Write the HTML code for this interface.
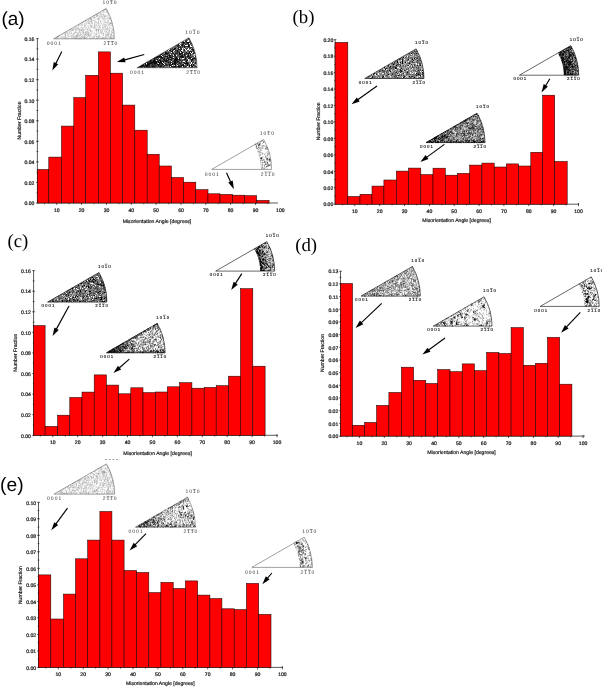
<!DOCTYPE html>
<html lang="en"><head><meta charset="utf-8"><title>Misorientation angle distributions</title>
<style>
html,body{margin:0;padding:0;background:#fff;}
body{width:602px;height:687px;overflow:hidden;}
svg{display:block;text-rendering:geometricPrecision;}
.t{font-family:"Liberation Sans",Arial,sans-serif;font-size:5.1px;fill:#111;stroke:#111;stroke-width:.2;}
.t2{font-family:"Liberation Sans",Arial,sans-serif;font-size:5.1px;fill:#111;stroke:#111;stroke-width:.18;}
.k{font-family:"Liberation Sans",Arial,sans-serif;font-size:5px;fill:#333;letter-spacing:1px;}
.k2{font-family:"Liberation Sans",Arial,sans-serif;font-size:4.4px;fill:#000;stroke:#000;stroke-width:.1;letter-spacing:1.05px;}
.ps{font-family:"Liberation Sans",Arial,sans-serif;fill:#000;}
.pr{font-family:"Liberation Serif","Times New Roman",serif;fill:#000;}
.bar{fill:#fe0000;stroke:#1a0000;stroke-width:.55;}
.ax{stroke:#000;stroke-width:.65;fill:none;}
.wl{stroke:#444;stroke-width:.5;fill:none;}
.wd{stroke:#555;stroke-width:.5;fill:none;stroke-dasharray:.7 .8;}
.wl2{stroke:#000;stroke-width:.6;fill:none;}
</style></head><body>
<svg width="602" height="687" viewBox="0 0 602 687">
<defs><filter id="soft" x="-5%" y="-5%" width="110%" height="110%"><feGaussianBlur stdDeviation=".35"/></filter></defs>
<rect width="602" height="687" fill="#fff"/>
<g filter="url(#soft)">
<g id="panel-a">
<path class="ax" d="M37.4 38.6V203H278M38.7 203h-2.6M38.2 192.7h-1.6M38.7 182.4h-2.6M38.2 172.2h-1.6M38.7 161.9h-2.6M38.2 151.6h-1.6M38.7 141.3h-2.6M38.2 131.1h-1.6M38.7 120.8h-2.6M38.2 110.5h-1.6M38.7 100.2h-2.6M38.2 90h-1.6M38.7 79.7h-2.6M38.2 69.4h-1.6M38.7 59.1h-2.6M38.2 48.9h-1.6M38.7 38.6h-2.6M44.4 202.2v2M56.8 201.7v3.2M69.2 202.2v2M81.6 201.7v3.2M94 202.2v2M106.5 201.7v3.2M118.9 202.2v2M131.3 201.7v3.2M143.7 202.2v2M156.1 201.7v3.2M168.6 202.2v2M181 201.7v3.2M193.4 202.2v2M205.8 201.7v3.2M218.2 202.2v2M230.6 201.7v3.2M243.1 202.2v2M255.5 201.7v3.2M267.9 202.2v2"/>
<rect class="bar" x="37.4" y="169.5" width="11.4" height="33.5"/>
<rect class="bar" x="48.8" y="157.1" width="12.7" height="45.9"/>
<rect class="bar" x="61.5" y="126.1" width="12.3" height="76.9"/>
<rect class="bar" x="73.8" y="97.6" width="11.9" height="105.4"/>
<rect class="bar" x="85.7" y="75.3" width="12.7" height="127.7"/>
<rect class="bar" x="98.4" y="51.9" width="12" height="151.1"/>
<rect class="bar" x="110.4" y="73.2" width="12.2" height="129.8"/>
<rect class="bar" x="122.6" y="105.1" width="12.2" height="97.9"/>
<rect class="bar" x="134.8" y="130.2" width="12.4" height="72.8"/>
<rect class="bar" x="147.2" y="154.3" width="12" height="48.7"/>
<rect class="bar" x="159.2" y="166" width="12.2" height="37"/>
<rect class="bar" x="171.4" y="177.5" width="12.2" height="25.5"/>
<rect class="bar" x="183.6" y="182.2" width="12.2" height="20.8"/>
<rect class="bar" x="195.8" y="189.7" width="12.2" height="13.3"/>
<rect class="bar" x="208" y="193.8" width="12" height="9.2"/>
<rect class="bar" x="220" y="194.4" width="12.4" height="8.6"/>
<rect class="bar" x="232.4" y="195.2" width="12" height="7.8"/>
<rect class="bar" x="244.4" y="195.7" width="12.2" height="7.3"/>
<rect class="bar" x="256.6" y="200.4" width="12.5" height="2.6"/>
<text class="t" x="34.4" y="205.2" text-anchor="end">0.00</text>
<text class="t" x="34.4" y="184.6" text-anchor="end">0.02</text>
<text class="t" x="34.4" y="164.1" text-anchor="end">0.04</text>
<text class="t" x="34.4" y="143.5" text-anchor="end">0.06</text>
<text class="t" x="34.4" y="123" text-anchor="end">0.08</text>
<text class="t" x="34.4" y="102.5" text-anchor="end">0.10</text>
<text class="t" x="34.4" y="81.9" text-anchor="end">0.12</text>
<text class="t" x="34.4" y="61.3" text-anchor="end">0.14</text>
<text class="t" x="34.4" y="40.8" text-anchor="end">0.16</text>
<text class="t" x="56.8" y="212.1" text-anchor="middle">10</text>
<text class="t" x="81.6" y="212.1" text-anchor="middle">20</text>
<text class="t" x="106.5" y="212.1" text-anchor="middle">30</text>
<text class="t" x="131.3" y="212.1" text-anchor="middle">40</text>
<text class="t" x="156.1" y="212.1" text-anchor="middle">50</text>
<text class="t" x="181" y="212.1" text-anchor="middle">60</text>
<text class="t" x="205.8" y="212.1" text-anchor="middle">70</text>
<text class="t" x="230.6" y="212.1" text-anchor="middle">80</text>
<text class="t" x="255.5" y="212.1" text-anchor="middle">90</text>
<text class="t" x="280.3" y="212.1" text-anchor="middle">100</text>
<text class="t2" transform="translate(20.6 120.5) rotate(-90)" text-anchor="middle">Number Fraction</text>
<text class="t2" x="157" y="223.1" text-anchor="middle">Misorientation Angle [degrees]</text>
</g>
<g id="panel-b">
<path class="ax" d="M335.1 39.7V204.2H579M336.4 204.2h-2.6M335.9 196h-1.6M336.4 187.8h-2.6M335.9 179.5h-1.6M336.4 171.3h-2.6M335.9 163.1h-1.6M336.4 154.8h-2.6M335.9 146.6h-1.6M336.4 138.4h-2.6M335.9 130.2h-1.6M336.4 121.9h-2.6M335.9 113.7h-1.6M336.4 105.5h-2.6M335.9 97.3h-1.6M336.4 89h-2.6M335.9 80.8h-1.6M336.4 72.6h-2.6M335.9 64.4h-1.6M336.4 56.2h-2.6M335.9 47.9h-1.6M336.4 39.7h-2.6M342.4 203.4v2M354.8 202.9v3.2M367.2 203.4v2M379.7 202.9v3.2M392.1 203.4v2M404.5 202.9v3.2M416.9 203.4v2M429.4 202.9v3.2M441.8 203.4v2M454.2 202.9v3.2M466.6 203.4v2M479.1 202.9v3.2M491.5 203.4v2M503.9 202.9v3.2M516.4 203.4v2M528.8 202.9v3.2M541.2 203.4v2M553.6 202.9v3.2M566.1 203.4v2M578.5 202.9v3.2"/>
<rect class="bar" x="335.1" y="42.4" width="12.7" height="161.8"/>
<rect class="bar" x="347.8" y="196.5" width="12.2" height="7.7"/>
<rect class="bar" x="360" y="194.3" width="12" height="9.9"/>
<rect class="bar" x="372" y="186.1" width="11.9" height="18.1"/>
<rect class="bar" x="383.9" y="180" width="12.5" height="24.2"/>
<rect class="bar" x="396.4" y="171.1" width="12.2" height="33.1"/>
<rect class="bar" x="408.6" y="168.1" width="12.2" height="36.1"/>
<rect class="bar" x="420.8" y="174.6" width="12.2" height="29.6"/>
<rect class="bar" x="433" y="168.2" width="12.3" height="36"/>
<rect class="bar" x="445.3" y="175.2" width="12.2" height="29"/>
<rect class="bar" x="457.5" y="173.4" width="12.2" height="30.8"/>
<rect class="bar" x="469.7" y="165.1" width="12.2" height="39.1"/>
<rect class="bar" x="481.9" y="163.1" width="12.3" height="41.1"/>
<rect class="bar" x="494.2" y="167" width="12.2" height="37.2"/>
<rect class="bar" x="506.4" y="163.9" width="12.2" height="40.3"/>
<rect class="bar" x="518.6" y="166" width="12.2" height="38.2"/>
<rect class="bar" x="530.8" y="152.3" width="11.9" height="51.9"/>
<rect class="bar" x="542.7" y="95.2" width="12" height="109"/>
<rect class="bar" x="554.7" y="161.5" width="12.5" height="42.7"/>
<text class="t" x="333.3" y="206.4" text-anchor="end">0.00</text>
<text class="t" x="333.3" y="189.9" text-anchor="end">0.02</text>
<text class="t" x="333.3" y="173.5" text-anchor="end">0.04</text>
<text class="t" x="333.3" y="157" text-anchor="end">0.06</text>
<text class="t" x="333.3" y="140.6" text-anchor="end">0.08</text>
<text class="t" x="333.3" y="124.1" text-anchor="end">0.10</text>
<text class="t" x="333.3" y="107.7" text-anchor="end">0.12</text>
<text class="t" x="333.3" y="91.2" text-anchor="end">0.14</text>
<text class="t" x="333.3" y="74.8" text-anchor="end">0.16</text>
<text class="t" x="333.3" y="58.4" text-anchor="end">0.18</text>
<text class="t" x="333.3" y="41.9" text-anchor="end">0.20</text>
<text class="t" x="354.8" y="213.3" text-anchor="middle">10</text>
<text class="t" x="379.7" y="213.3" text-anchor="middle">20</text>
<text class="t" x="404.5" y="213.3" text-anchor="middle">30</text>
<text class="t" x="429.4" y="213.3" text-anchor="middle">40</text>
<text class="t" x="454.2" y="213.3" text-anchor="middle">50</text>
<text class="t" x="479.1" y="213.3" text-anchor="middle">60</text>
<text class="t" x="503.9" y="213.3" text-anchor="middle">70</text>
<text class="t" x="528.8" y="213.3" text-anchor="middle">80</text>
<text class="t" x="553.6" y="213.3" text-anchor="middle">90</text>
<text class="t" x="578.5" y="213.3" text-anchor="middle">100</text>
<text class="t2" transform="translate(319.5 121.3) rotate(-90)" text-anchor="middle">Number Fraction</text>
<text class="t2" x="456.6" y="222.4" text-anchor="middle">Misorientation Angle [degrees]</text>
</g>
<g id="panel-c">
<path class="ax" d="M33.6 270.6V435.3H277.7M34.9 435.3h-2.6M34.4 425h-1.6M34.9 414.7h-2.6M34.4 404.4h-1.6M34.9 394.1h-2.6M34.4 383.8h-1.6M34.9 373.5h-2.6M34.4 363.2h-1.6M34.9 352.9h-2.6M34.4 342.7h-1.6M34.9 332.4h-2.6M34.4 322.1h-1.6M34.9 311.8h-2.6M34.4 301.5h-1.6M34.9 291.2h-2.6M34.4 280.9h-1.6M34.9 270.6h-2.6M40.3 434.5v2M52.8 434v3.2M65.3 434.5v2M77.7 434v3.2M90.2 434.5v2M102.6 434v3.2M115.1 434.5v2M127.5 434v3.2M140 434.5v2M152.4 434v3.2M164.9 434.5v2M177.4 434v3.2M189.8 434.5v2M202.3 434v3.2M214.7 434.5v2M227.2 434v3.2M239.6 434.5v2M252.1 434v3.2M264.5 434.5v2M277 434v3.2"/>
<rect class="bar" x="33.6" y="325.6" width="11.5" height="109.7"/>
<rect class="bar" x="45.1" y="426.4" width="12.5" height="8.9"/>
<rect class="bar" x="57.6" y="415.2" width="12.2" height="20.1"/>
<rect class="bar" x="69.8" y="397.5" width="12.2" height="37.8"/>
<rect class="bar" x="82" y="392.1" width="12.2" height="43.2"/>
<rect class="bar" x="94.2" y="374.9" width="12.2" height="60.4"/>
<rect class="bar" x="106.4" y="385.1" width="12.2" height="50.2"/>
<rect class="bar" x="118.6" y="393.8" width="12.2" height="41.5"/>
<rect class="bar" x="130.8" y="387.8" width="12.2" height="47.5"/>
<rect class="bar" x="143" y="392.6" width="12.3" height="42.7"/>
<rect class="bar" x="155.3" y="392" width="12" height="43.3"/>
<rect class="bar" x="167.3" y="386.8" width="12.3" height="48.5"/>
<rect class="bar" x="179.6" y="382.7" width="12.3" height="52.6"/>
<rect class="bar" x="191.9" y="388.2" width="12.3" height="47.1"/>
<rect class="bar" x="204.2" y="387.4" width="12" height="47.9"/>
<rect class="bar" x="216.2" y="385.7" width="12.3" height="49.6"/>
<rect class="bar" x="228.5" y="376.2" width="12" height="59.1"/>
<rect class="bar" x="240.5" y="288.7" width="12.3" height="146.6"/>
<rect class="bar" x="252.8" y="366.2" width="12.3" height="69.1"/>
<text class="t" x="30.9" y="437.5" text-anchor="end">0.00</text>
<text class="t" x="30.9" y="416.9" text-anchor="end">0.02</text>
<text class="t" x="30.9" y="396.3" text-anchor="end">0.04</text>
<text class="t" x="30.9" y="375.7" text-anchor="end">0.06</text>
<text class="t" x="30.9" y="355.1" text-anchor="end">0.08</text>
<text class="t" x="30.9" y="334.6" text-anchor="end">0.10</text>
<text class="t" x="30.9" y="314" text-anchor="end">0.12</text>
<text class="t" x="30.9" y="293.4" text-anchor="end">0.14</text>
<text class="t" x="30.9" y="272.8" text-anchor="end">0.16</text>
<text class="t" x="52.8" y="444.2" text-anchor="middle">10</text>
<text class="t" x="77.7" y="444.2" text-anchor="middle">20</text>
<text class="t" x="102.6" y="444.2" text-anchor="middle">30</text>
<text class="t" x="127.5" y="444.2" text-anchor="middle">40</text>
<text class="t" x="152.4" y="444.2" text-anchor="middle">50</text>
<text class="t" x="177.4" y="444.2" text-anchor="middle">60</text>
<text class="t" x="202.3" y="444.2" text-anchor="middle">70</text>
<text class="t" x="227.2" y="444.2" text-anchor="middle">80</text>
<text class="t" x="252.1" y="444.2" text-anchor="middle">90</text>
<text class="t" x="277" y="444.2" text-anchor="middle">100</text>
<text class="t2" transform="translate(16.8 352.7) rotate(-90)" text-anchor="middle">Number Fraction</text>
<text class="t2" x="157.6" y="455.4" text-anchor="middle">Misorientation Angle [degrees]</text>
</g>
<g id="panel-d">
<path class="ax" d="M340.5 271.2V436.1H584.9M341.8 436.1h-2.6M341.3 429.8h-1.6M341.8 423.4h-2.6M341.3 417.1h-1.6M341.8 410.7h-2.6M341.3 404.4h-1.6M341.8 398h-2.6M341.3 391.7h-1.6M341.8 385.4h-2.6M341.3 379h-1.6M341.8 372.7h-2.6M341.3 366.3h-1.6M341.8 360h-2.6M341.3 353.6h-1.6M341.8 347.3h-2.6M341.3 341h-1.6M341.8 334.6h-2.6M341.3 328.3h-1.6M341.8 321.9h-2.6M341.3 315.6h-1.6M341.8 309.3h-2.6M341.3 302.9h-1.6M341.8 296.6h-2.6M341.3 290.2h-1.6M341.8 283.9h-2.6M341.3 277.5h-1.6M341.8 271.2h-2.6M347 435.3v2M359.4 434.8v3.2M371.8 435.3v2M384.3 434.8v3.2M396.7 435.3v2M409.1 434.8v3.2M421.5 435.3v2M434 434.8v3.2M446.4 435.3v2M458.8 434.8v3.2M471.2 435.3v2M483.7 434.8v3.2M496.1 435.3v2M508.5 434.8v3.2M521 435.3v2M533.4 434.8v3.2M545.8 435.3v2M558.2 434.8v3.2M570.7 435.3v2M583.1 434.8v3.2"/>
<rect class="bar" x="340.5" y="283.5" width="12" height="152.6"/>
<rect class="bar" x="352.5" y="425.3" width="12.2" height="10.8"/>
<rect class="bar" x="364.7" y="422.4" width="11.9" height="13.7"/>
<rect class="bar" x="376.6" y="405.4" width="12.3" height="30.7"/>
<rect class="bar" x="388.9" y="392.5" width="12.5" height="43.6"/>
<rect class="bar" x="401.4" y="367.2" width="12.2" height="68.9"/>
<rect class="bar" x="413.6" y="380.3" width="12.2" height="55.8"/>
<rect class="bar" x="425.8" y="383.5" width="11.9" height="52.6"/>
<rect class="bar" x="437.7" y="369.6" width="12.3" height="66.5"/>
<rect class="bar" x="450" y="371.7" width="12.2" height="64.4"/>
<rect class="bar" x="462.2" y="363.9" width="12.2" height="72.2"/>
<rect class="bar" x="474.4" y="370.6" width="12.2" height="65.5"/>
<rect class="bar" x="486.6" y="352.5" width="12.3" height="83.6"/>
<rect class="bar" x="498.9" y="353.5" width="12.2" height="82.6"/>
<rect class="bar" x="511.1" y="327.6" width="12.2" height="108.5"/>
<rect class="bar" x="523.3" y="365.3" width="12.3" height="70.8"/>
<rect class="bar" x="535.6" y="363.3" width="11.9" height="72.8"/>
<rect class="bar" x="547.5" y="337.4" width="12.2" height="98.7"/>
<rect class="bar" x="559.7" y="384.2" width="12.2" height="51.9"/>
<text class="t" x="338.3" y="438.3" text-anchor="end">0.00</text>
<text class="t" x="338.3" y="425.6" text-anchor="end">0.01</text>
<text class="t" x="338.3" y="412.9" text-anchor="end">0.02</text>
<text class="t" x="338.3" y="400.2" text-anchor="end">0.03</text>
<text class="t" x="338.3" y="387.6" text-anchor="end">0.04</text>
<text class="t" x="338.3" y="374.9" text-anchor="end">0.05</text>
<text class="t" x="338.3" y="362.2" text-anchor="end">0.06</text>
<text class="t" x="338.3" y="349.5" text-anchor="end">0.07</text>
<text class="t" x="338.3" y="336.8" text-anchor="end">0.08</text>
<text class="t" x="338.3" y="324.1" text-anchor="end">0.09</text>
<text class="t" x="338.3" y="311.5" text-anchor="end">0.10</text>
<text class="t" x="338.3" y="298.8" text-anchor="end">0.11</text>
<text class="t" x="338.3" y="286.1" text-anchor="end">0.12</text>
<text class="t" x="338.3" y="273.4" text-anchor="end">0.13</text>
<text class="t" x="359.4" y="444.9" text-anchor="middle">10</text>
<text class="t" x="384.3" y="444.9" text-anchor="middle">20</text>
<text class="t" x="409.1" y="444.9" text-anchor="middle">30</text>
<text class="t" x="434" y="444.9" text-anchor="middle">40</text>
<text class="t" x="458.8" y="444.9" text-anchor="middle">50</text>
<text class="t" x="483.7" y="444.9" text-anchor="middle">60</text>
<text class="t" x="508.5" y="444.9" text-anchor="middle">70</text>
<text class="t" x="533.4" y="444.9" text-anchor="middle">80</text>
<text class="t" x="558.2" y="444.9" text-anchor="middle">90</text>
<text class="t" x="583.1" y="444.9" text-anchor="middle">100</text>
<text class="t2" transform="translate(324.2 353) rotate(-90)" text-anchor="middle">Number Fraction</text>
<text class="t2" x="461.5" y="453.8" text-anchor="middle">Misorientation Angle [degrees]</text>
</g>
<g id="panel-e">
<path class="ax" d="M38.5 502.3V667.4H282.9M39.8 667.4h-2.6M39.3 659.1h-1.6M39.8 650.9h-2.6M39.3 642.6h-1.6M39.8 634.4h-2.6M39.3 626.1h-1.6M39.8 617.9h-2.6M39.3 609.6h-1.6M39.8 601.4h-2.6M39.3 593.1h-1.6M39.8 584.9h-2.6M39.3 576.6h-1.6M39.8 568.3h-2.6M39.3 560.1h-1.6M39.8 551.8h-2.6M39.3 543.6h-1.6M39.8 535.3h-2.6M39.3 527.1h-1.6M39.8 518.8h-2.6M39.3 510.6h-1.6M39.8 502.3h-2.6M45.8 666.6v2M58.3 666.1v3.2M70.8 666.6v2M83.2 666.1v3.2M95.6 666.6v2M108.1 666.1v3.2M120.5 666.6v2M133 666.1v3.2M145.4 666.6v2M157.9 666.1v3.2M170.3 666.6v2M182.8 666.1v3.2M195.2 666.6v2M207.7 666.1v3.2M220.1 666.6v2M232.6 666.1v3.2M245 666.6v2M257.5 666.1v3.2M269.9 666.6v2M282.4 666.1v3.2"/>
<rect class="bar" x="38.5" y="574.9" width="12.3" height="92.5"/>
<rect class="bar" x="50.8" y="619" width="12.7" height="48.4"/>
<rect class="bar" x="63.5" y="594.1" width="12" height="73.3"/>
<rect class="bar" x="75.5" y="558.8" width="12.2" height="108.6"/>
<rect class="bar" x="87.7" y="540.1" width="12.2" height="127.3"/>
<rect class="bar" x="99.9" y="511.5" width="12" height="155.9"/>
<rect class="bar" x="111.9" y="540.1" width="12.2" height="127.3"/>
<rect class="bar" x="124.1" y="570.5" width="12.5" height="96.9"/>
<rect class="bar" x="136.6" y="572.5" width="12.2" height="94.9"/>
<rect class="bar" x="148.8" y="592.6" width="12.1" height="74.8"/>
<rect class="bar" x="160.9" y="582.4" width="12.3" height="85"/>
<rect class="bar" x="173.2" y="588.5" width="12.2" height="78.9"/>
<rect class="bar" x="185.4" y="580.9" width="12.3" height="86.5"/>
<rect class="bar" x="197.7" y="595.1" width="12.2" height="72.3"/>
<rect class="bar" x="209.9" y="598.6" width="12" height="68.8"/>
<rect class="bar" x="221.9" y="608.8" width="12.3" height="58.6"/>
<rect class="bar" x="234.2" y="609.6" width="12.2" height="57.8"/>
<rect class="bar" x="246.4" y="583.4" width="12.3" height="84"/>
<rect class="bar" x="258.7" y="614.4" width="12.3" height="53"/>
<text class="t" x="36.1" y="669.6" text-anchor="end">0.00</text>
<text class="t" x="36.1" y="653.1" text-anchor="end">0.01</text>
<text class="t" x="36.1" y="636.6" text-anchor="end">0.02</text>
<text class="t" x="36.1" y="620.1" text-anchor="end">0.03</text>
<text class="t" x="36.1" y="603.6" text-anchor="end">0.04</text>
<text class="t" x="36.1" y="587.1" text-anchor="end">0.05</text>
<text class="t" x="36.1" y="570.5" text-anchor="end">0.06</text>
<text class="t" x="36.1" y="554" text-anchor="end">0.07</text>
<text class="t" x="36.1" y="537.5" text-anchor="end">0.08</text>
<text class="t" x="36.1" y="521" text-anchor="end">0.09</text>
<text class="t" x="36.1" y="504.5" text-anchor="end">0.10</text>
<text class="t" x="58.3" y="676.4" text-anchor="middle">10</text>
<text class="t" x="83.2" y="676.4" text-anchor="middle">20</text>
<text class="t" x="108.1" y="676.4" text-anchor="middle">30</text>
<text class="t" x="133" y="676.4" text-anchor="middle">40</text>
<text class="t" x="157.9" y="676.4" text-anchor="middle">50</text>
<text class="t" x="182.8" y="676.4" text-anchor="middle">60</text>
<text class="t" x="207.7" y="676.4" text-anchor="middle">70</text>
<text class="t" x="232.6" y="676.4" text-anchor="middle">80</text>
<text class="t" x="257.5" y="676.4" text-anchor="middle">90</text>
<text class="t" x="282.4" y="676.4" text-anchor="middle">100</text>
<text class="t2" transform="translate(22.3 585.1) rotate(-90)" text-anchor="middle">Number Fraction</text>
<text class="t2" x="160.3" y="685.1" text-anchor="middle">Misorientation Angle [degrees]</text>
</g>
<g id="ipf-1">
<path d="M87.8 36.1h.5M69.1 34.3h.5M67.5 35h.5M93.3 37.3h.5M89.3 22.2h.5M80.6 29.6h.5M98.5 29.3h.5M65.2 33.1h.5M76.4 37.4h.5M108 33.6h.5M101 29.4h.5M68.6 38.3h.5M102.2 27.7h.5M98.5 27.9h.5M103.9 19.5h.5M97.7 26.3h.5M104.6 31h.5M73.8 34.3h.5M76.3 32.8h.5M99.1 19.5h.5M109.4 29.5h.5M98 24.8h.5M102.3 12.4h.5M102.8 37.2h.5M95.8 14.6h.5M85.1 32.3h.5M62.3 36.6h.5M74.2 38.2h.5M75.1 36h.5M110 36.4h.5M93.6 18.8h.5M109.2 30.6h.5M85.9 22.6h.5M76.9 36.6h.5M81.8 31.4h.5M84.5 38.7h.5M88.7 28h.5M102 25.4h.5M103.3 37.4h.5M101.5 15.1h.5M90.6 30.9h.5M101.7 37.2h.5M81 36.4h.5M67.3 38.8h.5M72.4 35.1h.5M107.2 20.9h.5M83.4 33.3h.5M72.6 29.7h.5M93.5 28.4h.5M72.5 35.3h.5M108.4 34.1h.5M110.3 22.7h.5M98.1 38.2h.5M107.4 12.6h.5M83.8 32.9h.5M104.6 24.1h.5M88 34.7h.5M107.7 12.8h.5M104.2 18.1h.5M96.3 30.7h.5M63.5 37.3h.5M97.7 14.6h.5M104.4 9.8h.5M89.8 34.6h.5M80.2 35.9h.5M105.5 14.3h.5M98.2 18.9h.5M97.2 16.2h.5M104.3 25.8h.5M106.5 29.5h.5M111.9 26.5h.5M108.2 17h.5M75 37.1h.5M107.7 34.6h.5M109.9 18.6h.5M98.2 35.7h.5M109.7 18.9h.5M110.5 25.6h.5M108.2 32.7h.5M86 34.7h.5M83.6 32.1h.5M110.3 28.2h.5M94.6 17.7h.5M109.5 23.7h.5M97.3 38.4h.5M79.4 38.7h.5M77.8 32.6h.5M98 31.1h.5M94.9 20.8h.5M98.4 32.9h.5M104.8 24.8h.5M100.4 14.5h.5M99.2 26.4h.5M102.5 27h.5M90.4 19h.5M103.4 11.9h.5M93.4 17.3h.5M75.8 37.4h.5M69.6 36.7h.5M98.9 19h.5M75.6 30.1h.5M74 28.6h.5M78.4 25.2h.5M90.2 17.8h.5M77.2 33.3h.5M88.6 35.2h.5M104.9 38.3h.5M93.7 38.4h.5M99.6 26.1h.5M108.5 14.7h.5M72.9 36.1h.5M106.4 31.3h.5M88.4 20.7h.5M84.2 36.4h.5M96.2 22.4h.5M67.1 33.7h.5M67.8 31.1h.5M107.7 36.4h.5M67.5 32h.5M87.3 28.7h.5M84.7 36.7h.5M83 37.1h.5M67 37.4h.5M84.3 25.8h.5M96.1 34.8h.5M61.5 37.7h.5M103.2 24h.5M90.3 19.2h.5M106.9 26.5h.5M107.6 27.5h.5M97.2 14.1h.5M105 18.8h.5M91.4 31.8h.5M75.3 38h.5M84 36.2h.5M103.4 14.3h.5M85.4 34.7h.5M94.4 35.4h.5M80.7 23.8h.5M97.9 33.1h.5M86.6 32.5h.5M89.7 29.6h.5M79.7 31.7h.5M84.6 37.3h.5M65.8 38.7h.5M81.3 30h.5M102.9 21.1h.5M109.1 27.3h.5M113.4 34.1h.5M102 37.7h.5M107.6 20.3h.5M107.9 34.8h.5M92.4 20.6h.5M106 22.2h.5M100.3 21h.5M64.1 38.1h.5M71.2 30.5h.5M98.9 23.3h.5M95.8 38.7h.5M104.1 25.2h.5M102.6 37.1h.5M83.9 37.6h.5M104.9 33.2h.5M111.3 23.5h.5M92.7 24.1h.5M98.4 23.1h.5M76.5 35.7h.5M85.4 29h.5M68.2 36.7h.5M100.7 21.3h.5M95.7 28.3h.5M72.1 29.4h.5M106.3 10.6h.5M90.8 21.7h.5M93.7 33.1h.5M112 32.3h.5M75.4 32.6h.5M73.5 29.6h.5M106.7 18.3h.5M109 24.3h.5M57 37.9h.5M86.7 36.3h.5M84.3 24.3h.5M101 16.5h.5M107.8 17.5h.5M85.5 32.5h.5M111.2 20.4h.5M92.7 33.1h.5M71 30.6h.5M111.6 31.2h.5M96.6 34.5h.5M106.5 12.3h.5M96.2 16.6h.5M95.2 22.3h.5M103.9 26.7h.5M101.6 31.5h.5M111.7 34.9h.5M88.5 33.3h.5M112.8 30.7h.5M85.3 29.2h.5M78.2 36.7h.5M109.2 24h.5M103.5 10h.5M76 36.5h.5M88.8 37.1h.5M82.9 29.7h.5M104.7 27.5h.5M96.5 30.2h.5M68.4 36.6h.5M74.2 33.2h.5M109.4 32.4h.5M83 32.5h.5M106.9 13.4h.5M62.4 38.6h.5M109.1 24.7h.5M54.2 38.6h.5M103.1 15h.5M83.6 37.1h.5M94.5 23.5h.5M102 21.7h.5M92.7 27.1h.5M106.7 32.3h.5M101.5 31.1h.5M82.2 28.9h.5M73.7 38.1h.5M98.8 29.5h.5M100.4 38.5h.5M89.5 19h.5M108.7 24.8h.5M79.8 24.3h.5M87 38.4h.5M102 27.9h.5M97.3 15.7h.5M64.5 36.8h.5M103.2 33.6h.5M103.7 25.2h.5M112.3 29.1h.5M82.4 35.4h.5M82.4 23.1h.5M79.5 35.7h.5M96.9 15.2h.5M91.2 34.6h.5M76.3 38.2h.5M87.3 21.6h.5M98.4 12.9h.5M88.1 35.4h.5M105.8 37.9h.5M90 31.5h.5M78.4 38.8h.5M85 21.6h.5M112.6 32.4h.5M103.4 15.9h.5M66.5 35.5h.5M111.3 32.9h.5M110.8 37.9h.5M103.7 17.5h.5M64.8 38.4h.5M81.9 27.1h.5M88.4 33.8h.5M100.6 32.3h.5M87.2 33.9h.5M100.2 14.5h.5M112.3 38.1h.5M90.1 18.7h.5M90.8 33.9h.5M91.1 18.9h.5M103.7 18.3h.5M104.1 22.1h.5M87.1 32.3h.5M70.4 37h.5M83.6 37.8h.5M97.8 31.2h.5M103 10.6h.5M71 37.9h.5M103.1 27h.5M90.5 26.3h.5M100.8 16.3h.5M72.5 29.8h.5M98.2 29.9h.5M80.3 35.3h.5M74.7 28.2h.5M87.3 31.7h.5M96.3 33.6h.5M96 14.5h.5M91.4 21.4h.5M111.4 37.6h.5M74.3 36.7h.5M94.3 17.1h.5M108.3 25.7h.5M100.5 13.4h.5M97.8 23.9h.5M90.1 36.1h.5M82.6 29.4h.5M80.8 38.6h.5M103.1 34h.5M78.4 27.7h.5M68.7 38h.5M95.9 24h.5M76.4 30.1h.5M85.3 33.6h.5M85.8 28.9h.5M88.6 21.7h.5M89.8 35h.5M80.8 38.7h.5M89.3 22.4h.5M108.7 25.2h.5M60.5 36.7h.5M111.2 36.1h.5M89.1 29.2h.5M84.5 30.1h.5M72.8 33.7h.5M112.7 32.7h.5M104.8 10h.5M65.8 32.3h.5M108.1 20.4h.5M75.7 29.1h.5M88.3 22.3h.5M79.2 35.8h.5M96.2 30.1h.5M81.4 27.6h.5M65.2 35.2h.5M64.2 33.8h.5M98.4 25.5h.5M86.2 31.5h.5M90.7 25.4h.5M93.6 38.3h.5M95.5 33.6h.5M105.4 26.1h.5M95.1 36.5h.5M93.2 36.9h.5M96.7 37.9h.5M69.6 32.3h.5M96.8 37.6h.5M86.2 21h.5M102.1 10.8h.5M107.9 33.3h.5M90.7 18.4h.5M76 28.9h.5M68.7 36h.5M75 27.9h.5M108 34.7h.5M111.2 32.5h.5M96 31.6h.5M79.2 36.6h.5M98 16.2h.5M107 35.6h.5M100.9 29.7h.5M96.5 25.3h.5M70.5 29.1h.5M88.2 23.4h.5M111 20.8h.5M105 26.6h.5M105.7 37.5h.5M82.3 28.8h.5M97.1 23h.5M56 38.8h.5M99.8 28.1h.5M110.7 34.8h.5M102.4 38.2h.5M89.5 36.8h.5M80.8 30.2h.5M79.4 30h.5M73.1 28.3h.5M76.8 37.6h.5M105.3 16.3h.5M84.6 38.6h.5M98.1 30.5h.5M89.1 19.8h.5M80.3 25h.5M96.6 29.5h.5M66.9 33h.5M93.1 17.5h.5M79.2 30.3h.5M97.7 18.7h.5M86.7 33.5h.5M105.9 16h.5M57.8 36.7h.5M91.7 23.1h.5M82.2 37.2h.5M65.2 36.7h.5M99.1 17.2h.5M83.4 29.9h.5M105.3 24.2h.5M95.9 15.3h.5M110.3 38.3h.5M80.7 27.6h.5M105 29.9h.5M87.9 34.5h.5M98.4 21.7h.5M111.6 24.2h.5M99 16.8h.5M102.8 23.6h.5M79.9 29.9h.5M111.1 34.4h.5M70.9 29.5h.5M76.3 38.5h.5M101.1 22.4h.5M105.4 37h.5M86.7 23.6h.5M110.6 36.8h.5M104.5 11.3h.5M80.9 37.2h.5M104.3 15.8h.5M105.5 20.9h.5M72.6 37.8h.5M80.5 34.2h.5M62.1 37.6h.5M103.8 29h.5M110.9 23.3h.5M101.1 38h.5M90.3 23h.5M102.3 24.7h.5M109.7 36.1h.5M78.5 38.8h.5M99.6 12.9h.5M94.5 28h.5M78.6 32.1h.5M108.2 31.3h.5M85.5 35.2h.5M96.2 36.3h.5M69.2 31.9h.5M104.3 21.4h.5M91 30.9h.5M69.3 30.8h.5M80.7 35h.5M95.5 30.3h.5M81.9 31.8h.5M102 18.6h.5M88.7 32.7h.5M105.8 19.9h.5M77.7 33.1h.5M99.5 35.8h.5M110 31.7h.5M84.5 26.8h.5M77.2 36.9h.5M86.8 29.4h.5M88 35.4h.5M105.1 36h.5M72.4 34.9h.5M103.5 18.6h.5M78.8 30h.5M80.4 33.2h.5M88.5 23.4h.5M94 24.9h.5M75.1 31.7h.5M99.8 14.9h.5M95.9 21.3h.5M80.4 28.1h.5M103.2 19.7h.5M100.6 22.3h.5M85.5 27.8h.5M89.5 23.2h.5M101.1 32.5h.5M92.2 25.7h.5M97.5 15.5h.5M98.5 19.4h.5M90.5 18.1h.5M98 35h.5M110.1 23h.5M97.6 26h.5M94.4 24.6h.5M96.2 29.5h.5M79.5 29.1h.5M106.3 35.4h.5M89.6 37.7h.5M91.8 38.5h.5M90.2 24.8h.5M84.4 35.1h.5M110 22.8h.5M106.6 27.7h.5M73.5 30.2h.5M100.3 27.1h.5M78.7 24.9h.5M97.5 18.7h.5M94.4 32.4h.5M72.9 29.7h.5M108.8 31h.5M83.2 32h.5M56.4 37.6h.5M83.1 34.1h.5M90.9 25.8h.5M85.7 21.8h.5M66.6 32.7h.5M107 34.9h.5M101.7 38.4h.5M109.1 18.9h.5M72.7 37.4h.5M106 29.2h.5M106.2 15.6h.5M107.8 20.9h.5M97.7 16.4h.5M108.7 33.1h.5M94.3 22.1h.5M108 22.5h.5M82.7 36.7h.5M67.7 35.3h.5M94.5 27.8h.5M109.7 38.6h.5M93.1 26.8h.5M107.9 28h.5M112.8 36.5h.5M101.8 38.1h.5M97.7 15.3h.5M111.4 22.9h.5M110.9 37.8h.5M100.6 30.3h.5M89 29.8h.5M106.3 32.9h.5M91.2 27.5h.5M83.2 25h.5M96 32.7h.5M109.8 18.7h.5M87.8 33h.5M97.3 23.7h.5M64.7 34.3h.5M98.2 37.6h.5M58.2 38.3h.5M98 22.8h.5M108.3 20.6h.5M98.3 21.7h.5M103.1 33.2h.5M91.2 22.9h.5M79.2 38.3h.5M108 19.3h.5M103.8 16.8h.5M83.8 34h.5M86.8 31.2h.5M112 37.1h.5M65.5 38.1h.5M94.2 17.5h.5M60.5 37.3h.5M104.6 10h.5M92.3 36.7h.5M81.3 36.6h.5M57.4 37.3h.5M113 36.1h.5M75.2 38.6h.5M81.1 27.6h.5M65.9 33.4h.5M105.5 17.9h.5M98.2 21.4h.5M111.4 31h.5M104.8 38.5h.5M97.9 18.5h.5M84.8 26.2h.5M107.9 24.6h.5M88.5 27.9h.5M103.2 35h.5M87.9 26.7h.5M91.8 30.9h.5M107.5 15.3h.5M86.2 37.8h.5M99.6 17.5h.5M94.6 15.7h.5M99.8 31.2h.5M109.5 27.6h.5M95.4 17.5h.5M85.7 38.8h.5M91 26.9h.5M110.5 37.5h.5M102.5 14.9h.5M82.1 25.1h.5M98 15.7h.5M70.4 33.7h.5M78.5 28.4h.5M81.3 29.6h.5M94.5 34.3h.5M101.5 17.6h.5M69.8 31.4h.5M81.4 30.1h.5M108.3 23.4h.5M99.7 34.2h.5M77.5 29.6h.5M98 29.3h.5M76.8 38.3h.5M90.5 36.7h.5M107 34.4h.5M87.7 29.2h.5M63.1 33.3h.5M93.9 26.4h.5M105.6 27h.5M101.7 16.7h.5M84 38.2h.5M79.2 37.7h.5M94.1 18.9h.5M105.9 11.8h.5M99.3 29.1h.5M112.3 30.8h.5M96 15.5h.5M90.4 30h.5M105.2 9.2h.5M65.3 37.2h.5M104.7 12.5h.5M65.5 33.5h.5M95.8 14.8h.5M74.7 29.9h.5M102.7 31h.5M106.1 35.9h.5M84.1 36.8h.5M78.1 35.7h.5M103.3 38.5h.5M80.2 38.3h.5M78.6 25.4h.5M110.4 34.6h.5M70.1 30h.5M100.1 27.5h.5M106.7 25.2h.5M76.2 36.1h.5M102.5 24.2h.5M109.4 30.9h.5M77.1 35.4h.5M88.4 35.7h.5M83.9 23.2h.5M113.4 37h.5M102.7 33.3h.5M85.6 34.4h.5M85.2 20.7h.5M111.7 35.8h.5M110.8 37.1h.5M82.1 22.7h.5M107 29.1h.5M55.9 37.7h.5M78.9 32.9h.5M80.5 30.5h.5M77.1 28.7h.5M80.3 37.7h.5M99.1 26.7h.5M79.6 30.1h.5M105.5 22.4h.5M67.9 33h.5M104.9 37.3h.5M85.2 23.8h.5M96 38.5h.5M91 20.4h.5M77.1 27.8h.5M77.5 34.1h.5M57.4 37.7h.5M96.9 36.1h.5M102.7 14.8h.5M103.5 28.7h.5M66.9 32.2h.5M94.5 27.5h.5M97.9 38.3h.5M82 36.1h.5M81 26.2h.5M71 32.1h.5M61.1 36.3h.5M94.3 23h.5M106 18.1h.5M74 33.4h.5M85.4 36.8h.5M74.8 32h.5M75.7 31.9h.5M75.8 28.5h.5M90.3 30.5h.5M96.4 29.8h.5M106 29.4h.5M87.6 30.9h.5M101.7 13.8h.5M109.2 37.2h.5M105.8 10.9h.5M90.7 26h.5M97.6 37.2h.5M96.5 38.3h.5M108.3 15.2h.5M97.4 19h.5M110.4 37.8h.5M82.7 27.9h.5M92.9 18h.5M82.7 30.6h.5M111.9 29.9h.5M102.1 35.7h.5M110.6 23.1h.5M93.2 27.4h.5M74.7 37.3h.5M91.6 33h.5M70.7 33.7h.5M98.7 24.9h.5M78.8 28.9h.5M96 24.7h.5M86.9 34.5h.5M96 30.2h.5M59.9 37.6h.5M81.8 30.3h.5M81.6 22.8h.5M106.5 34.4h.5M108.5 25.9h.5M90.2 30.2h.5M73.3 36.4h.5M105.4 34.6h.5M87.2 26.3h.5M104.2 15.5h.5M101.6 19h.5M91.7 22.1h.5M111.3 34.9h.5M57.1 37.2h.5M90.9 18.1h.5M89.4 23.2h.5M99.7 29.5h.5M91.6 23.6h.5M89.7 27.9h.5M85 25h.5M95.1 28.9h.5M86.8 36.3h.5M99.6 36.7h.5M84.6 24.1h.5M112.4 32.5h.5M111.3 38.5h.5M97.5 27.1h.5M104.6 24h.5M95.5 27.1h.5M90.6 31.8h.5M85 21.7h.5M97.3 36.5h.5M90.2 27.7h.5M103.2 11.3h.5M91.5 25.9h.5M87.6 29.1h.5M78.1 34.6h.5M106.6 24.2h.5M107.1 18.5h.5M107.4 11.8h.5M77.1 35.2h.5M96.3 34.6h.5M99.2 23.9h.5M110.5 19h.5M89.1 23.2h.5M103.8 38.7h.5M106.5 22h.5M79.4 31.9h.5M82.9 28.4h.5M111.2 20.9h.5M74.5 37.1h.5M73.2 37.8h.5M93.2 20.5h.5M107.8 37h.5M105.9 29.9h.5M89.4 35.6h.5M70.5 30.1h.5M88.3 30.4h.5M66.1 32.4h.5M111.2 25.3h.5M83.7 38.1h.5M108.7 29.6h.5M107.5 30.1h.5M110.8 23.6h.5M82.7 32.7h.5M81.6 34.2h.5M92 21.8h.5M78.2 34.1h.5M112.5 29.7h.5M73.2 33.1h.5M91.9 37.5h.5M107.6 28.7h.5M79.7 34.9h.5M64.1 34.9h.5M75.8 30.2h.5M82 25.5h.5M90 21.7h.5M77.2 34.4h.5M86.1 20.9h.5M110.5 23.4h.5M94.1 36h.5M81 24.8h.5M89.9 34.1h.5M78.5 26.5h.5M95.1 26.6h.5M105.6 28.1h.5M98.5 31.4h.5M71.1 37.2h.5M85.7 27.1h.5M98.1 30.3h.5M86.5 37.7h.5M82.2 36.9h.5M84.9 32h.5M101.2 15h.5M75.3 35.6h.5M100.4 21.8h.5M90.1 25.6h.5M80.7 25.8h.5M101.3 34.2h.5M107.1 17.1h.5M65.6 38.5h.5M80.1 34.5h.5M65.3 36.9h.5M76.7 27.9h.5M104.3 32h.5M102.7 29.7h.5M104.3 16.9h.5M64.8 33.4h.5M66.5 37.1h.5M107 32.9h.5M105.9 36.4h.5M88.6 24.3h.5M85.5 37.3h.5M88.3 20.3h.5M100.7 16.9h.5M94.2 37.6h.5M91.7 28.3h.5M73.4 30.4h.5M99.8 18h.5M92.6 17h.5M97.8 33h.5M88.9 31h.5M87.1 36.4h.5M102.7 32.6h.5M95.8 28.8h.5M88.9 33.2h.5M75.3 32.2h.5M105.9 23.3h.5M76.9 30.3h.5M91.3 22.7h.5M73.7 35.7h.5M81 37.9h.5M78.6 29.1h.5M73.5 35.4h.5M89.8 35.6h.5M58.9 35.7h.5M69.8 32.4h.5M98.9 36.2h.5M93.2 34.8h.5M58.3 36.2h.5M95.8 16.2h.5M83.6 34.9h.5M62.7 34.8h.5M86.3 35.6h.5M102.7 12.8h.5M102.1 16.2h.5M87.9 35.5h.5M87.1 32.2h.5M86.8 23.3h.5M65.2 35.2h.5M104.6 19h.5M110.4 23.7h.5M77.2 35h.5M69.5 32.7h.5M88.7 19.2h.5M65.2 36h.5M105 38.7h.5M104.8 16.4h.5M83.8 27.8h.5M92.2 31.9h.5M98.4 18.1h.5M77.7 35h.5M98.2 30.6h.5M70.9 35.8h.5M106.5 11.4h.5M105.8 9.9h.5M108 37.1h.5M100.2 31.5h.5M110.7 24.1h.5M86.1 32.9h.5M63.5 37.8h.5M93.9 37h.5M88.7 27.7h.5M95.7 25.9h.5M73.8 36.9h.5M98.2 36.2h.5M83.9 37.3h.5M82.9 31.1h.5M81 30.3h.5M94.8 25.6h.5M92.1 37.3h.5M107.4 22.8h.5M106.1 35.6h.5M104.9 36h.5M91.2 35.4h.5M95.2 20.9h.5M106.8 37.2h.5M90.4 38.5h.5M81.1 34.4h.5M88.8 21.1h.5M107.6 22.4h.5M109.8 33.8h.5M86.1 25h.5M108.4 35.3h.5M99.2 14h.5M65.5 34.9h.5M94.4 20.5h.5M108.1 18.6h.5M79.4 32.6h.5M99.6 36.1h.5M71.8 30.6h.5M98 32h.5M90.7 36h.5M95.1 23.1h.5M112.5 38.4h.5M76.2 32.7h.5M107.7 37.8h.5M104.8 19.7h.5M95.1 35.3h.5M87.6 22h.5M69.9 35.9h.5M108 21.4h.5M78 34.1h.5M98.5 29.5h.5M57.9 37.4h.5M61.9 36.7h.5M66.3 37.8h.5M84.8 34.3h.5M83.1 29.7h.5M104.9 9.4h.5M95.2 21h.5M103.9 21.4h.5M89.6 33.4h.5M103.4 12.1h.5M84.2 25.8h.5M94.3 24.7h.5M97.4 29.3h.5M88.1 32.9h.5M94.7 30.8h.5M82.3 33.5h.5M58.1 36.5h.5M92.1 26.9h.5M78.3 37.9h.5M84.7 26.3h.5M111.2 28.4h.5M99.7 36.9h.5M93.6 16h.5M105.4 26.9h.5M68.7 34.8h.5M85 34.5h.5M77.8 35.4h.5M81.1 32.9h.5M95.8 18.2h.5M78.4 28.7h.5M100.4 36.8h.5M109.3 28.7h.5M78.7 31.5h.5M96.4 16.3h.5M85.5 25.6h.5M89.6 25.4h.5M67.6 35.7h.5M100.7 30.4h.5M99.9 32.5h.5M59.7 35.5h.5M113.6 37h.5M104.3 30h.5M77.3 37h.5M70 31.3h.5M95.8 25.3h.5M100.2 23.6h.5M105.1 31.8h.5M102.1 17.9h.5M99.9 12.7h.5M84.2 30.1h.5M75.5 38.7h.5M98.5 19.5h.5M113.3 31.6h.5M71.6 38.5h.5M67.8 34.9h.5M76.2 26.6h.5M76.8 36.6h.5M111.4 33.9h.5M106.5 32h.5M93.9 24.8h.5M106.1 25.9h.5M111 35.6h.5M68.1 33.7h.5M109.8 37h.5M87.8 20.8h.5M101.1 33.2h.5M83.7 31.8h.5M78.6 28.2h.5M82.2 22.3h.5M99 35.1h.5M109.4 30.9h.5M107.8 30.7h.5M91.2 19.8h.5M101.1 23.4h.5M94.7 18.2h.5M109.4 28.1h.5M109.5 33.4h.5M113.2 29.4h.5M71.1 28.9h.5M111.1 34.2h.5M72.3 37.1h.5M71.4 35.6h.5M99.4 15.9h.5M64.4 37.5h.5M103.8 37.8h.5M81.9 32.3h.5M60.9 34.6h.5M110.1 35.2h.5M75.2 33.8h.5M103.5 34.9h.5M96.3 36.3h.5M91.3 19h.5M78 25.2h.5M104.7 31.4h.5M84.6 37.7h.5M95.7 29.6h.5M89.9 38.6h.5M100.5 25h.5M97.3 14h.5M103.7 28.1h.5M87.7 19.7h.5M90.2 30.8h.5M114 38.6h.5M111.3 31h.5M90.4 34.1h.5M72.1 30h.5M111.2 37.3h.5M86 27.3h.5M83.2 22.2h.5M100.7 16.2h.5M93.9 15.6h.5M97.9 20.6h.5M103.5 28.3h.5M97.9 22.3h.5M99.6 25.3h.5M100.4 32.2h.5M92.2 23.4h.5M95 34h.5M109.6 22.8h.5M93.5 20.6h.5M76.3 28.3h.5M97.5 18.4h.5M109.9 37.5h.5M103.7 15.8h.5M77 35.7h.5M86.5 24h.5M94.2 36.9h.5M110 17.3h.5M91.8 21.8h.5M75.4 30.6h.5M96.8 33.4h.5M88.1 31.8h.5M79.4 30.8h.5M77.3 29.4h.5M87.7 34.4h.5M70.8 32.8h.5M80 32.8h.5M100.2 29.6h.5M93 31.1h.5M85.6 31.8h.5M107.1 28.8h.5M94.2 17.3h.5M109.1 17h.5M102.2 30.3h.5M105.1 28.4h.5M91.5 19.4h.5M62.7 35.8h.5M90.7 21.3h.5M90.7 20.1h.5M94.4 27.6h.5M99.4 20h.5M64.9 34.5h.5M102.3 18h.5M81.9 37.7h.5M72.8 37.9h.5M99 37.5h.5M102.9 26h.5M102.6 27.9h.5M108.5 13.7h.5M76.2 34.8h.5M57.5 36.5h.5M84.1 33.7h.5M107.3 22.7h.5M92.7 37.7h.5M105 15.8h.5M84 35.6h.5M97 30.2h.5M93.9 26h.5M107.4 33.1h.5M98.6 37.6h.5M96.7 29.4h.5M87.6 33.9h.5M83.9 26.9h.5M98.8 27.8h.5M89.7 20.9h.5M91.1 25.7h.5M109.7 36.7h.5M76.2 26.9h.5M105.8 24.8h.5M102.6 31.1h.5M108.8 34.6h.5M81 37.3h.5M100.6 13.2h.5M102.2 32.2h.5M103.5 34.7h.5M104 37.7h.5M86 34.8h.5M86.2 28.9h.5M110.5 29h.5M75 29.2h.5M91.4 38.1h.5M101.6 33.1h.5M71.4 34.3h.5M90.7 25h.5M108.5 35.3h.5M106.8 10.2h.5M85.6 32.9h.5M91.2 18.8h.5M91.4 20.4h.5M98 36.7h.5M81.6 24.6h.5M79 25.4h.5M94.5 16.1h.5M108.9 19h.5M87.5 30.6h.5M105.4 33.9h.5M86.5 37.6h.5M71.4 33.5h.5M98.9 27.6h.5M96.8 36.6h.5M74.5 32.2h.5M88.3 26.2h.5M75.4 27h.5M103.4 14.2h.5M76.8 37.6h.5M73.5 33.5h.5M73.6 33.8h.5M96.2 27.2h.5M79.8 33.1h.5M74.9 36.1h.5M91.8 19.5h.5M110.4 23.9h.5M96.3 22.6h.5M105.8 34.6h.5M63.9 36.6h.5M82.7 24.1h.5M99.2 33.2h.5M103.4 19.3h.5M82 29.5h.5M65.1 34.9h.5M107.3 29.1h.5M89.9 19.7h.5M110.9 26.2h.5M71.3 36.5h.5M103.2 34.9h.5M76 36.4h.5M83.9 21.7h.5M105.7 25.4h.5M101 14.3h.5M101.5 33.8h.5M104.5 16.5h.5M103.9 29.5h.5M109.3 18.3h.5M73.6 29.4h.5M106.8 16.9h.5M105.2 22.3h.5M103.9 16.8h.5M82.5 22.8h.5M112.3 35.2h.5M106.8 31.7h.5M82.5 35.8h.5M82 31.3h.5M100.2 20.6h.5M102.5 17.1h.5" stroke="#808080" stroke-width=".5" fill="none"/>
<path class="wl" d="M53.7 38.8H114.3A60.6 60.6 0 0 0 106.2 8.5Z"/>
<text class="k" x="46.7" y="45">0001</text>
<text class="k" x="103.5" y="45">2110</text>
<path d="M107.2 41.5h3M111 41.5h3" stroke="#333" stroke-width=".5" fill="none"/>
<text class="k" x="102.4" y="4.4">1010</text>
<path d="M109.9 .8h3" stroke="#333" stroke-width=".5" fill="none"/>
</g>
<g id="ipf-2">
<path d="M136.9 67.8H197.1A60.2 60.2 0 0 0 189 37.7Z" fill="rgb(14,14,14)"/>
<path d="M189 43.5h1M173 55.5h1M171 63.5h1M189 50.5h1M156 60.5h1M191 62.5h1M194 56.5h1M190 49.5h1M191 63.5h1M173 51.5h1M172 65.5h1M190 52.5h1M188 41.5h1M183 58.5h1M180 45.5h1M168 50.5h1M188 48.5h1M184 48.5h1M193 63.5h1M182 66.5h1M186 50.5h1M188 59.5h1M187 49.5h1M191 46.5h1M186 45.5h1M159 58.5h1M170 66.5h1M163 63.5h1M169 49.5h1M161 55.5h1M188 49.5h1M176 55.5h1M188 60.5h1M192 52.5h1M184 61.5h1M185 49.5h1M190 64.5h1M179 44.5h1M182 48.5h1M190 45.5h1M171 52.5h1M158 63.5h1M183 53.5h1M185 45.5h1M187 41.5h1M183 61.5h1M179 48.5h1M164 64.5h1M180 43.5h1M170 54.5h1M191 58.5h1M184 64.5h1M190 66.5h1M171 61.5h1M162 56.5h1M187 45.5h1M146 63.5h1M178 58.5h1M181 50.5h1M173 57.5h1M184 41.5h1M196 65.5h1M186 55.5h1M162 62.5h1M188 40.5h1M187 66.5h1M177 65.5h1M174 50.5h1M190 46.5h1M194 54.5h1M158 67.5h1M182 58.5h1M191 53.5h1M174 65.5h1M180 52.5h1M182 49.5h1M182 50.5h1" stroke="#fff" stroke-width="1" fill="none"/>
<path d="M190.5 66.7h.6M162.7 54h.6M180.2 44.7h.6M193.8 59.9h.6M144.1 64.7h.6M191.9 46.2h.6M190.5 63.2h.6M194.2 67.7h.6M177.4 49.1h.6M168.4 61.1h.6M188.6 67.1h.6M189.3 54.9h.6M184.9 62.5h.6M186.7 44h.6M189.4 67.6h.6M178.8 57.5h.6M187.8 47.6h.6M181.4 46.4h.6M173.9 53.3h.6M169.1 61.8h.6M179.6 45h.6M184.4 40.4h.6M167.9 63.7h.6M193.5 57.9h.6M183.9 44h.6M168.5 56.9h.6M175.2 46.4h.6M177.9 53.2h.6M193.6 55.5h.6M180.3 43.5h.6M196.2 62.3h.6M183.3 50.1h.6M188.4 61h.6M146 64.3h.6M180.2 52.2h.6M186.1 59.8h.6M192.1 46.9h.6M189.2 62.9h.6M173.9 52.9h.6M193.8 57.4h.6M146.2 63.4h.6M187.4 45.1h.6M168.3 67.6h.6M193.7 63.1h.6M180 52.1h.6M171.7 55.3h.6M165 66.8h.6M170.3 54.4h.6M189.6 60.8h.6M180.1 65.3h.6M189.7 59.8h.6M188.9 61.6h.6M164.2 62.2h.6M165.8 67.4h.6M161.5 64.8h.6M157.3 67.1h.6M173 48.4h.6M179.9 62.3h.6M192.2 61.6h.6M164 53.4h.6M188 65.8h.6M178.2 63.9h.6M183.5 54.8h.6M174.8 52.2h.6M190.8 45.7h.6M169.1 51.2h.6M153.7 65.8h.6M176.4 64.9h.6M172.4 54.5h.6M194.8 60.7h.6M174.5 47.3h.6M193.4 48.6h.6M170 60.6h.6M185.8 67.2h.6M158.6 57.6h.6M183.1 61.5h.6M178.6 51.4h.6M177.6 47.2h.6M164.1 53h.6M148.7 61.5h.6M189.8 41.7h.6M183.5 54.9h.6M181.9 63.5h.6M166.8 64h.6M177.5 52.7h.6M185.7 51.2h.6M181.7 47.7h.6M189.6 61.3h.6M195.2 61.4h.6M189.2 41h.6M187.3 58.1h.6M189.2 64.3h.6M164.2 63.9h.6M181.5 59.3h.6M176.2 64.1h.6M144.1 65h.6M188.5 49.6h.6M180.8 43.3h.6M188.6 59.5h.6M188.5 50.9h.6M190.3 50.7h.6M168 66.6h.6M160 58.9h.6M196.4 67.2h.6M187.5 39.5h.6M170.2 58.4h.6M174.3 58.2h.6M150.7 67.2h.6M170.6 58.8h.6M192.1 51h.6M158.7 59.4h.6M187.2 61.7h.6M190.4 65.1h.6M189.8 61.3h.6M183.5 53.5h.6M161.8 59.9h.6M184.2 61.8h.6M146.4 63.9h.6M178.6 46.3h.6M168.2 56.4h.6M189.6 59.1h.6M187.7 66.3h.6M177.3 63.6h.6M177.9 56.2h.6M185.6 53.9h.6M156.2 67.1h.6M178.1 62.3h.6M164.6 63.1h.6M183.3 47.9h.6M183.9 65.2h.6M184.1 60.8h.6M189.6 40.5h.6M175.5 54.7h.6M176.4 66h.6M152.8 58.9h.6M166.3 55.2h.6M156.2 67.1h.6M176.4 49.3h.6M159.7 58h.6M171.5 65.5h.6M195.8 64.2h.6M172.9 47.9h.6M188.1 64.3h.6M195.4 64.5h.6M171.3 63.3h.6M172.4 47.4h.6M191.5 58.5h.6M187.7 58.6h.6M167.1 61.9h.6M171.7 60.8h.6M162.1 54.6h.6M179.5 46.3h.6M192.2 45.5h.6M190.4 60.6h.6M170.2 52h.6M185.3 49.8h.6M184.4 44.4h.6M171.4 63.2h.6M165.3 66.7h.6M188.1 62.4h.6M178.6 56.9h.6M189.7 48.5h.6M186.3 56.4h.6M190.1 61.6h.6M195 54.3h.6M181.4 44.1h.6M194.2 50.4h.6M183.7 44.8h.6M194.1 61.5h.6M193.3 52.3h.6M181.5 64.4h.6M189.2 55.9h.6M166.9 63.4h.6M178.4 57.3h.6M188.3 61.4h.6M179.7 63.8h.6M193.5 61.8h.6M183.8 48.3h.6M194.5 66.2h.6M176.6 66h.6M187 49.1h.6M168.7 54.2h.6M163.4 65.5h.6M183.3 60.3h.6M164.7 66.5h.6M169.3 59h.6M173.5 47.9h.6M162.1 59.6h.6M194.5 55.4h.6M187.1 58.3h.6M193.1 55.7h.6M182 43.2h.6M180 51.7h.6M192.7 51.2h.6M190.5 67h.6M176.9 57.1h.6M192.6 57.4h.6M191.4 48.7h.6M189.5 60.5h.6M180.3 61.4h.6M191 63.2h.6M145.4 66.9h.6M190.5 63.6h.6M176.2 47.1h.6M193 54.8h.6M183.5 45.2h.6M177.2 45h.6M150.8 66.9h.6M184.5 51.4h.6M179.7 43.8h.6M194.6 54.4h.6M192.6 46.1h.6M162.1 65.8h.6M188.3 66.2h.6M186.3 66.9h.6M187.7 51.9h.6M190.3 50.3h.6M191.7 51.1h.6M173 54.5h.6M188.6 40.3h.6M169.8 61.2h.6M189 44.7h.6M184 40.8h.6M167.9 54.7h.6M191.3 50.5h.6M194.7 65.1h.6M155.7 65h.6M191.3 54.9h.6M162.9 58.4h.6M195.2 54.5h.6M186.5 46.9h.6M158.1 59.8h.6M194.1 51.1h.6M157.2 60.7h.6M164 55.4h.6M193.5 66.8h.6M167.7 51.3h.6M156.9 58.6h.6M161.7 61.1h.6M191.2 44.5h.6M176.2 48.8h.6M182.6 48.9h.6M194.2 62.9h.6M180.4 58.4h.6M186.7 51.8h.6M196.1 63.4h.6M194.6 55.9h.6M170.3 67.3h.6M176.3 46.3h.6M176.5 48.4h.6M170.9 56.5h.6M195.4 60.2h.6M162.9 60.6h.6M188.3 48.9h.6M186.9 39h.6M187.4 67.8h.6M171 48.7h.6M182 67.6h.6M191.1 50.4h.6M143.4 67.1h.6M164.5 54h.6M166.5 51.2h.6M196.1 64.4h.6M167.8 65.4h.6M193.4 48.6h.6M168.7 51.4h.6M159.2 65.9h.6M178.8 49h.6M177.4 55.2h.6M173.7 56.9h.6M150.8 64.6h.6M188.6 61.2h.6M166.1 66.4h.6M183.2 63.4h.6M153.6 64.8h.6M183.9 57.1h.6M174.6 47.5h.6M160 64h.6M190.1 47h.6M161.1 67.2h.6M188.9 49.4h.6M184.2 66.3h.6M185.8 54.3h.6M184.6 56.7h.6M152.8 59.5h.6M164.4 61.9h.6M176 64.6h.6M189.3 54.5h.6M156.5 64.4h.6M179.3 50.8h.6M185.9 58.2h.6M164.2 52.3h.6M189.5 49.5h.6M188.9 47.2h.6M171.5 55h.6M195.9 57.8h.6M184.6 44.4h.6M192.5 48.2h.6M181.6 63.1h.6M177.8 60.4h.6M177.6 54.8h.6M167.2 59.5h.6M173.2 54.5h.6M182.9 47.7h.6M163.2 53.8h.6M173 62.2h.6M182.7 46.7h.6M187.8 62.1h.6M172.2 62h.6M185.1 48.2h.6M183.4 51.6h.6M168 66.8h.6M179.7 43.9h.6M165 62.7h.6M186.3 47.6h.6M172.8 62.6h.6M191.2 55h.6M166 51.3h.6M191.4 58.2h.6M192 55.2h.6M188.5 57.5h.6M192.3 54.8h.6M182.6 61.6h.6M173.5 60.4h.6M170.4 53.6h.6M183.6 51.9h.6M193.6 60.8h.6M181.6 60.1h.6M179.5 65h.6M169.4 60.5h.6M163.2 55h.6M181.8 58.7h.6M185.6 45.7h.6M150.4 65h.6M171.3 48h.6M177.3 63.3h.6M155 66.9h.6M174.8 57.4h.6M169.6 51.8h.6M192 57.3h.6M181.8 54.1h.6M172 60.2h.6M182.7 51.1h.6M173.5 50.6h.6M188.2 67h.6M191.9 47.2h.6M177.7 57.4h.6M165.5 57.7h.6M183.5 63.6h.6M168.9 58.2h.6M176.3 54.5h.6M168 56.2h.6M180 49h.6M178.4 50.4h.6M185.2 65.1h.6M187.9 48.5h.6M192.2 61.9h.6M171.6 67.3h.6M157.5 66.1h.6M185.4 40h.6M186.9 47.5h.6M179 47.3h.6M185.5 55.7h.6M164.6 57.1h.6M171.8 58.2h.6M192 57.3h.6M173.5 57.4h.6M192.5 53.7h.6M189.7 62.3h.6M169.2 53h.6M166.5 57.5h.6M171.9 56.8h.6M180.8 52.8h.6M189.1 59.7h.6M186.7 49.2h.6M162.7 66.4h.6M179.4 64.4h.6M191.5 56.5h.6M161.2 60.1h.6M176.5 56.3h.6M175.3 49.7h.6M194.3 61.8h.6M187 52.3h.6M162.4 56.6h.6M187.6 61.7h.6M184.2 58.4h.6M150 66h.6M166.8 66.4h.6M166.4 63.1h.6M156.8 65.4h.6M182.7 41.3h.6M193.5 55.9h.6M189.8 54.3h.6M170.9 50.5h.6M183.5 53.7h.6M181.9 62h.6M192.5 65.5h.6M185.8 40.1h.6M177.8 65h.6M183.8 48.9h.6M182 51.5h.6M182.4 59.6h.6M185.3 60.4h.6M155.6 60.2h.6M194.8 67h.6M173 64.4h.6M178.2 58.6h.6M172.9 59.4h.6M195 57.9h.6M190.4 56.6h.6M168.3 66h.6M172.8 50h.6M173.4 52.3h.6M159.3 61.5h.6M188.6 41.4h.6M180.6 58.1h.6M172.2 49.3h.6M179.5 51.1h.6M194.4 64.5h.6M187.5 67.3h.6M157.4 62.5h.6M159.8 65.1h.6M156.9 58.5h.6M148.7 62.9h.6M193.8 55.4h.6M192.5 64.9h.6M184.4 52.6h.6M167.3 59.6h.6M176 62h.6M176.3 52.1h.6M171.1 50.4h.6M194.5 60h.6M180.8 47.9h.6M151.9 60.4h.6M165.7 58.1h.6M174.7 52.9h.6M185.5 65.1h.6M182 50.7h.6M159.7 55.1h.6M185.4 50.5h.6M180.4 55.7h.6M187.9 39.4h.6M194.8 53.3h.6M189.5 43.2h.6M165.1 55.3h.6M186.5 44.1h.6M163.9 62.9h.6M158.6 59.1h.6M191.2 58.3h.6M169.4 63.2h.6M137.7 67.2h.6M166.9 67.4h.6M185 52.6h.6M155.8 58.7h.6M182.9 46.9h.6M177.3 49.4h.6M180.4 61.7h.6M186.9 50.6h.6M189.2 43.9h.6M167 51.7h.6M191.4 48.5h.6M190.1 44.7h.6M174.3 52h.6M173.4 51.6h.6M158.5 55.6h.6M152.7 63.9h.6M182.3 62.1h.6M177.9 59.1h.6M178.8 60.6h.6M196.4 61.4h.6M143.2 67.5h.6M190.2 42.7h.6M182.5 67.5h.6M165.8 58h.6M180.1 59.1h.6M187.8 51.2h.6M185.4 43.1h.6M181.4 58.8h.6M186.4 51.1h.6M175.8 47.1h.6M181.5 42.9h.6M175.9 54.2h.6M181.1 43.8h.6M167.1 52.7h.6M190.1 66.9h.6M190 61.1h.6M182.8 59.9h.6M190.6 44.5h.6M165.4 59.8h.6M168.9 53.3h.6M194.6 62.8h.6M151.6 65.2h.6M190.4 61.3h.6M187.5 44.3h.6M185 47h.6M184.4 40.7h.6M185.3 42.3h.6M181.5 61.3h.6M192.9 60.6h.6M185.9 64.7h.6M188.6 59.4h.6M166 55.2h.6M190.8 63.3h.6M168.5 52h.6M151.7 61.5h.6M185.7 65.7h.6M180.6 46.1h.6M177 67.1h.6M187.9 53.1h.6M157.6 63.5h.6M166.2 55.7h.6M183.2 55.8h.6M187.5 40.5h.6M177.4 48h.6M167.2 66.1h.6M189.2 63.5h.6M194.6 52.9h.6M185.8 43h.6M191 48.2h.6M179.3 61.3h.6M170 52.3h.6M187.3 55.1h.6M152.3 59h.6M172.6 59.9h.6M186.6 40.8h.6M172.9 65.8h.6M178 54.8h.6M194.9 55h.6M181 54.8h.6M166.3 62.9h.6M171.6 48.1h.6M164 67h.6M163.5 56.2h.6M179 55.6h.6M169.7 66.6h.6M185 62.1h.6M183.7 60.9h.6M165.5 65h.6M189.4 55h.6M184.3 57.9h.6M178.1 53.4h.6M186.1 48.2h.6M163.7 57.3h.6M186.9 58.5h.6M168.8 49.5h.6M193 66.9h.6M171.1 53.1h.6M187.2 54.5h.6M189.1 61.8h.6M186.3 50.6h.6M185 50.1h.6M163 63.5h.6M182.2 63.7h.6M155.6 59.9h.6M195.5 67.4h.6M170.5 64.3h.6M193.6 67.1h.6M167.8 64.3h.6M173 65.5h.6M165.3 58.8h.6M187.9 52.3h.6M193.3 66.8h.6M161.6 59.3h.6M196 61.9h.6M148.7 66.1h.6M158.9 61.5h.6M190.2 65.1h.6M192.3 64.1h.6M186.2 51.7h.6M195.4 64.6h.6M187.1 59.3h.6M172.2 53h.6M193.6 56.2h.6M174.3 50.7h.6M181 67.2h.6M195.4 65.3h.6M185.4 51.8h.6M192.9 54.6h.6M190.4 60h.6M193.9 59.6h.6M183.4 53h.6M170.6 49.4h.6M188.1 66.7h.6M177.5 57h.6M175.9 50.2h.6M191.6 55.5h.6M177.2 47.4h.6M174.1 46.5h.6M157.3 63.2h.6M192.5 53.3h.6M183.3 49.1h.6M167.3 55.5h.6M183.7 41.3h.6M185.6 50.5h.6M182.2 51.5h.6M175.6 51.5h.6M174.5 56.3h.6M173.3 59.5h.6M195.9 65h.6M186.6 57.3h.6" stroke="#fff" stroke-width=".6" fill="none"/>
<path class="wl" d="M136.9 67.8H197.1A60.2 60.2 0 0 0 189 37.7Z"/>
<text class="k" x="129.9" y="74">0001</text>
<text class="k" x="186.3" y="74">2110</text>
<path d="M190 70.5h3M193.8 70.5h3" stroke="#333" stroke-width=".5" fill="none"/>
<text class="k" x="185.3" y="33.6">1010</text>
<path d="M192.7 30h3" stroke="#333" stroke-width=".5" fill="none"/>
</g>
<g id="ipf-3">
<path d="M266.3 158.7h.6M256.1 147.4h.6M262.6 156.7h.6M256.3 146.8h.6M263.2 162.4h.6M267.6 155.3h.6M259.1 148.2h.6M269.9 165.9h.6M267 147.5h.6M262.6 167.8h.6M257.3 148.7h.6M260.3 144.8h.6M267.5 166.5h.6M265.1 162.3h.6M268.6 165.7h.6M262.4 153.6h.6M260.9 146.9h.6M267.8 159.5h.6M270 159.3h.6M261.1 158.6h.6M266.9 159.3h.6M260.2 154.6h.6M261.6 152.5h.6M266.1 162.1h.6M259.7 148.4h.6M262.5 157.4h.6M262.6 164.2h.6M262.6 160.4h.6M267.7 157.3h.6M261 148.1h.6M259.5 144.2h.6M268.9 153.2h.6M264.6 161.8h.6M269.2 158.4h.6M264 154.5h.6M262.2 160.4h.6M266.9 169.3h.6M265.7 167.4h.6M258.6 147.7h.6M264.2 162.5h.6M263.2 159.9h.6M265.5 148.7h.6M267.9 166h.6M262.4 162.5h.6M266.9 151.8h.6M256.9 143.7h.6M264.7 168.1h.6M258.8 146.9h.6M267 158.9h.6M264.2 166.6h.6M262 140.9h.6M267.6 161h.6M255.4 144.5h.6M266.6 159.2h.6M259.4 144h.6M260.1 152.8h.6M266.3 164.2h.6M262.1 164.8h.6M264.9 155.8h.6M262.5 143.6h.6M256.8 148.3h.6M264.4 165.4h.6M269.1 165.5h.6M266.1 148.8h.6M263.5 146.4h.6M259.7 152h.6M262.3 165h.6M261.4 159.2h.6M265.7 157.7h.6M261.3 160.7h.6M263.4 142.2h.6M262.1 147.2h.6M261.9 162.6h.6M269.3 159.5h.6M266.7 166.5h.6M264.4 145.9h.6M264.4 165.4h.6M267.3 158.4h.6M258 147.7h.6M268.6 159.1h.6M262.4 148.4h.6M261.4 150.4h.6M265.4 146.7h.6M264.4 161.7h.6M268.7 160.2h.6M256.7 144.4h.6M267.3 153.5h.6M265.5 157.6h.6M256.3 146h.6M259.4 151.8h.6M265.7 148.8h.6M261.6 169.1h.6M269 164.8h.6M268.9 164.7h.6M265.9 146.9h.6M265.6 161.5h.6M265.6 149.2h.6M266.9 154.9h.6M259.4 145.5h.6M263.6 153.6h.6M259.9 142.8h.6M266.3 147.9h.6M269.7 164.8h.6M263.3 145.5h.6M267.9 149.5h.6M262.4 167.4h.6M264.1 162.2h.6M256.3 146.3h.6M265.5 156.6h.6M266.5 159.3h.6M266.7 147.3h.6M261.8 166.1h.6M261.2 158.2h.6M262.6 141.3h.6M263.5 168.8h.6M259.8 155.7h.6M265.7 153h.6M260.5 149.5h.6M266.8 155.4h.6M264.2 168.3h.6" stroke="#222" stroke-width=".6" fill="none"/>
<path d="M266.1 164.4h.6M261.3 141.1h.6M260.2 160.3h.6M258.8 145h.6M262.2 146h.6M261.7 154.2h.6M260.1 158.6h.6M262.9 159.4h.6M260.1 150.5h.6M256.3 145.9h.6M267.5 159.1h.6M255.2 144.2h.6M261.6 145.5h.6M265.5 164.1h.6M265.9 156.9h.6M258.6 150.9h.6M270 164h.6M260 158.2h.6M260.1 141.9h.6M258.6 151.5h.6M263.9 160.6h.6M261.7 158.7h.6M260 147.9h.6M259.5 153h.6M267.1 158.5h.6M265.4 164.1h.6M266.2 159.9h.6M263.6 148.2h.6M267.1 149.1h.6M261.8 168.4h.6M259.5 155.8h.6M258.2 146.9h.6M260.6 162.9h.6M268.2 154.2h.6M258.1 149.2h.6M265 148.8h.6M256.8 148.3h.6M267 160.2h.6M268.3 153.1h.6M263.9 159.7h.6" stroke="#222" stroke-width=".6" fill="none"/>
<path d="M263.4 142h.8M269.5 161.5h.8M269.5 160.2h.8M269.6 160.3h.8M269.2 159.3h.8M268.3 165.2h.8M267.3 165.2h.8M266 166.5h.8M260.9 158.7h.8M261.2 158.1h.8M261.2 158h.8M260.7 158.3h.8M258.3 145.3h.8M257.9 145.1h.8M257.5 143.8h.8M267 162.8h.8M267.6 164h.8M267.1 162.8h.8M264.9 164.1h.8M259.5 143.6h.8M258.9 144.6h.8" stroke="#000" stroke-width=".8" fill="none"/>
<path class="wl" d="M211.7 169.4H271.6A59.9 59.9 0 0 0 263.6 139.5Z"/>
<path class="wd" d="M261.3 169.4A49.6 49.6 0 0 0 254.7 144.6"/>
<text class="k" x="204.7" y="175.6">0001</text>
<text class="k" x="260.8" y="175.6">2110</text>
<path d="M264.5 172h3M268.3 172h3" stroke="#333" stroke-width=".5" fill="none"/>
<text class="k" x="259.8" y="135.4">1010</text>
<path d="M267.3 131.8h3" stroke="#333" stroke-width=".5" fill="none"/>
</g>
<g id="ipf-4">
<path d="M364.7 78.5H424A59.3 59.3 0 0 0 416.1 48.9Z" fill="rgb(135,135,135)"/>
<path d="M405 62.5h1M419 73.5h1M407 70.5h1M402 61.5h1M419 74.5h1M398 75.5h1M396 68.5h1M412 76.5h1M408 58.5h1M383 68.5h1M408 74.5h1M415 63.5h1M389 70.5h1M393 64.5h1M404 76.5h1M416 51.5h1M395 75.5h1M384 74.5h1M401 70.5h1M386 68.5h1M412 74.5h1M422 72.5h1M400 69.5h1M396 67.5h1M377 71.5h1M411 64.5h1M416 75.5h1M420 65.5h1M398 64.5h1M387 70.5h1M411 53.5h1M396 75.5h1M397 61.5h1M402 63.5h1M416 67.5h1M393 62.5h1M412 59.5h1M414 77.5h1M404 64.5h1M418 70.5h1M379 71.5h1M421 64.5h1M397 67.5h1M411 76.5h1M385 69.5h1M400 66.5h1M384 67.5h1M392 73.5h1M407 65.5h1M376 74.5h1M391 68.5h1M420 69.5h1M405 70.5h1M390 71.5h1M405 74.5h1M403 57.5h1M413 71.5h1M392 77.5h1M397 62.5h1M383 69.5h1M392 74.5h1M399 64.5h1M390 66.5h1M383 75.5h1M392 68.5h1M409 63.5h1M422 74.5h1M389 67.5h1M392 63.5h1M397 70.5h1M394 76.5h1M420 75.5h1M422 71.5h1M388 74.5h1M401 75.5h1M421 66.5h1M405 77.5h1M383 76.5h1M408 59.5h1M407 76.5h1M418 74.5h1M402 62.5h1M382 75.5h1M401 71.5h1M408 65.5h1M398 72.5h1M412 56.5h1M392 71.5h1M413 60.5h1M381 76.5h1M388 65.5h1M398 74.5h1M418 73.5h1M401 68.5h1M415 70.5h1M400 70.5h1M374 73.5h1M404 77.5h1M404 70.5h1M403 77.5h1M419 70.5h1M402 60.5h1M382 77.5h1M373 74.5h1M417 71.5h1M386 75.5h1M400 72.5h1M411 77.5h1M395 68.5h1M396 72.5h1M381 74.5h1M384 73.5h1M395 67.5h1M403 63.5h1M372 77.5h1M394 62.5h1M372 76.5h1M400 71.5h1M397 66.5h1M416 73.5h1M422 70.5h1M400 65.5h1M409 70.5h1M416 53.5h1M399 59.5h1M396 65.5h1M417 58.5h1M419 72.5h1M382 70.5h1M394 63.5h1M414 58.5h1M407 72.5h1M391 70.5h1M396 69.5h1M414 65.5h1M417 60.5h1M400 62.5h1M409 76.5h1M412 71.5h1" stroke="#000" stroke-width="1" fill="none"/>
<path d="M413 55.5h1M383 68.5h1M412 68.5h1M406 76.5h1M405 73.5h1M384 76.5h1M412 71.5h1M370 77.5h1M414 63.5h1M402 68.5h1M378 77.5h1M378 73.5h1M417 76.5h1M408 61.5h1M410 73.5h1M395 69.5h1M404 73.5h1M413 54.5h1M410 72.5h1M413 72.5h1M397 72.5h1M399 68.5h1M415 63.5h1M408 66.5h1M413 65.5h1M371 76.5h1M396 69.5h1M383 69.5h1M421 74.5h1M389 72.5h1M418 55.5h1M419 76.5h1M415 73.5h1M408 77.5h1M413 63.5h1M389 66.5h1M416 63.5h1M407 76.5h1M376 75.5h1M415 58.5h1M404 59.5h1M383 73.5h1M395 64.5h1M378 74.5h1M411 54.5h1M399 72.5h1M386 66.5h1M391 70.5h1M418 64.5h1M398 74.5h1M398 67.5h1M402 72.5h1M397 67.5h1M415 72.5h1M412 56.5h1M410 59.5h1M381 77.5h1M415 56.5h1M410 56.5h1M402 77.5h1M393 62.5h1M372 74.5h1M420 71.5h1M421 64.5h1M399 61.5h1M400 73.5h1M397 76.5h1M411 66.5h1M395 71.5h1M411 56.5h1M386 69.5h1M385 67.5h1M411 69.5h1M390 77.5h1M385 72.5h1M407 70.5h1M375 74.5h1M399 65.5h1M375 72.5h1M409 59.5h1M377 73.5h1M384 69.5h1M405 69.5h1M407 68.5h1M399 63.5h1M408 67.5h1M403 70.5h1M381 74.5h1M405 77.5h1M404 65.5h1M392 71.5h1M404 57.5h1M409 65.5h1M375 75.5h1M398 64.5h1M417 77.5h1M415 75.5h1M390 76.5h1M415 66.5h1M382 73.5h1M411 63.5h1M404 74.5h1M405 74.5h1M422 71.5h1M416 64.5h1M398 61.5h1M401 60.5h1M416 72.5h1M416 70.5h1M421 75.5h1M407 56.5h1M412 73.5h1M416 66.5h1" stroke="#fff" stroke-width="1" fill="none"/>
<path d="M420.1 73.2h.6M406.5 69.3h.6M415.4 74.5h.6M374.5 72.8h.6M402.2 59.3h.6M407.5 77h.6M394.8 77.3h.6M386.8 72.8h.6M370.2 76.2h.6M406.3 56.8h.6M417.5 74.9h.6M413.9 77h.6M392.9 67.6h.6M396.5 69.8h.6M403.8 76.2h.6M406.8 76.9h.6M379.4 76.6h.6M387.8 75.8h.6M414 69.7h.6M379.6 75.5h.6M399.4 71.8h.6M395 61.1h.6M419.2 60.9h.6M394.5 74.9h.6M418.3 74.3h.6M395 77.2h.6M405.1 66.2h.6M423.4 73.7h.6M412.4 66h.6M402.8 65.6h.6M367.5 76.8h.6M409.4 53.5h.6M415 59h.6M401.9 62.7h.6M407.4 68.3h.6M406.1 75.6h.6M383.7 74.4h.6M417.1 71.4h.6M407.7 74.1h.6M415.5 51.9h.6M398 75.5h.6M419.7 60h.6M402.6 57.7h.6M387.6 74.3h.6M380 73.1h.6M402.3 58.8h.6M402.9 71.4h.6M395.2 71h.6M395.2 68.5h.6M384.8 72.9h.6M405 63.8h.6M399.3 78.3h.6M413.7 67.7h.6M415.4 63.1h.6M413 58.3h.6M412.6 53.9h.6M376.5 78h.6M418.9 72h.6M416.2 66.4h.6M380.4 70.2h.6M408.6 75.8h.6M392.7 66.8h.6M410.5 56.4h.6M409.4 77.3h.6M404.7 65.3h.6M420.2 58.5h.6M416.6 52.2h.6M383.6 71.3h.6M404.3 56.5h.6M395.6 72.4h.6M397 64.6h.6M417.6 62.1h.6M398.2 76.2h.6M412.1 67.2h.6M417.5 60.1h.6M374.2 77.3h.6M371.3 75.2h.6M397.6 73.5h.6M418.5 72.3h.6M406 58.9h.6M411.4 56.9h.6M421.2 74.4h.6M413.9 53.6h.6M408.7 66.8h.6M410.7 75.8h.6M405 75.9h.6M383.6 69.8h.6M408.6 68.5h.6M415.2 70.6h.6M397.2 60.3h.6M420 58.7h.6M388.6 74.2h.6M422.6 72.1h.6M413.4 63.9h.6M389.6 67.2h.6M399.3 65.9h.6M386.5 72.2h.6M414.3 76.9h.6M420.7 64.7h.6M369.9 78.4h.6M414.4 67.6h.6M388.5 65.2h.6M393.4 73.7h.6M405.8 71.6h.6M393.5 65h.6M382.1 70.1h.6M403.2 65.9h.6M397.3 64.7h.6M400.2 68.9h.6M420.5 74.4h.6M394 63.1h.6M403.2 63.3h.6M392.2 73.8h.6M392.7 65.3h.6M410.7 59.2h.6M393.4 72.3h.6M420.2 77.9h.6M379.6 71.1h.6M412.6 62.3h.6M416.1 72.3h.6M423.1 73.6h.6M379 71.6h.6M389 66.7h.6M423.4 75.8h.6M378.8 73.3h.6M410.6 71.1h.6M366.8 78.1h.6M415.7 77.5h.6M383.9 70.6h.6M398.5 65.7h.6M414 75.5h.6M414.1 62.6h.6M387.1 71.9h.6M373.5 77.3h.6M399.1 70.1h.6M415.1 63h.6M385.2 73.9h.6M414.1 66.4h.6M422.3 72.8h.6M389 67.4h.6M414.6 56.2h.6M412.9 72.8h.6M381.7 76.5h.6M419.1 65.3h.6M412.5 65.7h.6M418.9 77.6h.6M418.2 69.9h.6M406.4 65.3h.6M417.7 74.5h.6M383.5 68.4h.6M412.5 58h.6M414 49.9h.6M397.3 60.3h.6M376.6 71.8h.6M420.1 70.2h.6M379.9 71.4h.6M405 57.6h.6M413.8 64h.6M417.4 73.6h.6M386.4 74.4h.6M389.1 73.5h.6M416.9 76.3h.6M382.2 69h.6M420.8 61h.6M392.4 70.7h.6M390.5 77.9h.6M410.2 58.2h.6M410.4 76.6h.6M408.4 77.9h.6M392.4 70.7h.6M394.2 78.1h.6M413.6 70.7h.6M378.1 75.6h.6M385.8 77.3h.6M408.9 71.9h.6M370.8 78.3h.6M393.5 75h.6M421.8 69.1h.6M382.7 69.4h.6M382.8 75.1h.6M422.8 76.4h.6M418.8 77.7h.6M411.5 70.3h.6M370.3 78.5h.6M406.3 69.2h.6M399.2 74.5h.6M396 65.3h.6M415.1 51h.6M391.8 70.1h.6M419.7 64.4h.6M402.8 63.5h.6M415.3 53.7h.6M368.1 76.6h.6M418.1 67.1h.6M392.5 67.1h.6M417.7 63.4h.6M407.4 75.2h.6M395.6 61.5h.6M396.1 65.3h.6M399 77.8h.6M407.1 63h.6M414.9 51.8h.6M418.2 68.2h.6M393.1 69.3h.6M395.3 64.9h.6M417.4 75.6h.6M396.4 66.3h.6M405.7 74.3h.6M413.5 73.8h.6M397.4 72.2h.6M419.1 66.3h.6M413.2 75.5h.6M406.8 61h.6M379.3 72.8h.6M408.3 63.9h.6M403.2 72.9h.6M387.2 68.5h.6M396.1 68.2h.6M423.2 75.8h.6M398.1 75h.6M415.9 71.8h.6M414.9 67.2h.6M402.9 69.9h.6M409.6 76.3h.6M408.6 54.3h.6M373.7 77.8h.6M407.5 54.3h.6M400 59.3h.6M390.8 77.8h.6M422.1 78.4h.6M382.7 72.4h.6M373.6 78.2h.6M387.5 66.2h.6M416.9 51h.6M395 73h.6M414.3 76.9h.6M406.5 73.2h.6M399.7 75.7h.6M395.4 70.7h.6M383.7 73.9h.6M397.7 66.3h.6M408 72.7h.6M392.4 73.5h.6M398.4 64.1h.6M390.9 76.1h.6M387 72.9h.6M411.4 61.9h.6M420.5 63.8h.6M419.7 58.9h.6M386.6 72.3h.6M413.9 63.6h.6M380.6 70.4h.6M384 67.9h.6M395.2 75.8h.6M403.9 68.2h.6M406.8 60h.6M407.9 70.8h.6M413 57.3h.6M415.7 66.7h.6M384.6 75.6h.6M419.4 57.5h.6M378.2 76.9h.6M395.6 66h.6M417 62.3h.6M397.4 73.3h.6M371.7 77.9h.6M398.1 64.1h.6M399.7 66.7h.6M398.9 74.3h.6M384.7 67.6h.6M407.4 58.9h.6M388.5 66.6h.6M379 73h.6M387.1 75.8h.6M420.4 69h.6M386.4 75.3h.6M400.1 64.6h.6M396.8 71.9h.6M372.7 76.3h.6M406 74.9h.6M408.1 53.5h.6M404.5 74h.6M395.9 72h.6M405.2 77h.6M409.8 74.7h.6M399.6 71.4h.6M416.2 62.1h.6M419.9 57.9h.6M402.3 68.7h.6M392.1 71.6h.6M413.4 76.7h.6M420 64.5h.6M372.9 77.2h.6M384.4 67h.6M415.4 57.7h.6M383.6 75.5h.6M397.4 73.4h.6M413.5 70.9h.6M389.9 67h.6M416.9 73h.6M408.6 67.4h.6M385.2 68.7h.6M382.5 76h.6M417.7 68.3h.6M418.3 74.5h.6M408.8 54.1h.6M398.6 72.9h.6M387.8 78h.6M394.2 67h.6M369.5 76.3h.6M417.3 74.2h.6M409.8 59.6h.6M402.5 72.2h.6M408 56.4h.6M409.5 73.5h.6M418.3 78.3h.6M415.5 75.6h.6M413.5 53.7h.6M415.4 70.9h.6M416.6 55.4h.6M399.3 71h.6M402.1 65.9h.6M408 74.9h.6M409.3 67.4h.6M412.4 57h.6M405.4 73.4h.6M419.2 71.6h.6M407.3 60.4h.6M396.6 68h.6M413.4 55.3h.6M415.5 75.7h.6M397.4 78.1h.6M390.2 67.5h.6M404.9 70.1h.6M421.4 71.2h.6M392.6 63.7h.6M389.6 69.3h.6M379.7 71.7h.6M403.3 57.6h.6M411.9 54.2h.6M416.1 75.1h.6M403.3 62.8h.6M418.5 55.9h.6M395.8 77.7h.6M412.3 62.9h.6M421.7 72.8h.6M389.4 70.6h.6M412.8 67.8h.6M411.9 67.8h.6M401.1 67.1h.6M392.6 72.4h.6M418.1 74h.6M412 56h.6M391.7 75.7h.6M416.6 70.1h.6M416 59.1h.6M379.4 77.9h.6M415 64h.6M401.7 68.5h.6M418.2 69.4h.6M395.3 76h.6M399.4 64.8h.6M414 54h.6M414.5 50.6h.6M396.6 69.8h.6M416.6 50.9h.6M418 62.2h.6M398.7 72.4h.6M420.6 76.1h.6M412 61.7h.6M383.1 72.5h.6M408.6 63h.6M407.1 58.3h.6M403.6 57.7h.6M412.4 52.6h.6M417.6 57.4h.6M409.8 66.6h.6M404.1 61.7h.6M405.4 65.7h.6M410.6 68.7h.6M401.8 59.6h.6M393.7 66.6h.6M421.7 71h.6M414.3 51.5h.6M379.7 73.6h.6M417.9 56.3h.6M423.1 75.4h.6M388.6 66.8h.6M413.3 52.6h.6M411.1 67.3h.6M408.2 57.6h.6M387.9 67.8h.6M384.3 72h.6M389.9 68.4h.6M378.9 70.9h.6M398.2 64.4h.6M412.3 51.7h.6M397.8 69.4h.6M415 68.7h.6M368.1 76.8h.6M418.5 54.2h.6M401.3 57.4h.6M414.5 51.2h.6M415.3 59.7h.6M420.3 60.3h.6M384.3 75h.6M374.8 75.8h.6M377.7 77.8h.6M401.9 58.4h.6M389.9 69.3h.6M381 73.9h.6M393.5 66.3h.6M419.4 63.7h.6M410.9 71.2h.6M386 77.9h.6M416.3 75.3h.6M395.9 76.7h.6M408.5 75.8h.6M415.5 54.3h.6M387.1 68.4h.6M394.1 64.5h.6M400.8 74.5h.6M419.5 77.9h.6M419 62.1h.6M410.4 77.4h.6M396.9 77.8h.6M421.9 73.8h.6M394.5 70h.6M416.9 69.8h.6M380.4 70.4h.6M400.5 66.9h.6M377 72.9h.6M400.8 59.7h.6M390 71h.6M421.3 77.5h.6M384.5 67.3h.6M371 77.1h.6M380.3 74.2h.6M407.1 54.5h.6M405.5 61.2h.6M413.7 69.1h.6M404.4 76.2h.6M418.9 58.7h.6M418.3 70.3h.6M406.7 68.9h.6M405.6 69.5h.6M379.9 73h.6M406.6 66.1h.6M375.8 75.8h.6M386.3 72.3h.6M414.3 64.6h.6M413.4 62h.6M416.2 59.2h.6M397.7 62.4h.6M402.7 58.9h.6M418.6 60.3h.6M413.4 68h.6M398.8 61.2h.6M395.2 65h.6M394.1 73h.6M407.1 74.1h.6M410.5 58.2h.6M412.4 66h.6M413.3 62.3h.6M395.4 75.4h.6M397.1 78.3h.6M402.1 71.7h.6M380.5 70.1h.6M394.3 76.2h.6M417.4 57.9h.6M409.7 75.6h.6M417.2 52.5h.6M401.1 67h.6M415.2 57.1h.6M413.2 74.4h.6M376.8 73.5h.6M416 57.6h.6M408.3 57.4h.6M412.4 61.7h.6M394.1 73.3h.6M420.9 74.6h.6M399.1 61.8h.6M389.3 78.3h.6M416.9 64.8h.6M409.9 61.5h.6M400.4 59.2h.6M407.8 70.3h.6M386.9 74.4h.6M420.4 76.1h.6M390.4 73.6h.6M397.9 64.1h.6M407.3 71.5h.6M410.1 75.9h.6M410.6 63h.6M403.9 76.5h.6M403.9 57h.6M396.9 76h.6M379.7 71.5h.6M388.4 64.9h.6M409.1 73.5h.6M415 65.9h.6M409.7 74.2h.6M400.9 64.2h.6M392.8 67.5h.6M386.6 67h.6M417.4 65.2h.6M383.5 71.1h.6M394.7 74.8h.6M422.1 72.6h.6M389 68.4h.6M397.7 77.2h.6M411.7 69.8h.6M405.8 61.9h.6M396.4 71.7h.6M412 61.5h.6M400.7 61.8h.6M405.2 77h.6M401.4 68.1h.6M404.4 69.4h.6M399 75.3h.6M402.6 69.5h.6M421.9 77.8h.6M393 62h.6M404.7 66.3h.6M407.9 68.3h.6M387.6 77.2h.6M403.9 62.2h.6M402.7 69.5h.6M416.2 78.2h.6M421.9 78.2h.6M409.9 55.3h.6M383.4 77.6h.6M408 77h.6M415.2 75.9h.6M391.3 75.4h.6M412.1 59.3h.6M418.2 74.9h.6M390 69.2h.6M376.3 76.3h.6M401.7 71.2h.6M406.3 58h.6M387.9 72.2h.6M411.9 61h.6M402.2 69.5h.6M414.6 64.8h.6M400.6 74.7h.6M417.8 72.3h.6M401.6 75.9h.6M409.3 62.7h.6M403.2 73.7h.6M399.2 69.1h.6M383.4 70.3h.6M398.4 78.2h.6M410.8 63.5h.6M400.2 74.6h.6M410.4 68.1h.6M400 58.6h.6M410.4 71.3h.6M402.1 78.5h.6M402.7 68.7h.6M392.7 63.5h.6M402.3 62.6h.6M414.1 77h.6M414.9 70.5h.6M398.2 59.1h.6M403.2 73.7h.6M412.6 71.4h.6M404.9 74.9h.6M412.8 77.1h.6M419.7 63.2h.6M381.4 77.8h.6M414 62.4h.6M381 74.3h.6M388.7 73.2h.6M417 65.5h.6M403.1 75.5h.6M387 67.3h.6M394.6 68.2h.6M375.4 76.6h.6M417.2 63.1h.6M382.5 76.3h.6M417.2 75.3h.6M414.2 58.4h.6M414.3 72.7h.6M415.4 66.6h.6M382.8 71.4h.6M416.1 76.7h.6M384 71.8h.6M394.3 71.7h.6M396.9 61.1h.6M392.4 70h.6M412 58.7h.6M383.7 75h.6M375.9 73.5h.6M414 70.6h.6M404.6 64.3h.6M411 53.5h.6M399.2 60.8h.6M400.8 66.1h.6M419.5 63.5h.6" stroke="#000" stroke-width=".6" fill="none"/>
<path d="M422 68.7h.6M400.1 73h.6M411 65.4h.6M415.7 63.9h.6M418.5 62.8h.6M420.1 66.3h.6M413.9 50.1h.6M414.9 49.8h.6M394.9 76h.6M403.7 62h.6M415.1 49.9h.6M407.2 77.7h.6M385.7 74.5h.6M413.7 68.5h.6M404.9 58.7h.6M396.8 70.8h.6M403.4 68.8h.6M390.9 78.2h.6M407.3 66.2h.6M403.1 69.7h.6M389.5 72.9h.6M400 74.4h.6M407 78h.6M398.5 68.7h.6M392.1 71.8h.6M415.2 60.3h.6M411.8 61h.6M415.8 72.2h.6M419.2 70.4h.6M416 77.9h.6M409.7 71.1h.6M388.9 71.8h.6M386.9 67.9h.6M381.8 75.8h.6M413.4 73.8h.6M392.5 74h.6M393.4 78.3h.6M387.2 72.4h.6M392.7 75.4h.6M381.6 70.1h.6M409.3 60.9h.6M398 76.6h.6M405.9 67.6h.6M388.9 72.7h.6M373.7 74.9h.6M388.2 65h.6M400.7 69.1h.6M383.1 75.3h.6M421.2 65.6h.6M392.3 77.5h.6M413.2 71.4h.6M421.5 72.7h.6M399.1 64.2h.6M392.6 78.1h.6M404.2 77.4h.6M387.4 70.2h.6M403.2 58.2h.6M409.5 70.9h.6M374.6 78.3h.6M402.4 76.1h.6M412.1 77.7h.6M399 74h.6M404.8 75.8h.6M412.5 64.3h.6M414.7 69.7h.6M411.5 73.2h.6M378.1 73.8h.6M419.3 73.3h.6M394 70.6h.6M414.9 75.7h.6M417 71.5h.6M404.4 71.4h.6M403.1 63.6h.6M380.5 72.6h.6M402.4 65.1h.6M380 73.3h.6M415.4 50.7h.6M413.3 76.1h.6M422.1 66.9h.6M412.9 65.6h.6M396 73.1h.6M402.3 76.2h.6M409.5 69.1h.6M394.4 65.5h.6M381.8 69.3h.6M404 56.4h.6M411.5 64.1h.6M399.2 62.8h.6M401.4 66.2h.6M389.4 74.2h.6M402.2 56.8h.6M401.6 70.2h.6M414.9 68.3h.6M413.3 59.2h.6M414 61.1h.6M420.9 67.8h.6M409.1 70h.6M404.7 68.4h.6M399.4 60.4h.6M411.7 76.2h.6M415.2 77.1h.6M384 75h.6M403.6 63.2h.6M405.2 77h.6M400.5 60h.6M417.5 58.9h.6M406.6 70.1h.6M410 75.7h.6M405.3 56.3h.6M401.2 62.3h.6M422.6 68h.6M398.8 67.5h.6M386.8 67.9h.6M402.9 72h.6M409 67.8h.6M372.4 76h.6M404.5 63.7h.6M415.3 70.5h.6M398.9 76.7h.6M421 66.4h.6M415.5 54h.6M414.9 61.7h.6M389.1 73h.6M398.3 78.2h.6M404.8 68.6h.6M374.9 72.5h.6M381.3 76.5h.6M380.5 72.5h.6M421.1 72.8h.6M394.3 61.9h.6M410 59h.6M421.1 70.5h.6M400.7 75.7h.6M399.3 62.9h.6M399.1 70.6h.6M379.7 75.1h.6M407 76.9h.6M398.1 73.6h.6M404.2 61.5h.6M420.6 61.4h.6M403.1 64.6h.6M410.5 76.2h.6M386 77.7h.6M408.2 76.5h.6M392.5 70.9h.6M372.2 74.3h.6M406.2 57.6h.6M386 74h.6M398.1 66.3h.6M412.8 60.9h.6M418.4 69.8h.6M413.4 72.1h.6M415.4 72.4h.6M405.2 64.7h.6M387.8 75.4h.6M416.3 67.1h.6M386.8 69.6h.6M405.9 59.8h.6M410.2 71.6h.6M409.1 70.4h.6M405.5 73.8h.6M392.5 68.8h.6M379.6 74.6h.6M417.8 52.9h.6M390.1 65.7h.6M407.9 58.5h.6M421.3 69.6h.6M421.3 73.4h.6M414.9 63.2h.6M418.6 54.8h.6M416.2 76.9h.6M375.5 75.5h.6M378.4 71h.6M415.3 63h.6M406.2 62.5h.6M404.6 63.3h.6M398.2 72.6h.6M402.9 78.4h.6M394.7 75.8h.6M400 68.3h.6M398.7 62.9h.6M399.1 77.7h.6M400.6 75h.6M407.6 58h.6M406.3 67h.6M389.3 75.4h.6M410.3 69.9h.6M396.7 67.1h.6M407.5 54.6h.6M383.6 70.9h.6M384.1 75.3h.6M390.3 73.2h.6M399.4 60.8h.6M407.2 66.9h.6M417 75.1h.6M416.9 64.1h.6M423.2 71.8h.6M379.1 73.3h.6M406.3 71.4h.6M407.2 58.3h.6M406.1 70.5h.6M383.8 68.9h.6M387.8 73.2h.6M380.1 77h.6M389.3 66.5h.6M377.4 71.3h.6M418.5 63.7h.6M409.6 65.2h.6M387.1 66.8h.6M375.7 76h.6M406.9 75.7h.6M397.7 74.5h.6M388.7 67.5h.6M406.3 62.4h.6M416.6 56.9h.6M392.8 72h.6M412.5 69.4h.6M413.2 56.9h.6M384.4 75.3h.6M402.9 67.7h.6M417.4 52.8h.6M413.7 64.8h.6M394.9 69.8h.6M412.7 57.8h.6M366.9 78.1h.6M414.2 52.6h.6M373.5 77.8h.6M421.7 77.9h.6M394.2 63.9h.6M388.2 76.9h.6M404.6 61.1h.6M391.4 76.9h.6M384.6 74h.6M412.5 53.5h.6M420.4 59.2h.6M415 67.3h.6M410.1 64.1h.6M396 75.5h.6M407.6 62.3h.6M400 66.8h.6M402.9 71.6h.6M390.6 68.8h.6M391.2 71.2h.6M383.3 72.9h.6M394.6 77.1h.6M396.6 67.8h.6M420.6 68.3h.6M409 68.8h.6M400.7 65.4h.6M407 55.2h.6M409.7 68.8h.6M370.9 77.1h.6M380 72.8h.6M421.6 63.9h.6M410.2 53.1h.6M408.4 54.2h.6M399 69.9h.6M379.3 75.8h.6M400.9 70h.6M405.5 64.5h.6M397.3 71.9h.6M398.7 72.6h.6M415.4 63.3h.6M395.6 70h.6M396.9 74.9h.6M414.5 62.2h.6M385 77.5h.6M415.2 68.6h.6M420.9 69.4h.6M411.6 77.4h.6M405 56.2h.6M409.9 67.7h.6M386 69.9h.6M411.7 74.9h.6M417.8 76.8h.6M399 72.3h.6M419.7 74.2h.6M419.9 58.4h.6M402.6 69.7h.6M403.8 56.7h.6M414.3 72.4h.6M386.2 75.1h.6M411.3 67.2h.6M405.2 63.8h.6M413.8 67.6h.6M403.9 64.2h.6M388.6 75.4h.6M408.7 72.2h.6M417.2 69.5h.6M398.8 61h.6M412.2 55.2h.6M393.6 70.4h.6M420.9 71.6h.6M409.1 75.6h.6M402 68.2h.6M398 60.5h.6M401.2 76.1h.6M414.4 76.4h.6M391.8 68.7h.6M381.7 76.4h.6M421.6 76.9h.6M413.9 69.6h.6M409.5 68.3h.6M413.4 50.8h.6M411.9 63.4h.6M389 75.5h.6M378.4 77.9h.6M382.6 75.1h.6M383.1 69h.6M414.1 71.3h.6M422 75.3h.6M405.8 63.1h.6M412.5 74.4h.6M413.1 58.2h.6M413.2 66.3h.6M393.8 73.1h.6M386.2 74.3h.6M397 66.9h.6M385.2 73.7h.6M389.5 65.1h.6M401.1 66.1h.6M391.8 76h.6M390.8 71h.6M391.6 69.7h.6M388.1 69.1h.6M384.9 78.1h.6M407.7 65h.6M389.8 78.3h.6M416.9 60.1h.6M379.7 71.8h.6M416.6 51.7h.6M421.8 69.6h.6M416.4 52h.6M396.1 70.4h.6M400.9 61.1h.6M414 66.3h.6M416.3 63.4h.6M391.6 69h.6M415.2 65.2h.6M392.2 78.3h.6M398.5 59.3h.6M413.6 71.9h.6M420.6 59.6h.6M401.1 64.5h.6M398.3 74.6h.6M404.2 64.7h.6M404.3 72h.6M409.1 73.4h.6M400 71.3h.6M408.9 66.7h.6M420.5 69.3h.6M397.8 67h.6M390.2 75.5h.6M420.6 71.2h.6M383.4 75h.6M380.9 72.5h.6M395.5 65.7h.6M407.8 58.8h.6M377.1 71.6h.6M421 66.7h.6M418 73.2h.6M403.1 62.9h.6M407 55.2h.6M419.2 57.3h.6M365.7 78.1h.6M403.3 62.1h.6M423 74.6h.6M411 77.8h.6M393.5 62.8h.6M374.5 74h.6M421 75.8h.6M421.7 77.3h.6M392.4 73h.6M380.5 72.9h.6M400.3 61.2h.6M398.2 67.8h.6M400.7 66.9h.6M384 73.8h.6M406.2 61.7h.6M370.4 75.8h.6M407 75.1h.6M419.1 78.1h.6M407.1 61.4h.6M419.1 72.9h.6M404.2 67.8h.6M421.3 73.7h.6M408.1 75.2h.6M411.1 70.4h.6M377.2 71.8h.6M413 58h.6M394.1 72.9h.6M378 73.2h.6M404.6 70h.6M415.4 69.4h.6M419.8 71.7h.6M389.8 65.4h.6M419.2 62.2h.6M391.9 70.1h.6M416.5 59.8h.6M401.3 64.4h.6M421.1 78.4h.6M419.1 66.4h.6M392 63.2h.6M408.6 74.7h.6M397.5 66.6h.6M405.4 70.6h.6M405.8 65.8h.6M394.1 74.9h.6M375.7 75.1h.6M419.1 56.7h.6M398 70.2h.6M399.2 65.4h.6M405.9 76.3h.6M376 72.2h.6M394.2 61.7h.6M375.4 74.2h.6M401.3 59.1h.6M383.6 69.3h.6M417.1 76.9h.6M408.4 74.8h.6M405.4 75.2h.6M379.1 72.4h.6M373 77.9h.6M410.4 76h.6M408.7 55.7h.6M408 64.7h.6M380.4 70.3h.6M412.8 63.7h.6M412.4 70.1h.6M397 78.4h.6M405.6 60.1h.6M386.6 77.1h.6M416 76.6h.6M394.4 68.9h.6M421.1 68.8h.6M406.8 65.7h.6M421.9 65.3h.6M415.1 61h.6M420.6 78.2h.6M392.8 65.6h.6M404.3 66h.6M413.2 61.8h.6M375.9 77.2h.6M380.9 76.6h.6M376 76.6h.6M390.3 64.5h.6M410.3 70.5h.6M397.3 70.6h.6M413.6 73.8h.6M406.6 66.4h.6" stroke="#fff" stroke-width=".6" fill="none"/>
<path class="wl2" d="M364.7 78.5H424A59.3 59.3 0 0 0 416.1 48.9Z"/>
<text class="k2" x="358.7" y="83.7">0001</text>
<text class="k2" x="412.4" y="83.7">2110</text>
<path d="M415.8 80.3h2.6M419.3 80.3h2.6" stroke="#000" stroke-width=".5" fill="none"/>
<text class="k2" x="415" y="44">1010</text>
<path d="M421.9 40.6h2.6" stroke="#000" stroke-width=".5" fill="none"/>
</g>
<g id="ipf-5">
<path d="M426.1 142.6H485A58.9 58.9 0 0 0 477.1 113.2Z" fill="rgb(205,205,205)"/>
<path d="M476.1 141.4h.7M445.7 137h.7M479.1 119.5h.7M478.5 134.2h.7M451.8 132.1h.7M483.1 137.5h.7M426.9 142.1h.7M469 118.2h.7M446.4 132.4h.7M455.1 138.8h.7M443.9 142.5h.7M447.4 140.5h.7M478.9 129.3h.7M435 138.3h.7M469.9 140.1h.7M429.4 142.6h.7M435.4 138.6h.7M441.8 134.6h.7M465.2 121.5h.7M435.9 137.7h.7M454.9 126.2h.7M447.8 139.7h.7M448.2 134.6h.7M457.2 131.4h.7M451.4 129.5h.7M458.2 134.4h.7M455.3 137.8h.7M449.7 141.4h.7M455 139h.7M464.7 139h.7M482.1 134.5h.7M478 130.4h.7M474.5 128.3h.7M453.6 126.8h.7M457.5 140.2h.7M472.7 115.5h.7M433.9 138.3h.7M478.2 135.9h.7M481.1 126.4h.7M468.6 128.8h.7M457.3 141.1h.7M467.4 135.2h.7M480.1 120.5h.7M475.3 141.7h.7M469.5 130.4h.7M479.1 133.6h.7M470.9 128.5h.7M482.1 132.5h.7M442.8 134.9h.7M449.5 132h.7M455.4 131.5h.7M428.1 141.6h.7M468.1 122.4h.7M436.5 137.7h.7M480.9 138.9h.7M451.5 138.9h.7M437.9 138.4h.7M456 134.5h.7M474.2 126.5h.7M433.5 138.9h.7M455.1 136.3h.7M482.7 132.6h.7M472.2 119.3h.7M429.3 140.7h.7M470.8 142.3h.7M439.1 137.7h.7M445.5 141.9h.7M460.5 131.4h.7M460.3 135.4h.7M456.5 136h.7M465.2 139.5h.7M460 123.9h.7M465.8 120.8h.7M444.2 137.4h.7M437.1 139.7h.7M447.6 133.3h.7M434 139.8h.7M442.6 142.3h.7M478.2 115.7h.7M472.9 142h.7M465.1 133.2h.7M432.4 139.4h.7M444.8 137.4h.7M457 129.5h.7M477.5 130.9h.7M444.9 135.3h.7M477.4 117.1h.7M453.1 127.7h.7M450.9 131.2h.7M431.2 141.2h.7M479.8 128.5h.7M475.1 131.2h.7M432.3 141.6h.7M450.8 128.4h.7M474.5 142h.7M472.3 130.7h.7M473.3 129.1h.7M432.9 141.9h.7M441.9 133.6h.7M459 139.4h.7M446.7 135.1h.7M442.6 136.8h.7M479.1 127.3h.7M475.9 114.9h.7M474.6 125.9h.7M466.5 131.8h.7M482.8 141.6h.7M479.2 142.5h.7M438.6 138.2h.7M468.9 120.9h.7M437.8 136.1h.7M462.6 122.7h.7M437.4 142.1h.7M474.3 128.2h.7M462.9 133.4h.7M465.8 141.5h.7M469 140.6h.7M460.3 126.9h.7M432.6 139.9h.7M443.3 132.9h.7M469 125.7h.7M458.1 138.2h.7M473.4 140.7h.7M436.1 138.3h.7M458.7 137.1h.7M451.5 132.7h.7M480 120.8h.7M468.1 127.3h.7M437.6 136.2h.7M471.7 141.6h.7M459.5 123.7h.7M434 140h.7M474.4 141.1h.7M475.9 139.8h.7M475.6 128.9h.7M475.8 116.7h.7M469.7 132.7h.7M476.6 116.9h.7M450 129.9h.7M437.3 138.4h.7M456.1 127h.7M475.2 135.7h.7M468.7 120.2h.7M463.6 135.3h.7M433.5 139h.7M451.7 141.4h.7M435 141.4h.7M472.9 116.5h.7M449 141.4h.7M449 136.3h.7M436.7 142.6h.7M448.9 132.6h.7M444.8 131.9h.7M479 120.4h.7M477.3 117h.7M481.7 142.2h.7M480.3 125.8h.7M439.2 139.5h.7M464 130.8h.7M464.6 122.1h.7M458.6 124.9h.7M466.8 139.5h.7M463.2 128h.7M449.1 138.6h.7M484.2 141.6h.7M454.5 141.7h.7M468.9 118.8h.7M472.6 141.8h.7M468.5 137.8h.7M462.6 125.8h.7M469.2 128.2h.7M438.5 141.8h.7M480.3 129.3h.7M467 140.4h.7M459.1 142.3h.7M459.1 141.5h.7M468.3 125.6h.7M467.6 123.1h.7M463.3 141.4h.7M455.6 129.3h.7M449.9 137.8h.7M471.6 133.8h.7M466.8 123h.7M478.6 116.7h.7M447.6 136.9h.7M461.5 140.2h.7M456.6 132h.7M429.9 141.6h.7M470.8 142h.7M436 139.4h.7M472.6 122h.7M476.7 142.4h.7M477.5 142.3h.7M449.2 134h.7M458.4 127.9h.7M444.3 136.8h.7M446.1 136.9h.7M458.2 141.8h.7M477.3 133.9h.7M461.1 135.3h.7M461.5 141.3h.7M465.2 135h.7M450.6 135.4h.7M483.7 140.7h.7M451.6 129h.7M471.4 132.9h.7M438 142.3h.7M457.8 126.8h.7M463.4 142.2h.7M439.3 137.1h.7M440.5 134.8h.7M462.2 131.3h.7M476.6 138h.7M443.4 142.3h.7M460.1 141.7h.7M432.1 142.1h.7M479.4 125h.7M442.2 139.8h.7M460 128.7h.7M475.1 114.5h.7M454 126.7h.7M449.9 132.3h.7M447.6 139.4h.7M445.7 132.5h.7M459 128.1h.7M472.6 126h.7M453.8 141.4h.7M465.9 125.4h.7M464.3 133.8h.7M445.6 131.9h.7M470.4 137.9h.7M466 122.4h.7M435.1 141.2h.7M435.9 138h.7M450.3 128.8h.7M438.4 138.9h.7M432.1 141.3h.7M459.7 135.5h.7M456 133.6h.7M474.2 141.1h.7M447.4 130.6h.7M431.3 139.7h.7M482.5 127.5h.7M480.2 139h.7M440.4 140.2h.7M476 142.4h.7M427.3 142.5h.7M448.6 134h.7M435.5 137.1h.7M444.1 138.5h.7M471.2 127.3h.7M465.9 123h.7M441.8 136.9h.7M479.6 138.3h.7M461.7 141.7h.7M467.6 130.7h.7M447.9 130.6h.7M472.3 135.1h.7M442.4 134.1h.7M454.1 137.5h.7M433.5 141.5h.7M449.8 139.4h.7M430.5 141.1h.7M460.7 137.6h.7M465.3 120h.7M463.4 142.5h.7M473.1 135h.7M436 138.2h.7M469.2 141h.7M442.7 137.2h.7M482.1 141.1h.7M442.9 135h.7M428 141.9h.7M483.4 141.4h.7M436.2 142.5h.7M457.4 133.6h.7M475.8 142.2h.7M469.3 133.3h.7M459.8 127.5h.7M443.4 140.3h.7M462 130h.7M456.5 141.7h.7M456.7 141.8h.7M442.1 140.6h.7M460.1 142.5h.7M436 138.2h.7M459.4 132.8h.7M432.6 141.5h.7M451.7 139.7h.7M443.5 136.5h.7M443.7 138.9h.7M446.8 139.3h.7M447.6 136.5h.7M474.8 141.6h.7M431.1 140.9h.7M448.2 140h.7M462.7 122.3h.7M471.3 121.9h.7M458.7 127.3h.7M473.8 142.5h.7M454.3 126.7h.7M482 134.8h.7M468.8 135.8h.7M475.7 137h.7M465.2 138.2h.7M470.1 134.6h.7M477.7 137h.7M455.3 126.8h.7M446 138.4h.7M467.7 127.3h.7M441.7 139.5h.7M462.3 122.5h.7M447.6 141.9h.7M449.9 142.1h.7M435 138.9h.7M446.8 137.8h.7M456.9 124.9h.7M444.1 134.7h.7M441.8 142.4h.7M476.5 129.5h.7M453.7 141.7h.7M470 124.8h.7M466.1 130.5h.7M433 141h.7M474.5 129.3h.7M446.5 140.2h.7M461.2 133.2h.7M470.4 118h.7M474 114.8h.7M475.2 116.5h.7M467.9 128.1h.7M458 141h.7M459.1 134.2h.7M444.2 134h.7M457 137.5h.7M468.9 127.6h.7M465.1 142.1h.7M475.9 142.4h.7M466.7 120.6h.7M474.1 140.2h.7M443.3 135.6h.7M450.2 134.2h.7M474.4 124.8h.7M446.3 132.3h.7M462.9 133.8h.7M476.8 123.5h.7M468.4 118.2h.7M448 141h.7M456.4 142.5h.7M451.5 130.4h.7M437.9 139.1h.7M479.1 118.5h.7M471.5 137.9h.7M465.7 140.6h.7M472.4 127.2h.7M459.6 123.7h.7M455 129.5h.7M465 129.8h.7M444.4 135.1h.7M451.5 138.6h.7M441 138.3h.7M476.1 128h.7M471.4 124.3h.7M476.2 124.5h.7M442.3 138.2h.7M456.2 126.9h.7M466.1 122.1h.7M465 130.9h.7M466 141.2h.7M439.3 139.1h.7M481.7 128.8h.7M469.6 128.3h.7M442.5 136.5h.7M480.7 126.2h.7M473.3 131.5h.7M454.4 126.7h.7M447.9 130.6h.7M450.6 140h.7M477.5 135.5h.7M480.6 141.6h.7M444.1 135.7h.7M456.7 129.7h.7M448.1 130.4h.7M427.6 142.1h.7M472.5 125.5h.7M464.2 131.8h.7M479.3 141.3h.7M478.2 140.9h.7M466.6 133.6h.7M437 139.3h.7M438.7 142.1h.7M474.7 129.6h.7M471.6 123.2h.7M439 135.9h.7M438.2 141.9h.7M436.1 136.7h.7M452.3 133.4h.7M460.3 129h.7M461.4 141.5h.7M482.3 138.8h.7M473.1 116.9h.7M477.7 126.1h.7M472.4 123.5h.7M468.4 122.8h.7M450.7 140.3h.7M461.8 138.5h.7M447.9 138.7h.7M472.7 127.7h.7M456.8 131.2h.7M464.7 122.2h.7M464.7 140.8h.7M475.7 138.3h.7M482.1 140.2h.7M448.6 136.3h.7M463.4 139.3h.7M455.1 139.5h.7M446.2 134.3h.7M452.9 133.6h.7M459.5 130.2h.7M472.7 127.7h.7M468.1 142.5h.7M435 140h.7M436.8 141.6h.7M447.8 136h.7M468.5 140.1h.7M429.9 141.3h.7M473.7 141.8h.7M471.3 139h.7M447 135.9h.7M449.8 140.7h.7M460.2 123.2h.7M457.2 139.5h.7M479.7 135.5h.7M436.5 142.5h.7M441 133.9h.7M453.5 142.1h.7M478.3 140.2h.7M473.7 138.2h.7M451.6 140.2h.7M471.6 116.7h.7M432 139.3h.7M478.3 142.4h.7M438.4 136.2h.7M479.8 124.1h.7M437.9 142.5h.7M441.7 140.6h.7M441.8 134.4h.7M477 127.2h.7M470.8 119.6h.7M459.9 125.5h.7M448.4 130.4h.7M467.2 125.2h.7M444.4 138.3h.7M450.2 140.2h.7M437.5 139.9h.7M477.1 115.4h.7M431.9 140h.7M471.8 128h.7M448.9 139.9h.7M466.8 119.5h.7M441.3 137.1h.7M443.4 132.5h.7M436.5 141.6h.7M440.5 140.2h.7M445.4 132.5h.7M476.6 126.2h.7M479.2 124.2h.7M430 142.5h.7M481.3 141.7h.7M443.6 133.7h.7M470 123.7h.7M477.3 117.9h.7M478.5 129.8h.7M469.1 119.7h.7M475.9 134.7h.7M437.3 137.9h.7M480 138.7h.7M439.3 135.8h.7M481 141.8h.7M462.2 135.5h.7M455.7 141.4h.7M476.1 123.6h.7M478.7 134.2h.7M466.9 122.8h.7M452.6 133.5h.7M468.2 137.4h.7M452.3 137.3h.7M457.4 139.1h.7M473.1 124.4h.7M461 122.3h.7M448 140.1h.7M477.2 121.7h.7M455.5 130.3h.7M482.5 129.2h.7M443 136.2h.7M473.4 125h.7M478.8 142h.7M476.1 130.3h.7M468.7 134.2h.7M463.9 121h.7M444.3 142h.7M455.3 125.6h.7M479.3 118.3h.7M455.8 141.4h.7M464.2 123.5h.7M477.4 132.3h.7M429.9 142.5h.7M428.2 141.3h.7M443.6 138.2h.7M462.8 133.3h.7M437.7 136.1h.7M431.7 140.1h.7M466.3 141.8h.7M431.5 141.2h.7M481.7 141h.7M434.1 141.5h.7M458.3 132.9h.7M449.7 142.2h.7M460 140.7h.7M463.3 131.4h.7M471.9 134.8h.7M467 121h.7M480.4 138.8h.7M478.9 136.9h.7M450 141h.7M467 128.7h.7M444.9 131.7h.7M482.1 127.5h.7M437.7 138.9h.7M467.8 118.7h.7M429.7 141.6h.7M451.5 131.6h.7M482.3 138.4h.7M474.7 116.8h.7M433 138.4h.7M445.6 141.5h.7M466.5 130.9h.7M470.2 141.9h.7M475.6 136.1h.7M453.2 129.4h.7M471.5 121.3h.7M464.8 140.2h.7M472.1 131.1h.7M440.6 142.2h.7M475.1 114.6h.7M431.8 139.5h.7M460.2 128.5h.7M469.5 120.1h.7M447.2 131.7h.7M484.3 136h.7M477.3 139.7h.7M459.2 142.3h.7M460.4 141.2h.7M472.1 134h.7M468.7 132.5h.7M459.5 125.9h.7M450.5 136.2h.7M438.1 136.2h.7M478.9 142h.7M477.8 136.9h.7M480.3 123h.7M456.8 125.4h.7M459.4 131.7h.7M469.2 124h.7M456 142h.7M458.1 132.1h.7M442.1 140.5h.7M440.6 137.1h.7M443.1 140.3h.7M460.8 142.4h.7M455.9 134.9h.7M442.5 135h.7M458.3 142.4h.7M478.6 132.6h.7M467.1 125.9h.7M455 127.9h.7M461.8 135.1h.7M463.2 142.4h.7M458.9 130.2h.7M433.1 139.6h.7M469.4 136.6h.7M474 118.2h.7M473.1 128.4h.7M433.9 139.4h.7M462 123h.7M470.5 134.8h.7M482.8 131.1h.7M472 142.4h.7M466.9 133.3h.7M427.6 142h.7M459.2 135.7h.7M470.6 128.4h.7M444.9 135.8h.7M478.9 121.9h.7M468.8 142.5h.7M470.3 136.4h.7M476.7 123h.7M461.5 137.1h.7M453.7 133.1h.7M465.1 124.4h.7M436.7 136.5h.7M463.4 124.2h.7M440.9 137h.7M435.1 137.8h.7M481.7 131.4h.7M435.8 139.6h.7M464 124.8h.7M456.6 125.1h.7M447.3 133.1h.7M437.7 141.7h.7M437.7 138.5h.7M474.1 132.1h.7M444.6 140.6h.7M464.1 135.9h.7M461.7 141.2h.7M468 140.7h.7M428.1 141.7h.7M468.7 133.8h.7M481.9 130.1h.7M442.6 135.2h.7M474 120.8h.7M474.7 133.8h.7M440.3 138.2h.7M477.8 141.4h.7M470.1 121.9h.7M479.6 137.8h.7M463.3 121h.7M464.2 134.3h.7M474.4 119.9h.7M462 125.2h.7M461.4 128.7h.7M436 136.8h.7M456.1 125.2h.7M435.7 139.9h.7M466.4 141.9h.7M437.1 136.2h.7M436.1 139.3h.7M462.4 126h.7M475.8 132.5h.7M477.9 120.9h.7M473.4 120h.7M470.1 118.3h.7M476.1 114h.7M466.3 140.8h.7M476 121h.7M455.6 139.1h.7M440.3 139.7h.7M453.7 127.1h.7M426.1 142.5h.7M481.9 133.5h.7M480.4 140h.7M445.5 136.1h.7M456.4 133.1h.7M444.9 131.8h.7M480 134.6h.7M467.7 128.4h.7M473.4 141h.7M481 122.4h.7M437.6 142.5h.7M477.6 141.4h.7M460.4 142.1h.7M449.4 142h.7M446.1 141.5h.7M439.9 138.7h.7M459.7 132.4h.7M436.4 137.2h.7M471.2 116.8h.7M427.5 142h.7M452.2 136.8h.7M439.7 139.4h.7M432.4 142.6h.7M473.4 127h.7M441.5 137.1h.7M435.8 142.5h.7M482.3 132.5h.7M461.9 123.9h.7M477.1 139.2h.7M456 140.7h.7M454.5 130.3h.7M484 138h.7M478 140.6h.7M472.4 127.6h.7M448 140.8h.7M454.6 131h.7M428.7 142.3h.7M450.2 129.3h.7M482.8 141h.7M450.3 136.1h.7M472.5 142.2h.7M465.2 120.2h.7M470.8 130h.7M475.8 118.1h.7M480.7 130.1h.7M435.6 142.2h.7M480.4 128.1h.7M436.4 142.5h.7M436.7 140.2h.7M454.6 126.8h.7M483.6 140.1h.7M446.7 138.4h.7M445.7 139.3h.7M444.7 135.8h.7M456.6 127h.7M447.6 137.6h.7M470 128.1h.7M429.2 141h.7M459.8 136.9h.7M477.9 121h.7M474.7 130.8h.7M478.4 126.2h.7M468.3 125.5h.7M480.3 134.1h.7M481.5 123.6h.7M475.6 119.2h.7M442.6 141.6h.7M464.9 123.2h.7M478.7 129.2h.7M448.6 140.6h.7M476 140.1h.7M442.3 138.1h.7M446.8 138.6h.7M468.7 139.7h.7M431.4 141.7h.7M456.7 141.2h.7M473.8 136.6h.7M478.5 129.3h.7M472.7 128.6h.7M467 142.1h.7M470.7 138.9h.7M438.3 135.6h.7M473.6 124h.7M442.3 134.6h.7M439 141.3h.7M450.5 138.6h.7M473.4 132.6h.7M440.6 134.2h.7M434.7 140.9h.7M467.2 120.8h.7M474.9 133.5h.7M445.2 131.8h.7M437.2 142.1h.7M445.3 136.2h.7M438.4 141.9h.7M463.9 126.8h.7M453.4 127.2h.7M446.8 131.8h.7M466.5 134.5h.7M441.9 140.1h.7M456.9 134.8h.7M468.1 133.1h.7M470.5 133.3h.7M474.5 136.3h.7M482.5 128.6h.7M467.3 124.9h.7M464.8 120.2h.7M450.6 136.9h.7M440.4 139.5h.7M454.4 130.2h.7M437 139.2h.7M449 139.2h.7M442.7 133.5h.7M472.3 124.9h.7M472.8 130.1h.7M474.6 141.1h.7M458.7 128.6h.7M458.8 142.3h.7M428.3 141.9h.7M471.5 141.1h.7M437.3 136h.7M431.6 140.3h.7M452.9 133.8h.7M460 138.6h.7M477.7 118.1h.7M432.7 139.4h.7M448.7 131.8h.7M462 140.9h.7M438.3 135.6h.7M468.3 133h.7M468.8 133.4h.7M462.2 125.1h.7M448.7 131.2h.7M454.1 138.1h.7M477.8 141.9h.7M445.9 141.4h.7M472.9 121.7h.7M474.1 119.2h.7M426.2 142.4h.7M451.9 133.3h.7M476.3 116.7h.7M449.5 142.5h.7M463.8 123.3h.7M469.6 137.8h.7M455 128.5h.7M445.3 137.9h.7M461.2 125h.7M477.3 123.6h.7M434 138.8h.7M472.9 125.6h.7M464 134h.7M437.8 141.3h.7M467.2 142.5h.7M434.2 137.8h.7M444.2 142.3h.7M481.4 141.5h.7M448.2 134.2h.7M441.7 135.8h.7M435.6 141.3h.7M469.4 128.8h.7M473.4 140.9h.7M447.3 133.7h.7M468 134.3h.7M448.3 142.4h.7M469.3 119.3h.7M471.8 140.5h.7M477.5 141.5h.7M435.5 138.2h.7M466.2 129.3h.7M464.2 136.5h.7M449.3 132.5h.7M453 137.7h.7M435 139.9h.7M472.3 138h.7M429.5 141.6h.7M439.3 137.8h.7M476.6 136.9h.7M471.2 140.1h.7M432.9 139.9h.7M456.8 128.6h.7M477.8 128.1h.7M441.1 141.7h.7M454.5 139.8h.7M480.6 131.2h.7M448.4 142.4h.7M472.1 118.1h.7M464.8 140.1h.7M450.5 128.7h.7M460.1 125.5h.7M442.3 134.4h.7M437.3 141.1h.7M465.7 135.9h.7M439.4 139.5h.7M473.7 130.3h.7M430.4 142.1h.7M473.5 141.7h.7M460.2 129.7h.7M444.3 141.3h.7M480.8 141.9h.7M466.5 137.6h.7M474.4 116.2h.7M473.3 126.2h.7M461.3 134.4h.7M477.7 115.4h.7M466.3 131.3h.7M472.7 135.1h.7M473.3 126.3h.7M438.6 140.6h.7M439.2 137.7h.7M455.1 130.2h.7M471.7 140.8h.7M475 126.1h.7M434.6 137.6h.7M475.6 138.7h.7M455.7 126.1h.7M460.5 124.6h.7M458.4 141.1h.7M436.4 141.8h.7M453.7 139.5h.7M439.7 140.4h.7M469.8 136.2h.7M484.2 141.1h.7M467.3 123.5h.7M429.6 140.9h.7M444.7 137.9h.7M472.3 120.4h.7M460 125.9h.7M464.6 121.8h.7M472.3 140.7h.7M478.3 141.9h.7M432.7 142.5h.7M459.7 126.8h.7M457.2 134.9h.7M453.1 127.9h.7M462.1 126.6h.7M477.4 128.7h.7M473.6 117.8h.7M456.2 130.9h.7M440.8 137.2h.7M448.5 132.6h.7M435.5 137.2h.7M471.9 126.6h.7M440.7 135.7h.7M451.1 133.9h.7M438.5 142.5h.7M430.9 142.2h.7M431.5 141h.7M449 133.5h.7M447.4 141.7h.7M466.3 120.5h.7M481.6 140.2h.7M451.2 142.4h.7M449 134h.7M473.8 115h.7M458.3 130.8h.7M478.4 129.8h.7M476.8 140.5h.7M469.2 141.9h.7M449.6 142.5h.7M468.8 132.8h.7M467.1 138.6h.7M432.8 141.1h.7M437.4 141.3h.7M447.2 142.4h.7M455.4 142.5h.7M455.2 140.9h.7M453.5 135.2h.7M448.4 135.7h.7M457.5 133.5h.7M461.5 127.5h.7M477.2 135.6h.7M459.8 142.4h.7M473.1 119.2h.7M475.9 124.8h.7M449 137.9h.7M449.5 132h.7M475.3 114.9h.7M477 118.7h.7M478.6 138.9h.7M451.6 130.1h.7M480.9 123.5h.7M443.1 138.4h.7M433.6 140.4h.7M468.2 141.3h.7M445.9 142.4h.7M468.3 132h.7M477.2 120.7h.7M438.8 137h.7M469.1 140.1h.7M434.7 137.5h.7M464.8 142.2h.7M451.9 142.3h.7M460.1 122.8h.7M457.9 134.5h.7M430.4 140.4h.7M460 125.1h.7M474.4 125.6h.7M434.1 141.3h.7M465.4 127.9h.7M463.2 122.7h.7M437.3 138.1h.7M453.4 137h.7M440.3 136.7h.7M460.2 139.4h.7M436.7 139.7h.7M464.5 131.7h.7M472 129.6h.7M452.8 128.4h.7M440.8 141.9h.7M466.3 126.8h.7M445.7 137.6h.7M465.6 141.7h.7M454.6 133.3h.7M472.9 119.9h.7M444.4 135.5h.7M476 140.2h.7M455.1 129.4h.7M441.1 140.9h.7M430.3 140.7h.7M456.1 135.8h.7M477.6 122.9h.7M471.3 116.5h.7M481.3 135.3h.7M470 126.8h.7M456.7 141.8h.7M465.6 123.2h.7M479.6 135.5h.7M468.2 118.8h.7M465.8 126.9h.7M473.6 141.5h.7M472.9 137.2h.7M442.3 137.3h.7M445.4 134.5h.7M465.9 141h.7M437.9 138.3h.7M479.6 135.1h.7M431.2 142.4h.7M449.5 137h.7M468.1 137.8h.7M441.3 140.1h.7M465.9 122.2h.7M452.2 140.6h.7M471.1 127.3h.7M446.2 137.8h.7M439.7 141.6h.7M452.9 142.1h.7M483.1 138.9h.7M480.6 131.8h.7M480.3 140.3h.7M448 136.5h.7M442.5 135.8h.7M465 142.1h.7M438.6 141.6h.7M458.2 125h.7M453.2 139h.7M461.2 142.6h.7M473.5 127.5h.7M449.2 139.6h.7M470.7 139.7h.7M474.7 141.4h.7M456 140.4h.7M463.6 130.4h.7M440 141.8h.7M469.3 137.7h.7M461 122.8h.7M434.9 140.6h.7M432.8 140.8h.7M482 129.5h.7M450.7 131.1h.7M433.4 139.1h.7M440.6 138.4h.7M479.8 128.4h.7M443.8 139.6h.7M444 134.7h.7M461.7 126.2h.7M476.4 122.8h.7M437.5 136.8h.7M468.1 136.6h.7M478.2 125.9h.7M438 137.5h.7M473 133.5h.7M457.3 124.5h.7M444.9 135h.7M465.6 120.7h.7M459.3 142.6h.7M464 121.4h.7M463.4 134.3h.7M466.6 140h.7M466.3 131.7h.7M454.5 139.6h.7M429 142.2h.7M477 120.8h.7M474 139.9h.7M456.4 136.8h.7M441.7 136.2h.7M466.9 130.5h.7M453.9 141.9h.7M435 138.3h.7M435 142.3h.7M471.3 131.3h.7M447.1 142h.7M447.5 136.4h.7M442.3 140.9h.7M457.3 132.5h.7M443.7 136.1h.7M481.1 134.7h.7M471 129.2h.7M457 142h.7M474 142.2h.7M462 139.5h.7M481.2 141.9h.7M443.8 139.7h.7M467.8 129.5h.7M472 135.7h.7M446.4 137.7h.7M434.1 139.6h.7M474.8 126.1h.7M450.5 128.4h.7M446.6 130.6h.7M462.5 135.6h.7M432.4 141.7h.7M430.6 140.9h.7M470 124.4h.7M462.6 131.3h.7M466.4 138.9h.7M470.3 130h.7M469.8 136.7h.7M464.4 124.1h.7M466.9 120.2h.7M449.8 141.3h.7M463.9 131.4h.7M457.9 141h.7M461.9 141.5h.7M436.6 140.7h.7M449.8 129.6h.7M435.6 138.4h.7M481.9 142.3h.7M462.9 123.6h.7M455.4 126.8h.7M479.4 140.7h.7M461.5 140.1h.7M446.8 136.2h.7M441.8 139.4h.7M482.4 131.8h.7M473.9 141.3h.7M466.4 119.2h.7M459.8 137.7h.7M464 133.3h.7M473.8 125.7h.7M472.3 141.1h.7M436.6 138.6h.7M441.5 141.6h.7M465.5 119.8h.7M457.6 128.8h.7M448.3 136.5h.7M461.6 122.7h.7M477 131h.7M447.1 141.6h.7M480.7 134.6h.7M466.8 140.6h.7M435.3 142.1h.7M437.2 136.7h.7M453 134.9h.7M455.1 138.4h.7M476.6 114.1h.7M465.9 141.8h.7M467 137.5h.7M461.9 122.4h.7M476.2 142.3h.7M442.7 142.4h.7M477.8 129.6h.7M451.8 139.1h.7M447.2 134.3h.7M473.4 130.3h.7M480.1 142.5h.7M434.9 140.6h.7M476.3 127.6h.7M449 132.7h.7M444.3 141.6h.7M442.7 142.3h.7M479.7 140.8h.7M468.1 125.7h.7M479.2 126.7h.7M443.5 141.8h.7M447.3 137.2h.7M475.1 126.3h.7M464.2 131.9h.7M451.2 142.5h.7M471.8 140.3h.7M476.7 142.5h.7M471.6 117h.7M456.3 135.6h.7M459.2 124.5h.7M457.9 140.3h.7M479.6 125.3h.7M466.6 125.5h.7M481.9 138.6h.7M481 123.7h.7M464 126.7h.7M465.9 138.8h.7M439.6 138.2h.7M484.7 141.9h.7M463.2 129.2h.7M468.6 140.6h.7M445.8 134h.7M475.8 126.5h.7M438 138.2h.7M438.8 139.1h.7M477.9 137.7h.7M434.6 137.6h.7M438.6 140h.7M442.7 140.5h.7M458.2 125.1h.7M482.9 142.1h.7M437.4 141.8h.7M461.7 136.4h.7M475.4 130.2h.7M449.9 133.3h.7M471.7 142.3h.7M466.3 141.3h.7M483 138h.7M474.3 139.7h.7M473 116.5h.7M447.3 132.3h.7M431.8 142.6h.7M474 117.4h.7M462.7 128.8h.7M463 138.1h.7M454.5 135.8h.7M471.5 123.3h.7M467.7 141.3h.7M475.7 117.1h.7M435 140.4h.7M478.7 141.8h.7M482.4 140.4h.7M458.3 139.8h.7M475.1 125.4h.7M465.6 122.8h.7M456.2 137.8h.7M447 131.1h.7M469.6 120.2h.7M478.1 127h.7M450.1 129.5h.7M480.9 125h.7M473.1 134.9h.7M464.4 134.1h.7M440.6 135.8h.7M443.1 132.9h.7M473.1 139.8h.7M434.1 138.2h.7M454.3 138.2h.7M467.6 140.7h.7M473 141.6h.7M468.8 122.6h.7M466.6 123.3h.7M451.5 140.4h.7M468.2 141.2h.7M448.2 142.3h.7M439.6 135.2h.7M482.8 139.2h.7M462.5 132.8h.7M452.7 139.7h.7M480.2 121.8h.7M461.3 124.8h.7M477.3 131.5h.7M455.9 125.9h.7M477 140.6h.7M464.1 135.4h.7M430.8 140.7h.7M448.3 140h.7M474.8 132.8h.7M466.5 135.5h.7M451.8 140.9h.7M479.1 136.4h.7M476.8 134.2h.7M476.8 119.1h.7M436.9 136.6h.7M432.5 141.2h.7M431.9 139.4h.7M468.7 141.4h.7M430.7 141.9h.7M451.4 132.6h.7M439.9 141.6h.7M481.6 140h.7M434.2 139.4h.7M438.3 137h.7M467.3 138.8h.7M463.3 138h.7M470.4 133.9h.7M436 141.2h.7M448.8 138.9h.7M480.1 132.9h.7M465.8 120.2h.7M476.6 120.6h.7M472.1 126.3h.7M479.2 128.1h.7M438.4 139h.7M462 133.5h.7M451.2 141.9h.7M462.4 121.7h.7M470.1 128.6h.7M427.5 141.8h.7M456.7 127.6h.7M482.8 140.3h.7M452.8 141.3h.7M459.8 133.9h.7M476.3 113.8h.7M443.8 137.9h.7M482.7 131h.7M444.1 136.5h.7M465.3 122.4h.7M431.8 140h.7M476.2 140.4h.7M478.9 132.4h.7M471.8 140.3h.7M480.8 126.8h.7M479.8 121.1h.7M441.2 135.2h.7M479.7 124.9h.7M474.3 118h.7M444.2 133.3h.7M464.9 131h.7M453.1 138.3h.7M443.9 135.7h.7M469.1 126.3h.7M460.2 132.9h.7M468.2 141h.7M474.9 133.7h.7M469.9 119.4h.7M479.2 139.6h.7M442 137.5h.7M445.8 142h.7M463.7 140.7h.7M475.6 142h.7M480.4 120.9h.7M436.9 139h.7M471.7 119.9h.7M465 124.6h.7M450 132h.7M440.9 141.1h.7M428.5 141.9h.7M457.8 133.3h.7M432.8 140h.7M453.2 138.1h.7M471.4 142.4h.7M463 135.5h.7M470.8 116.9h.7M481.4 142.4h.7M452.1 141.4h.7M472.9 120.6h.7M440.4 134.5h.7M471.3 124.9h.7M477.6 120.7h.7M450.8 137h.7M439.6 138.9h.7M474.4 142.5h.7M469.9 128.9h.7M464 134.6h.7M470.8 118.6h.7M459.5 127.4h.7M457 127.5h.7M443.6 135.8h.7M445.4 141.3h.7M476.6 126.5h.7M452.3 128h.7M461.8 129.7h.7M481.1 126.9h.7M482.6 140.9h.7M464.1 137.7h.7M435.3 137.4h.7M467.7 135.2h.7M437.5 140.2h.7M476.8 132.3h.7M452.5 134.7h.7M432.1 139.4h.7M472.6 122.2h.7M478.5 133.9h.7M448.4 140.9h.7M482.9 141.6h.7M431.2 139.5h.7M466 140.3h.7M467.2 140.5h.7M432.1 139.9h.7M456.2 140.5h.7M461 134.9h.7M440.4 140.3h.7M446.6 142.4h.7M480.7 135.4h.7M458.5 137.1h.7M467.3 123.4h.7M432.3 141.1h.7M476.2 114.6h.7M469.3 131h.7M462 136h.7M449.9 142.2h.7M451.1 135.4h.7M447.3 137.9h.7M438.7 140.7h.7M450.5 131.2h.7M473.2 125.9h.7M469.3 129h.7M434.1 139.5h.7M464.7 120.6h.7M477.8 131.1h.7M442 141.6h.7M458 132.4h.7M435.1 137.9h.7M465.7 123.5h.7M472.8 140.6h.7M446 137.9h.7M461.2 133.4h.7M477 128.9h.7M477.2 128.3h.7M481.5 127.4h.7M457.5 129.5h.7M467.7 133.9h.7M429.5 140.8h.7M480.5 124h.7M440.9 134.9h.7M480.3 142.5h.7M480.8 139.4h.7M450.3 134.5h.7M454.2 127.7h.7M461.1 125.2h.7M440.2 138.7h.7M452.5 133.2h.7M450.1 129.3h.7M432.4 141.1h.7M465.9 141.7h.7M452.9 127.3h.7M443.7 138.2h.7M452.8 128h.7M468.8 142.2h.7M467.1 126.5h.7M461.7 123.4h.7M457.5 141.2h.7M441.7 138.3h.7M437.3 142h.7M474.8 114.5h.7M475.6 124.7h.7M472 137.4h.7M475.4 135.6h.7M443.3 139.8h.7M471.2 132.1h.7M483.3 141.7h.7M479 140.5h.7M428.7 141.1h.7M483.2 132h.7M462.1 136.3h.7M462.5 132.4h.7M480.4 136.9h.7M465.3 124.1h.7M468 129.9h.7M464.1 121.4h.7M451.7 133.4h.7M459.8 125.7h.7M449.2 137.5h.7M469.3 117.5h.7M441.7 142.5h.7M481.8 141.8h.7M439 136.6h.7M483 134.8h.7M471.4 133.3h.7M466.8 138.1h.7M478.3 141.8h.7M468 131.1h.7M474.8 115.9h.7M462.7 138.6h.7M443.7 136.9h.7M471.7 125.1h.7M455.7 128h.7M439.5 139.3h.7M479.8 142h.7M450.9 141.2h.7M439.5 134.8h.7M477 140.8h.7M476.3 142.5h.7M477.9 115.5h.7M437.4 141.6h.7M472.2 128.7h.7M477.8 139.3h.7M440.4 135.5h.7M437.5 138h.7M468.4 142.2h.7M476.5 134.3h.7M455.3 141.9h.7M472.4 123.4h.7M456 129.8h.7M481.3 136.4h.7M458.6 135.8h.7M477.3 141.2h.7M465 139.6h.7M453.6 141.1h.7M443.9 141.7h.7M467 118.8h.7M452 129.5h.7M450.4 131.5h.7M463.6 121h.7M467.3 133.7h.7M451.9 141.4h.7M473.9 142.5h.7M460.1 133h.7M469.9 132.2h.7M465.5 140.4h.7M463.9 121.7h.7M452.7 142h.7M483.8 142.5h.7M457.3 136.2h.7M440.5 135.5h.7M444.3 138.3h.7M475.3 119h.7M467.6 119.2h.7M444.8 131.8h.7M442.6 135.2h.7M455.5 126.2h.7M462.6 122.6h.7M451.2 130.3h.7M475.5 141.4h.7M482.7 139h.7M477.7 122.2h.7M441.6 133.5h.7M440.5 134.8h.7M446.1 136.1h.7M441.5 133.7h.7M454.3 138.1h.7M481.3 126.8h.7M439.5 140.5h.7M465.3 126.6h.7M446.7 136.5h.7M456.4 142.6h.7M442 135.7h.7M465.5 135.4h.7M465.7 137.1h.7M452.4 134.1h.7M465.9 137.9h.7M433.7 138.8h.7M443.4 132.6h.7M481.4 129.6h.7M476.9 136h.7M441.1 136.5h.7M429.9 141.3h.7M469.2 130.2h.7M472.7 140.9h.7M435.5 142.2h.7M479.7 139h.7M478.8 131.8h.7M477.5 142.6h.7M465.1 141h.7M480.1 142.5h.7M467.7 140.1h.7M463 139.4h.7M440 141.9h.7" stroke="#000" stroke-width=".7" fill="none"/>
<path d="M455.1 138.5h.6M469.4 130.3h.6M465.1 123.6h.6M476.7 115.2h.6M476.1 142.1h.6M446.9 138.4h.6M458.6 127.9h.6M480.8 136.2h.6M474.5 117.8h.6M439.7 134.8h.6M478.4 134.7h.6M480.9 122.8h.6M477.5 120.6h.6M448.6 136h.6M441.9 142.1h.6M476 123.4h.6M440 139.4h.6M482.6 127.9h.6M455.7 132.9h.6M461.7 123.3h.6M474.2 117.2h.6M452.2 127.4h.6M455 139.3h.6M475.3 139.6h.6M443.8 142.1h.6M467.4 135.1h.6M451.8 129.1h.6M481 137.7h.6M471.7 131.8h.6M484.1 142.1h.6M445.6 140.9h.6M432.5 140.4h.6M452.9 135.2h.6M457.4 141.7h.6M449.9 137h.6M437.6 137.5h.6M460 139.4h.6M480.6 139.6h.6M467.2 131.1h.6M478.7 140.3h.6M473.3 123.5h.6M468.5 139.6h.6M478.8 128.1h.6M467.3 138.4h.6M480.1 123.1h.6M458.9 124.6h.6M467 128.1h.6M433.4 140h.6M480.8 122.1h.6M476.6 134.9h.6M469.5 120.2h.6M456.3 130.1h.6M481.1 140.5h.6M473.4 134.7h.6M457.1 137.6h.6M474.6 137.9h.6M476.4 125.7h.6M439.3 140.4h.6M467.6 140.3h.6M437.3 139.8h.6M466.2 122.3h.6M436 141.7h.6M443.7 139.8h.6M445.4 141.2h.6M457.8 131.9h.6M459.9 125.1h.6M481.2 136.6h.6M474.8 131.8h.6M479.2 123.5h.6M467.5 128.3h.6M449 132.2h.6M468.3 133.2h.6M456.9 135.5h.6M468.7 126.1h.6M475.5 115.3h.6M459.5 136.2h.6M439.7 136.4h.6M449.5 134.5h.6M473.5 135.8h.6M461.4 135h.6M437.2 138.3h.6M474.9 137.9h.6M440.8 135.5h.6M480.3 135.1h.6M470.7 141.4h.6M454.4 138.3h.6M477.5 141.6h.6M464.8 124.1h.6M461.8 134.7h.6M467.8 121.6h.6M463.8 127.5h.6M473.9 121.7h.6M459.5 136.6h.6M459.9 124.7h.6M479.3 133.2h.6M454.9 132.1h.6M450.6 134.2h.6M478.8 141.7h.6M462.3 135.1h.6M456.6 132.5h.6M461.1 142.1h.6M450.7 130.3h.6M453 130.8h.6M479.3 131.4h.6M446.6 139.8h.6M468.6 135.1h.6M467.2 121.8h.6M468.4 118.1h.6M441 141.6h.6M463.3 127.9h.6M455.2 132.1h.6M477.7 135.7h.6M458.7 140h.6M477.9 141h.6M475.4 125.3h.6M460.9 132.1h.6M447.5 142.6h.6M458.9 128.9h.6M465.5 131.6h.6M477.1 142.4h.6M483.2 136.3h.6M438 140.8h.6M475.5 122.9h.6M442.1 134.6h.6M474.7 124h.6M440.8 134.7h.6M445.8 132h.6M459.5 141.2h.6M481.4 127.1h.6M472 130.9h.6M469.8 119.8h.6M478.5 141.3h.6M467.4 136.5h.6M480.4 121.9h.6M439.3 138.4h.6M459.6 135.6h.6M446.6 132.4h.6M480.1 120.7h.6M451.5 130.4h.6M482.6 132.3h.6M464.2 128.8h.6M465.4 129.1h.6M470.6 131.8h.6M470.8 119.8h.6M471.9 121.3h.6M450.3 128.8h.6M477.4 129.3h.6M474.1 121.3h.6M483.7 136.5h.6M473.9 117.8h.6M476.4 132.8h.6M479.5 132.1h.6M477.5 123.3h.6M476.3 141h.6M431.4 140.6h.6M458.5 137.2h.6M456 137.3h.6M474.2 125.8h.6M429.9 142.5h.6M453.5 138h.6M468.6 126.2h.6M439.5 140.6h.6M466.9 120.5h.6M459.6 137.2h.6M462.3 135.3h.6M445.5 142.5h.6M466.6 125.1h.6M452.3 140.1h.6M478.7 130.1h.6M476.3 130.4h.6M456.7 126.4h.6M428.3 142h.6M475 125.3h.6M478.1 116.3h.6M457.8 138.2h.6M476.1 117.8h.6M481.7 140.4h.6M463.4 128.1h.6M453.8 140.4h.6M472 131.5h.6M478.8 134.2h.6M447.9 141.8h.6M478.9 119h.6M461.2 124.9h.6M483.2 137.7h.6M456.8 125h.6M474.1 118.7h.6M472.3 130.5h.6M476.6 113.6h.6M450.5 138.1h.6M465.7 129.2h.6M462.6 130.1h.6M484.2 141.1h.6M454.9 139.3h.6M453.6 134.5h.6M450.3 139h.6M438.6 135.8h.6M466.1 137.5h.6M467.4 121.7h.6M463 124.3h.6M476.9 126.6h.6M436.5 140.3h.6M456.8 125h.6M475.6 127.7h.6M481.9 137.3h.6M443.2 135.5h.6M478.4 126h.6M482.6 128.4h.6M439.4 140.6h.6M467.4 131.4h.6M447.6 140.6h.6M470.4 137.4h.6M472.4 141.1h.6M482.3 130.9h.6M451.8 137.9h.6M472.4 117.3h.6M447.5 139.3h.6M433.2 140h.6M455.3 138.5h.6M477.5 133.1h.6M482.2 140.5h.6M476.7 116.6h.6M432.8 139.5h.6M467.6 137.3h.6M456.6 126.5h.6M481.9 125h.6M442.7 142.4h.6M432.2 141.4h.6M439.3 135.6h.6M463.9 124.5h.6M461.9 126.4h.6M479.5 124.5h.6M472.8 125.4h.6M443.4 141.9h.6M451 138.3h.6M463.9 122.5h.6M464.5 127h.6M439.1 141.4h.6M452.2 141.4h.6M459.6 131.8h.6M455.5 132.6h.6M446.5 132.6h.6M442.8 133.6h.6M440.5 135h.6M454.8 140.2h.6M458.6 138.2h.6M453.1 127.3h.6M476.2 135.5h.6M469.1 122.5h.6M476.2 139.2h.6M457.8 132.1h.6M460.3 132h.6M452.5 134h.6M474.5 140.3h.6M466.2 139h.6M454.9 138.5h.6M464.1 124.2h.6M437.1 139.9h.6M464.8 124.5h.6M475.4 115.6h.6M468 139.8h.6M461.1 131.9h.6M453 129.6h.6M466.2 134.6h.6M472.1 141.8h.6M454.3 137h.6M437.2 137.3h.6M481.7 136.9h.6M484.1 140.2h.6M450 137.7h.6M461.9 139.9h.6M454.9 137.6h.6M458.1 132.2h.6M476.8 131.7h.6M455.3 130.1h.6M438.6 137.2h.6M475.1 135.2h.6M444.3 134.1h.6M453.9 131.7h.6M467.3 121h.6M480.1 126h.6M443.1 134.1h.6M464.8 134.2h.6M460.3 132.7h.6M472.9 121.6h.6M457.5 130h.6M474.2 135.5h.6M456.9 142.4h.6M472.8 137.6h.6M465.8 141.5h.6M465.3 122.4h.6M476.2 137.7h.6M438.8 136h.6M482.4 134.1h.6M436.2 139.4h.6M449.8 139.1h.6M458.6 125.6h.6M482.7 139.5h.6M479.2 122.6h.6M475 131.8h.6M480.7 142.4h.6M455.7 125.7h.6M462.5 137.3h.6M481.5 123.7h.6M481.6 139.7h.6M464.6 139.6h.6M448.3 135.9h.6M448.9 137.3h.6M450.2 129.7h.6M473.3 126.5h.6M465 130.9h.6M459.8 137.9h.6M464.9 125.5h.6M461.8 129.3h.6M453.8 130.6h.6M470.4 137h.6M459.6 135.8h.6M458 140.7h.6M446.8 138.9h.6M475.8 127.6h.6M479.5 123.8h.6M465.3 139.8h.6M458.1 134.1h.6M468.4 129.4h.6M450 133.5h.6M431.3 140.6h.6M474.2 117.7h.6M477.3 139.7h.6M448.5 142.4h.6M465.7 130.6h.6M449 140.4h.6M473.1 135.9h.6M439.2 136.3h.6M460.5 137.5h.6M449 141.7h.6M474 134.7h.6M479.5 125.7h.6M468.3 125.9h.6M476.1 130.1h.6M468.2 136.3h.6M444 138.1h.6M459.7 140.1h.6M462.4 122.6h.6M468.2 120.6h.6M451.6 139.8h.6M476.4 134.4h.6M450.2 133.5h.6M454.5 132.3h.6M455 134.4h.6M449.5 139h.6" stroke="#fff" stroke-width=".6" fill="none"/>
<path class="wl2" d="M426.1 142.6H485A58.9 58.9 0 0 0 477.1 113.2Z"/>
<text class="k2" x="420.1" y="147.8">0001</text>
<text class="k2" x="473.4" y="147.8">2110</text>
<path d="M476.8 144.4h2.6M480.3 144.4h2.6" stroke="#000" stroke-width=".5" fill="none"/>
<text class="k2" x="476" y="108.2">1010</text>
<path d="M482.9 104.9h2.6" stroke="#000" stroke-width=".5" fill="none"/>
</g>
<g id="ipf-6">
<path d="M563.9 75.2H578.7A59.3 59.3 0 0 0 570.8 45.6L557.9 53A44.5 44.5 0 0 1 563.9 75.2Z" fill="rgb(10,10,10)"/>
<path d="M568.9 60h.6M566 52.8h.6M563.7 56h.6M574.3 54.9h.6M570.2 66.5h.6M568.2 54.9h.6M567.7 65.9h.6M566.6 64.4h.6M563.7 50.4h.6M573.1 72.3h.6M567.2 57.5h.6M571.1 64.9h.6M571.4 67.2h.6M571.5 61h.6M566.5 74.8h.6M575.9 59.8h.6M571.3 63.4h.6M577.3 65.2h.6M567.2 51.5h.6M574.7 73.8h.6M573.7 66.2h.6M575.6 66.7h.6M569.3 49.4h.6M568.5 58.9h.6M569.7 65.8h.6M578.2 72.2h.6M572.6 65.1h.6M573.9 65.5h.6M568.9 73.5h.6M576.7 72h.6M566.6 63.8h.6M570 68.4h.6M573.3 58.2h.6M575.7 64.5h.6M565.8 55.4h.6M576 65.8h.6M563.7 66.6h.6M568.6 66.9h.6M561.1 51.3h.6M571.3 59h.6M564.9 50.7h.6M574.3 54.1h.6M573.9 60.1h.6M571.7 70.4h.6M573.9 74.6h.6M576.6 72.4h.6M571.2 60.1h.6M563.9 54.5h.6M573.3 73.8h.6M575.3 71.2h.6M573.6 63.3h.6M570.2 71.3h.6M573.5 57.9h.6M576.4 61.9h.6M577.5 69.2h.6M565.7 49.6h.6M567.3 52.2h.6M565.6 62.5h.6M568.5 68.5h.6M575.1 63.9h.6M567.4 65.6h.6M576.5 70h.6M571.5 70.2h.6M574.5 72.1h.6M574.2 63.7h.6M576.2 63.9h.6M576.7 70.3h.6M576 66.9h.6M571.7 50.1h.6M573.6 52.5h.6M562.3 51.5h.6M569.7 69.6h.6M577.6 73.5h.6M576 71.7h.6M574.3 59.6h.6M574.8 69.5h.6M572 51.5h.6M571.3 73.1h.6M575.3 59.6h.6M567 55.7h.6M567.2 61.4h.6M564.1 55.5h.6M564.7 57.6h.6M573 61.8h.6M565.5 54.1h.6M572.3 72.7h.6M563.5 62h.6M566 58.2h.6M573.6 68h.6M574.7 62.8h.6M568.7 71.7h.6M569.6 72.2h.6M574.6 59.9h.6M563.3 63.8h.6M575.1 62.8h.6M570.7 57.6h.6M566.9 65.1h.6M576.2 72.9h.6M576.1 68.3h.6M564.9 65.3h.6M570.1 68.6h.6M567.6 48h.6M577.5 69.6h.6M570.8 72.3h.6M571.8 51.5h.6M576.6 62.4h.6M569.4 67.8h.6M566.4 56.1h.6M574.4 58.6h.6M564.6 55.8h.6M567.7 70.1h.6M565.1 60.3h.6M575.6 66.9h.6M577.6 72.7h.6M575.7 68.9h.6M564.3 50.5h.6M574.1 62h.6M558.3 53.7h.6M573.4 74.8h.6M572.5 56h.6M565.8 69h.6M565.3 63.1h.6M575.9 63.1h.6M570.9 58.5h.6M565.2 63.8h.6M566.4 70.6h.6M571.9 68.6h.6M566.6 48h.6M566.5 53.5h.6M568.6 55.9h.6M573.6 58h.6M574.2 72.3h.6M558.7 53.5h.6M573.9 56.7h.6M564.1 50.4h.6M573.4 51.5h.6M570.9 60.5h.6M575.7 73.9h.6M570.8 72h.6M567.8 63.1h.6M567.2 54.4h.6M565.6 59.3h.6M564.9 53.8h.6M572.6 60.2h.6M567.7 55h.6M576.3 60.4h.6M571.3 68.2h.6M567.5 49.3h.6M569.9 53.8h.6M566.3 55.3h.6M564.3 58.3h.6M572.3 51.7h.6M574.1 54.5h.6M571.6 60.4h.6M566.1 72.6h.6M573.8 68.4h.6M576.9 63.8h.6M570.4 50.9h.6M564.5 53.5h.6M559.6 52.9h.6M576.9 62.2h.6M562.7 56.6h.6M573.8 60.9h.6M568.6 60.2h.6M572.3 52.4h.6M567.3 54.7h.6M573.7 58.4h.6M577 75h.6M575.8 60.5h.6M566.6 59.1h.6M572.4 50.7h.6M569.4 72.3h.6M571.2 49.5h.6M576.3 74.7h.6M569.6 46.5h.6M569.7 60.5h.6M569.7 46.5h.6M569.2 46.7h.6M573.1 59.6h.6M570.3 58.3h.6M571.8 54.4h.6M573.1 64.9h.6M573.8 53.1h.6M574.6 67.6h.6M577 73h.6M573.9 71.2h.6M571.1 57h.6M575.2 64.7h.6M564.1 60.3h.6M573.2 56.8h.6M570.5 68.2h.6M576.9 64.9h.6M565.3 51.8h.6M559.9 56.4h.6M570.2 57.1h.6M572.9 60h.6M560.9 56.1h.6M576.3 74.9h.6M571.4 53.2h.6M572.1 50.9h.6M577.5 69.3h.6M575.6 61.6h.6M558.2 53.4h.6M561.5 59.2h.6M570.8 47.5h.6M574.2 60.3h.6M573.3 70.5h.6M573.4 62.1h.6M567.6 73.8h.6M574.6 68.3h.6M575.5 72.8h.6M567.7 53.6h.6M569.6 48.7h.6M577.4 74.9h.6M567.8 52.2h.6M567.7 52.8h.6M574.2 71.9h.6M563.5 52.4h.6M569.9 53.1h.6M568 48.7h.6M576.8 71.3h.6M572.8 57.8h.6M572.9 61.9h.6M571.2 49.6h.6M577.7 75.1h.6M566.2 71.7h.6M561.5 53.8h.6M570.1 51h.6M564.5 57.8h.6M560.2 57.9h.6M575.9 67.1h.6M578 68.3h.6M572 49.6h.6M574.6 56.5h.6M573.3 61.6h.6M572.3 63.5h.6M566.6 51.2h.6M565.7 62.9h.6M570.4 57.6h.6M560.8 55.1h.6M574.2 73.3h.6M574.6 55.5h.6M572.5 70h.6M573 50.9h.6M573.3 72.4h.6M573.8 68.7h.6M568.9 50.3h.6M569.3 51.5h.6M574.3 71.1h.6M576.6 61.9h.6M570.7 53.5h.6M567.6 56.8h.6M573.2 51.3h.6M576.8 68.7h.6M571.8 51.1h.6M577.4 67.7h.6M569.8 59.2h.6M570.4 50.7h.6M569 59.2h.6M573.1 53.2h.6M575.9 58.2h.6M572.5 49.6h.6M565.3 49.5h.6M572.3 55.6h.6M571.9 62.5h.6M577.7 73.8h.6M577 69.2h.6M570.5 48.2h.6M575.3 63.4h.6M572.9 51.5h.6M572.9 50.9h.6M563.6 65.3h.6M564.5 56.2h.6M577.4 72.5h.6M571.8 56.2h.6M573.1 65.3h.6M564 60.6h.6M563.2 56.4h.6M574.9 56.2h.6M571.7 70.9h.6M574.9 56.6h.6M566.9 49.4h.6M571.5 51.5h.6M574.4 71h.6M573.6 64.6h.6M570.7 69h.6M573 62.3h.6M572.3 62.5h.6M577.6 69.4h.6M573.2 70.3h.6M566 73.4h.6M569.6 74.8h.6M562.1 52.5h.6M572.2 49.2h.6M570 45.9h.6M567.3 71.2h.6M567.6 53.3h.6M571.1 70.9h.6M570.6 65.6h.6M574.7 71.4h.6" stroke="#fff" stroke-width=".6" fill="none"/>
<path class="wl2" d="M519.4 75.2H578.7A59.3 59.3 0 0 0 570.8 45.6Z"/>
<text class="k2" x="513.4" y="80.4">0001</text>
<text class="k2" x="567.1" y="80.4">2110</text>
<path d="M570.5 77h2.6M574 77h2.6" stroke="#000" stroke-width=".5" fill="none"/>
<text class="k2" x="569.7" y="40.7">1010</text>
<path d="M576.6 37.3h2.6" stroke="#000" stroke-width=".5" fill="none"/>
</g>
<g id="ipf-7">
<path d="M47.6 302.1H106.9A59.3 59.3 0 0 0 99 272.5Z" fill="rgb(108,108,108)"/>
<path d="M93 300.5h1M89 281.5h1M80 290.5h1M89 297.5h1M94 290.5h1M94 295.5h1M101 297.5h1M97 281.5h1M68 292.5h1M103 285.5h1M86 286.5h1M104 292.5h1M62 301.5h1M75 296.5h1M66 301.5h1M98 292.5h1M104 298.5h1M71 293.5h1M90 281.5h1M101 285.5h1M53 301.5h1M89 280.5h1M102 293.5h1M90 291.5h1M79 287.5h1M91 296.5h1M81 299.5h1M92 281.5h1M91 294.5h1M96 291.5h1M87 299.5h1M89 291.5h1M100 276.5h1M105 297.5h1M101 298.5h1M97 282.5h1M102 300.5h1M101 295.5h1M62 300.5h1M101 299.5h1M56 300.5h1M94 280.5h1M66 298.5h1M101 281.5h1M82 297.5h1M76 287.5h1M95 285.5h1M73 299.5h1M81 297.5h1M94 293.5h1M60 300.5h1M103 284.5h1M88 298.5h1M87 290.5h1M93 279.5h1M96 293.5h1M96 287.5h1M86 296.5h1M104 301.5h1M85 284.5h1M65 298.5h1M80 291.5h1M96 298.5h1M68 293.5h1M90 288.5h1M82 298.5h1M94 297.5h1M79 301.5h1M97 274.5h1M98 297.5h1M92 298.5h1M72 298.5h1M87 294.5h1M70 292.5h1M90 279.5h1M97 288.5h1M75 297.5h1M65 300.5h1M101 282.5h1M82 286.5h1M76 292.5h1M97 284.5h1M69 300.5h1M80 287.5h1M95 280.5h1M93 287.5h1M78 286.5h1M63 294.5h1M100 297.5h1M88 280.5h1M97 298.5h1M94 298.5h1M84 301.5h1M100 284.5h1M83 297.5h1M101 292.5h1M78 291.5h1M92 277.5h1M94 300.5h1M87 296.5h1M90 293.5h1M88 286.5h1M83 295.5h1M91 299.5h1M96 300.5h1M73 301.5h1M93 285.5h1M105 293.5h1M93 286.5h1M93 278.5h1M72 288.5h1M74 288.5h1M76 295.5h1M86 281.5h1M68 295.5h1M80 301.5h1M87 284.5h1M94 279.5h1M73 297.5h1M95 298.5h1M102 285.5h1M79 295.5h1M55 300.5h1M91 290.5h1M102 282.5h1M87 298.5h1M95 281.5h1M98 284.5h1M102 301.5h1M100 291.5h1M93 282.5h1M104 287.5h1M66 294.5h1M71 297.5h1M84 283.5h1M74 290.5h1M99 291.5h1M84 285.5h1M102 289.5h1M81 283.5h1M69 292.5h1M101 293.5h1M77 296.5h1M78 285.5h1M70 296.5h1M88 287.5h1M97 294.5h1M77 300.5h1M83 300.5h1M85 291.5h1M75 289.5h1M81 298.5h1M92 285.5h1M72 292.5h1M56 297.5h1M88 283.5h1" stroke="#000" stroke-width="1" fill="none"/>
<path d="M80 288.5h1M88 295.5h1M98 278.5h1M85 286.5h1M85 296.5h1M86 294.5h1M77 295.5h1M77 285.5h1M76 297.5h1M84 297.5h1M81 298.5h1M74 290.5h1M91 296.5h1M63 296.5h1M89 300.5h1M78 289.5h1M70 297.5h1M92 299.5h1M92 283.5h1M99 286.5h1M81 297.5h1M86 288.5h1M60 300.5h1M82 284.5h1M72 301.5h1M96 293.5h1M71 290.5h1M79 284.5h1M90 283.5h1M66 293.5h1M95 285.5h1M77 298.5h1M56 297.5h1M99 296.5h1M93 296.5h1M64 298.5h1M64 295.5h1M86 289.5h1M101 293.5h1M74 288.5h1M81 299.5h1M102 287.5h1M103 300.5h1M95 279.5h1M95 295.5h1M101 292.5h1M96 276.5h1M95 290.5h1M93 286.5h1M91 283.5h1M65 296.5h1M89 297.5h1M100 282.5h1M78 301.5h1M94 287.5h1M91 285.5h1M66 297.5h1M98 277.5h1M98 301.5h1M93 297.5h1M87 280.5h1M90 282.5h1M85 284.5h1M85 289.5h1M78 293.5h1M105 293.5h1M88 300.5h1M62 295.5h1M74 295.5h1M84 294.5h1M82 288.5h1M89 299.5h1M80 297.5h1M76 288.5h1M90 298.5h1M71 297.5h1M91 294.5h1M97 276.5h1M84 287.5h1M97 278.5h1M83 282.5h1M77 289.5h1M88 293.5h1M100 294.5h1M69 296.5h1M75 291.5h1M80 287.5h1M102 290.5h1M86 301.5h1M68 299.5h1M89 278.5h1M65 292.5h1M68 298.5h1M88 292.5h1M71 293.5h1M57 299.5h1M87 287.5h1M100 296.5h1M92 278.5h1M85 285.5h1M74 296.5h1" stroke="#fff" stroke-width="1" fill="none"/>
<path d="M83.1 285.3h.6M67.8 295h.6M84.9 283.2h.6M70.6 289.2h.6M93.6 281.5h.6M94.7 297.9h.6M82.5 296.7h.6M92 293.4h.6M94.1 283.6h.6M90.8 279h.6M69.2 297h.6M93.3 287.8h.6M94.4 289h.6M94.3 281.8h.6M102.3 284.6h.6M57.5 297.4h.6M92.4 301.7h.6M87.9 300.3h.6M58.7 297.2h.6M94.7 279.8h.6M77.2 293.9h.6M71.2 292.7h.6M73.4 291.2h.6M82.9 295.8h.6M86.8 279.4h.6M59 299.6h.6M99.5 279.1h.6M77.4 299.6h.6M83.6 282.8h.6M104.6 287.1h.6M99.7 293.3h.6M105.5 300h.6M79.6 288.4h.6M66 295.6h.6M90.9 286.7h.6M86.2 280.7h.6M104.4 296.2h.6M94 283.5h.6M104.3 293.1h.6M101.1 283.8h.6M52 301.1h.6M94.9 289.6h.6M90.4 278.2h.6M80 294.4h.6M101 287.9h.6M97.1 278.3h.6M81.9 282.6h.6M88.6 292.9h.6M98.7 298.7h.6M68.6 294.9h.6M106 296h.6M85 299.7h.6M66.4 296.5h.6M74 295.3h.6M96.2 275.3h.6M75.6 300.5h.6M71.5 288.2h.6M97.7 296.9h.6M104.2 298h.6M93.4 281.7h.6M103.6 288.9h.6M77.8 291.7h.6M64.4 298.3h.6M99.9 287.9h.6M70 298.7h.6M76.8 291h.6M90.6 298.3h.6M87.7 294.2h.6M99.2 277.5h.6M63 297.5h.6M89.8 278h.6M72.8 290.2h.6M55.8 299.7h.6M83.8 294.3h.6M99.2 289h.6M86.8 295.8h.6M75.4 288.1h.6M100.4 292.7h.6M77.5 301.6h.6M75 296.9h.6M100 299.5h.6M99.4 290h.6M84.8 285.3h.6M105.2 301.3h.6M93.9 292.6h.6M97.8 299.8h.6M82.4 296.7h.6M91.1 278.9h.6M67.1 299.8h.6M87.9 279.8h.6M74 297.7h.6M91.5 291.3h.6M97.5 279.1h.6M76.3 293.8h.6M95.6 290.7h.6M61.3 299.1h.6M102.8 287.9h.6M80.6 290.1h.6M104.2 290.3h.6M106.2 301.5h.6M90.6 298.3h.6M77.1 292.8h.6M75.1 297.5h.6M72.9 290.5h.6M88.5 293.7h.6M83.2 301.6h.6M86.6 299.5h.6M97 292.1h.6M89.3 287.3h.6M85 296.1h.6M96.3 296.9h.6M89.1 301.2h.6M69.3 298.3h.6M90.6 292h.6M78.4 291h.6M96.2 297.1h.6M79.5 298.7h.6M89.3 282.1h.6M93.6 296.1h.6M73.8 299.5h.6M82.2 290.4h.6M56.3 301.9h.6M102.5 290h.6M68.9 299.7h.6M85.2 299.4h.6M88.3 287h.6M64.5 295.1h.6M61.8 299h.6M71.3 291.1h.6M78.7 287.8h.6M76.7 299h.6M96 283.3h.6M88.4 288.8h.6M97.3 283.2h.6M88.7 296.5h.6M58.8 300.4h.6M87.7 293h.6M100.8 284.7h.6M103.6 299.3h.6M87.9 280.7h.6M103 287.7h.6M76.3 290.6h.6M94.7 297.8h.6M96.4 286.1h.6M91 293.9h.6M66.5 294.5h.6M70.2 295.8h.6M89.4 300.3h.6M95.9 283.8h.6M77.2 296.3h.6M99.6 278.7h.6M103 302h.6M86.9 297.9h.6M85.2 293.4h.6M95.7 291.1h.6M92.6 280.3h.6M96.8 298.4h.6M97.9 277.2h.6M71.3 290.5h.6M101.1 298.1h.6M63.9 298.1h.6M91.4 301.6h.6M74.4 290.7h.6M96.4 301.4h.6M59 299.1h.6M105.4 290.3h.6M83.5 297.1h.6M99.4 297.4h.6M95.3 289h.6M80.4 285.8h.6M52.9 299.6h.6M99.4 275.2h.6M56.9 301.1h.6M92.1 296.9h.6M95.1 279.7h.6M68 290.3h.6M84.5 289.9h.6M100.7 290.7h.6M60 299.9h.6M72.4 296.5h.6M104.1 298.1h.6M70.6 301.3h.6M70.2 295.6h.6M57 300.1h.6M100.4 279.4h.6M93.7 279.9h.6M83.2 293.8h.6M82.1 293.5h.6M101.1 292.1h.6M70.7 293.9h.6M71.1 297.8h.6M68.7 296.4h.6M66.1 291.9h.6M85.9 282.2h.6M82.3 290.5h.6M101.1 293.4h.6M67.2 300.9h.6M96.8 283.6h.6M94.5 284.8h.6M75.1 301.6h.6M104.2 293.6h.6M72.7 300.3h.6M87.9 287.4h.6M88.9 282.6h.6M93.8 299.8h.6M79.9 301.2h.6M79.6 292.6h.6M56.7 297h.6M93.6 281.4h.6M64.7 301.1h.6M71.3 302.1h.6M97.8 281.9h.6M96.5 279.2h.6M104.3 296h.6M102.3 281.4h.6M87.2 283.8h.6M57.9 296.9h.6M64.9 293.7h.6M84.9 297.6h.6M90.9 285.3h.6M60.7 300.2h.6M78.6 290.9h.6M100.1 299h.6M85.5 284.9h.6M99.5 285.1h.6M81.8 298.5h.6M103.7 287.4h.6M103.5 286.8h.6M81.8 300.1h.6M93.4 299.7h.6M87.1 282.2h.6M100 297.2h.6M94.1 290.3h.6M101.2 292.2h.6M85.4 283.1h.6M99.8 281.4h.6M70.2 294.5h.6M100.1 299.1h.6M66.1 300h.6M64.1 297.8h.6M53.1 300.3h.6M104 284.8h.6M96.1 287.9h.6M65.7 298.9h.6M104.3 290.8h.6M88.2 285.8h.6M97.8 295.9h.6M73.4 288h.6M85 295.1h.6M69.6 293.5h.6M73.9 298.8h.6M85.1 297.1h.6M105.7 298.5h.6M97.8 286.6h.6M105.1 297.3h.6M57 298.4h.6M100.7 284.2h.6M91.8 286.3h.6M95.6 290.9h.6M98.1 284.4h.6M64.9 301.4h.6M94.1 298.7h.6M99.9 285.4h.6M77.1 285.5h.6M61.2 299h.6M85.7 283.9h.6M83.7 294.2h.6M68.4 302.1h.6M103.7 289h.6M90.6 291.2h.6M106.2 297.5h.6M90.5 282.3h.6M70.8 290.7h.6M104.1 300.7h.6M71.9 290.1h.6M96.2 280.4h.6M59.9 297.2h.6M69.8 292.5h.6M102.9 287.7h.6M82.6 296.7h.6M83.7 301.1h.6M88.1 285.2h.6M69.8 300.9h.6M69.8 289.4h.6M95.9 292.3h.6M79.5 293.6h.6M97.6 282.2h.6M100.7 290.4h.6M80.8 289.2h.6M66 298.1h.6M100.4 298.3h.6M100.1 295.5h.6M99.8 293.9h.6M89.1 294h.6M93.7 287.1h.6M61.9 300.5h.6M89 287.3h.6M90.5 282.3h.6M101.5 296.8h.6M80.9 296.2h.6M99.3 282.2h.6M97.1 301.3h.6M93.5 298.6h.6M94.8 287.6h.6M80.9 295.3h.6M99.3 290.2h.6M91.7 279.3h.6M89.9 296.8h.6M83.1 282.4h.6M72.7 288h.6M50.3 301.6h.6M83.2 283h.6M61.2 299.2h.6M77.9 287.9h.6M78 284.6h.6M76.3 293.5h.6M75.5 295.4h.6M69 297.4h.6M85.2 301.9h.6M93.7 293.1h.6M100.3 299.5h.6M84.2 296h.6M91.7 278.5h.6M82.3 291h.6M79.9 294.7h.6M96.9 289.5h.6M97.7 288.8h.6M58.1 300.2h.6M81.7 301.5h.6M94.1 282.5h.6M84.6 288.7h.6M84.3 283.6h.6M99.4 275.1h.6M89.9 295.7h.6M96.9 293.5h.6M89.4 299.4h.6M103.3 298.9h.6M85.5 284.7h.6M104 289.3h.6M97.8 282h.6M95.1 294.2h.6M81.5 285.8h.6M103.5 286.1h.6M81.1 292.3h.6M52.5 300.5h.6M105.2 290.4h.6M103.2 283.7h.6M91.6 277.9h.6M67.7 300.8h.6M81 301.2h.6M88.6 280.2h.6M79.8 298.6h.6M71.2 295.6h.6M69.7 291.4h.6M100.7 288h.6M63.9 300.6h.6M72.1 288.2h.6M77.5 290.8h.6M99.4 274.7h.6M100.6 292.8h.6M94.1 276.6h.6M98.6 300.1h.6M60.2 298h.6M100.7 294.9h.6M96.4 277.6h.6M73.8 295.7h.6M105.9 297.6h.6M58.9 301.1h.6M60.5 300.7h.6M95 280.5h.6M63.2 296.5h.6M71.6 296.3h.6M100.5 286.8h.6M83.7 301.2h.6M105.6 296h.6M61.6 295.5h.6M52.2 300.1h.6M91.7 281.1h.6M102.9 282h.6M86.4 294.8h.6M65.1 296h.6M98 294.6h.6M89.2 295.4h.6M55.7 302.1h.6M91.4 298.6h.6M67.6 300.7h.6M96.8 292.6h.6M73.9 300.6h.6M67.6 294.3h.6M100.2 279.1h.6M71.8 289.8h.6M91.4 281.6h.6M103.1 292.1h.6M89 299.9h.6M71 298.2h.6M54.8 298.3h.6M66.3 295.9h.6M96.8 281.5h.6M101.3 280.3h.6M92.6 294h.6M69.7 289.4h.6M89.9 301.6h.6M79.5 292.4h.6M78.2 299.7h.6M92.2 295.5h.6M93.4 291.9h.6M81 296.5h.6M87.6 290.5h.6M61.7 294.4h.6M63 294.1h.6M80.7 283.5h.6M89.5 286.8h.6M67.3 290.9h.6M60.2 298.2h.6M98.8 274.2h.6M66.7 291.4h.6M62 298.7h.6M90.9 282.1h.6M95.9 290h.6M64.6 300.7h.6M94.5 295.7h.6M87.2 285.5h.6M105.5 300.3h.6M91.4 292.5h.6M68.4 293h.6M91 294.7h.6M100.3 288.3h.6M99.4 300.1h.6M88.7 282.4h.6M101.7 286.6h.6M97.2 282.6h.6M90 282.9h.6M85.9 290.1h.6M91.5 295.3h.6M99.6 281.1h.6M56.1 297.4h.6M68.6 302h.6M86.6 290.7h.6M54.2 301.8h.6M89.9 280.2h.6M85 291h.6M97.6 295.5h.6M70.8 294.3h.6M91.8 292.1h.6M55.2 299.4h.6M79.4 293.4h.6M76.7 298.9h.6M52.3 301.4h.6M72.6 301.9h.6M70.2 299.7h.6M77.9 293.7h.6M93.4 286.2h.6M91.7 287.8h.6M82.2 285.1h.6M69.2 295.2h.6M96.8 286.9h.6M88.6 278.3h.6M88.8 292.4h.6M65.6 296.2h.6M78.3 289.3h.6M68.3 296h.6M72.5 297.7h.6M68.4 293.8h.6M89.1 284.3h.6M83.9 284.1h.6M95.4 288.2h.6M84.8 300.9h.6M75.2 291.4h.6M78.2 290.5h.6M105 300.2h.6M91.1 287.5h.6M68.1 295.5h.6M73.8 301.3h.6M92.3 293.1h.6M81.6 283.2h.6M102.2 288.1h.6M73.7 298.4h.6M105.2 292.7h.6M99.5 279h.6M83.7 296.3h.6M57.9 300.5h.6M88.4 293.1h.6M82.8 284.9h.6M103.7 301.4h.6M85 286.6h.6M77 298.8h.6M102.2 293.6h.6M57.4 301.7h.6M73.3 295.7h.6M53.2 300.5h.6M79.4 284.3h.6M77.9 285.7h.6M96.9 275.4h.6M91.7 279.8h.6M100.1 291.6h.6M95.1 277.1h.6M95.1 293.6h.6M74.8 299.6h.6M105.8 292.4h.6M72.8 292.6h.6M81.2 297.4h.6M103.1 289.7h.6M94 286.8h.6M101.6 289.1h.6M102.5 291.1h.6M76.9 295.7h.6M95.9 301.6h.6M98.5 290.2h.6M84.6 299.5h.6M73.6 292h.6M98.3 283.1h.6M83.8 293.3h.6M87.2 285.8h.6M59.5 300.2h.6M96 274.7h.6M83.8 285.6h.6M91.5 295.1h.6M89.8 285.8h.6M104 298.4h.6M99.9 277.5h.6M100.3 281.7h.6M87.4 296.5h.6M88 285.4h.6M89 294.9h.6M95.9 302h.6M98.1 296h.6M100.6 280.3h.6M100.8 298.1h.6M64 293.9h.6M105.1 296.7h.6M85.9 301.9h.6M66.7 291.1h.6M100.7 297.1h.6M69.1 297.2h.6M97.6 296.8h.6M97.4 294.9h.6M72.9 290.2h.6M72.4 297.9h.6M80.2 296.8h.6M91.5 294.7h.6M78.9 302h.6M87.4 286.2h.6M80.4 300h.6M102.5 292.8h.6M103.6 285.7h.6M103.2 284.5h.6M80.4 287.2h.6M96.2 290.1h.6M63.2 301h.6M96 285.5h.6M106.1 299.5h.6M98.6 289.2h.6M75.4 300.3h.6M78.2 285.2h.6M95 288.2h.6M95.3 280.2h.6M93.4 295.1h.6M88.3 286.8h.6M65.8 292.5h.6M92.7 301.3h.6M95.2 278.6h.6M98.1 280.3h.6M72.3 289h.6M98.9 293.3h.6M91.6 281.4h.6M79.2 298.7h.6M99.8 300.9h.6M86.2 288.3h.6M96.9 297h.6M99.5 284.4h.6M89.5 283.7h.6M90.6 285.1h.6M67.1 300.7h.6M66.9 299.3h.6M83 296.8h.6M90.2 297.6h.6M106.3 299.3h.6M85.4 282.4h.6M100.3 277h.6M94.8 287.7h.6M74.1 299.8h.6M66.9 299.4h.6M92.3 301h.6M88.7 278.3h.6M93.5 284.4h.6M84.9 298h.6M104 293.3h.6M67.9 293h.6M103.7 301.4h.6M75.9 297.4h.6M83.1 281.6h.6M98.7 294h.6M98.7 280.7h.6M84.4 296.9h.6M78 300.7h.6M91.9 280.4h.6M94 277.2h.6M99.7 278.5h.6M101.7 297.5h.6M96.3 277.2h.6" stroke="#000" stroke-width=".6" fill="none"/>
<path d="M68.7 297.4h.6M89.6 300.1h.6M104 293.7h.6M91.7 283h.6M82.7 295.7h.6M100.3 287.9h.6M54.7 300.5h.6M87.6 299.1h.6M79.5 299.6h.6M57.3 297.4h.6M64 298.8h.6M99 286.1h.6M87.6 299.2h.6M94.3 276.9h.6M104.9 291.1h.6M82.4 297.5h.6M102.6 280.9h.6M78.9 291.8h.6M86.4 297.2h.6M99.8 281.8h.6M96.8 294h.6M71.5 295.9h.6M86.3 291.7h.6M89.9 293.2h.6M87 291.1h.6M54 299.8h.6M75.4 294.9h.6M54.1 298.6h.6M86.5 291.8h.6M93.7 289.4h.6M63.3 296.9h.6M71.9 298.9h.6M87.2 285.2h.6M91.3 290h.6M95.7 294.1h.6M102.3 300.5h.6M100.3 286.1h.6M62.5 299.2h.6M77.7 290.1h.6M80.1 286.9h.6M54.8 299.4h.6M100.8 290.9h.6M96.3 291.9h.6M84.8 298.4h.6M77.5 293.1h.6M93.9 283.8h.6M61.6 299.4h.6M99.9 286.5h.6M102.4 289.4h.6M74.1 292.3h.6M84.7 280.6h.6M86 291.7h.6M96.6 282.3h.6M93.6 284.1h.6M89.2 286.2h.6M76.2 290.7h.6M72.8 290.1h.6M99.2 274.8h.6M89.4 285.6h.6M98.5 290h.6M71.4 297.3h.6M63.4 293.7h.6M100.9 291.7h.6M105.8 297.4h.6M84.2 299.6h.6M95.7 281.9h.6M102.6 294.9h.6M95.9 301h.6M102.2 296.1h.6M80.4 286.5h.6M72.5 294.5h.6M102.7 289.3h.6M86 292.9h.6M96.2 287.7h.6M94.8 281.8h.6M51.6 299.7h.6M79.1 296.7h.6M87 297.1h.6M94.6 294.6h.6M88.8 280.2h.6M97.1 278.2h.6M69.5 294h.6M83.1 301.1h.6M58.6 301h.6M82.8 292.9h.6M103.8 287.6h.6M82.5 291.2h.6M85.6 287.1h.6M70.4 296h.6M93.8 278.5h.6M89.5 279.6h.6M53.8 302.1h.6M85.5 283.8h.6M76.6 300.9h.6M71 289.9h.6M84.6 281.3h.6M87.7 296.1h.6M91.3 298.9h.6M104.3 286.5h.6M103.7 290.7h.6M104.4 300.3h.6M94.4 284.3h.6M79.4 287.4h.6M99.7 279.5h.6M84.3 281.9h.6M66.6 291.5h.6M85.2 296.1h.6M91.9 290h.6M87.8 298.6h.6M62 295.4h.6M84.7 289h.6M58.7 300.4h.6M85.5 293.5h.6M72.3 296.2h.6M99.2 289.1h.6M55.2 298.7h.6M97.7 296.9h.6M86.1 284.9h.6M92.5 291.9h.6M102 292.9h.6M94.9 289.3h.6M99 280.5h.6M104.9 295.9h.6M80.1 285.8h.6M97.6 300.5h.6M82 298.1h.6M71 298.7h.6M103.6 299.5h.6M73.9 294.7h.6M100.1 287.5h.6M93.8 296.7h.6M97 298.5h.6M96.1 300.6h.6M78.9 284h.6M105.4 300h.6M89.8 282.3h.6M57.7 300.3h.6M83.4 295.9h.6M78.6 300.1h.6M96.5 290.3h.6M99.2 300.8h.6M96.8 281h.6M70.8 295.4h.6M59.8 296.6h.6M70.2 292.4h.6M88.5 282.2h.6M63.4 298.4h.6M95 293.7h.6M102.2 289.3h.6M53.6 300.8h.6M93.2 284.1h.6M91.5 290.8h.6M102.8 290.4h.6M101.3 281.9h.6M75.7 289.6h.6M71.9 295.2h.6M105.9 301.4h.6M58.6 299.2h.6M97.1 274.9h.6M70.9 289.9h.6M81.1 285.1h.6M57.2 298.5h.6M78.5 287.5h.6M100.8 276.7h.6M72.5 295.5h.6M97.5 294.5h.6M64.3 297.4h.6M85.9 282.3h.6M68.5 296.3h.6M86.4 297.9h.6M97.9 273.6h.6M101 287.9h.6M57.6 297.2h.6M89.3 298.1h.6M105 296.6h.6M67.4 297.6h.6M71.2 296.5h.6M87.8 299.4h.6M95.7 290h.6M98.6 287.3h.6M64.7 301.1h.6M80.6 298.6h.6M88.2 292.9h.6M104.1 295.1h.6M82.8 299.4h.6M57.3 297h.6M61.6 297.2h.6M97.9 295.2h.6M102.8 298.1h.6M94.9 275.9h.6M99.1 274.6h.6M75.3 290.4h.6M100.3 298.4h.6M73.9 293.7h.6M68.1 293.9h.6M92.4 285.1h.6M97.8 282.5h.6M69.4 295.7h.6M92.6 296.8h.6M78.7 298.6h.6M84.9 281.6h.6M93.8 280.6h.6M85.8 288.8h.6M94.9 276.1h.6M93.9 296.8h.6M51.3 302h.6M99.1 282.1h.6M89.1 296.7h.6M93.9 280.7h.6M80.3 300.6h.6M95.9 278.4h.6M82 283.9h.6M94.2 290.4h.6M101.8 292.1h.6M61.5 299.7h.6M87.6 289.4h.6M91.3 278.7h.6M73.5 288.5h.6M76.3 288.8h.6M99.2 276.7h.6M78.2 286.5h.6M54.9 299.4h.6M63.5 301.3h.6M89.4 299.2h.6M93.8 276.8h.6M62.7 293.5h.6M75.2 299.1h.6M73.3 293.6h.6M70.8 293h.6M75.7 289.3h.6M91.9 293.6h.6M98.3 296.2h.6M86.1 283.6h.6M61.1 295.4h.6M94.1 278.2h.6M84.6 295.1h.6M84.4 301.6h.6M103.8 290.9h.6M83.7 284.8h.6M90.2 295.6h.6M103.6 294.5h.6M92.6 286.1h.6M74 287.9h.6M60.6 301.2h.6M87.1 281.3h.6M105.1 299.1h.6M94.2 284.6h.6M75.8 292.5h.6M97.6 288.3h.6M61.6 299.3h.6M75.4 298.6h.6M81.9 291.9h.6M86.7 280.4h.6M94.9 286.8h.6M85.1 294.8h.6M73.5 294h.6M103.5 284.1h.6M90.5 289h.6M68.3 301.2h.6M99 288h.6M79 296.1h.6M93.2 287.4h.6M101.6 279.1h.6M70 290.5h.6M88.9 283.8h.6M60.4 300.2h.6M92.9 285.3h.6M81.4 294.4h.6M57.3 300.5h.6M72.5 292.3h.6M91.3 298.7h.6M74.5 297.6h.6M82.2 285.5h.6M88.5 293.3h.6M99.2 274.3h.6M87.2 291.5h.6M97.8 281h.6M66.3 298.4h.6M73.1 298.5h.6M92.5 287.5h.6M79.2 298.5h.6M87.9 290.8h.6M86.8 279.8h.6M80.6 298.7h.6M97.1 296.1h.6M98 278.2h.6M97 296.1h.6M57.2 299.8h.6M81.2 301.4h.6M98.5 299.7h.6M78.2 292.3h.6M55.9 301.2h.6M97.9 279.4h.6M87.5 285h.6M76 293.9h.6M99.2 282.9h.6M81.2 290.5h.6M85.9 301.7h.6M69.8 295.6h.6M90.1 297.3h.6M80.1 287.3h.6M87.1 292.8h.6M97.1 295.5h.6M77.8 297.5h.6M102.7 281.9h.6M96.6 285.5h.6M86.3 298.9h.6M92.1 288.3h.6M90 301h.6M79.8 297.6h.6M91 291.4h.6M73.1 298.4h.6M95.3 297.1h.6M60 297.3h.6M92.8 299.2h.6M92.5 294.1h.6M93 299.8h.6M74.5 298.5h.6M80.7 286h.6M99.3 290.6h.6M66.8 295.1h.6M80.2 289.1h.6M97.9 280.1h.6M91.5 291.8h.6M102.3 285.1h.6M66.5 298.5h.6M91.5 279.4h.6M99.6 297.7h.6M60.3 299.9h.6M75.1 294h.6M73.9 289.5h.6M71.9 301.7h.6M80.7 299.1h.6M101.9 279.7h.6M97.2 285.6h.6M94.4 292.1h.6M90.3 280.9h.6M92.7 291.7h.6M101.8 286.7h.6M80.5 298.4h.6M71.2 292.6h.6M99.8 279.3h.6M98 281.2h.6M51.2 301.5h.6M100.1 289.6h.6M56 298.4h.6M69.4 296.4h.6M95.4 301.7h.6M70.9 296.9h.6M83.6 292.1h.6M68 292.3h.6M103.8 295.8h.6M94 293.2h.6M99.7 292.6h.6M70 294h.6M69.7 293.8h.6M88.3 288.7h.6M100.9 277.8h.6M64.7 297.6h.6M67.4 299.6h.6M76.5 288.8h.6M88.7 296.8h.6M54 301.2h.6M63.4 294.8h.6M92.6 284.7h.6M100.8 277.3h.6M72.7 295.7h.6M100.4 281.3h.6M95.3 297.5h.6M96.4 275h.6M87.4 290.6h.6M93.6 297.7h.6M81.2 297.3h.6M104.8 293.4h.6M79.8 299.8h.6M70.7 291.1h.6M81.4 295.3h.6M76.4 286.8h.6M94.5 278.7h.6M100 292.4h.6M92.5 295.4h.6M94.4 300.9h.6M60.8 299.1h.6M105.3 301.6h.6M76.9 295.5h.6M73.1 293.1h.6M63.1 293.1h.6M70.3 293.6h.6M55.9 300.6h.6M97.4 294.4h.6M95.5 299.4h.6M105.7 295.3h.6M103.5 297.8h.6M93 301.6h.6M92.7 298.7h.6M80.8 287h.6M87.2 293.9h.6M92.6 301.6h.6M79.7 295.4h.6M65.3 300.9h.6M93.1 286.6h.6M84.2 283.5h.6M95.8 274.6h.6M103 295.5h.6M91.5 294.4h.6M85.3 297.4h.6M68.2 291.8h.6M92 285.1h.6M105.8 295.1h.6M91 279.6h.6M81.6 296.7h.6M75.8 296.5h.6M73.4 289.5h.6M73.5 301.9h.6M71.1 296.8h.6M90.8 282h.6M87.2 288.9h.6M101.2 295.4h.6M94.8 290.1h.6M83.6 292h.6M88 292.7h.6M93.3 298.6h.6M95.6 296.6h.6M88.9 285.2h.6M96.2 301.4h.6M94 298.1h.6M87 284.8h.6M75.2 291.3h.6M82.1 290.2h.6M105 294.2h.6" stroke="#fff" stroke-width=".6" fill="none"/>
<path class="wl2" d="M47.6 302.1H106.9A59.3 59.3 0 0 0 99 272.5Z"/>
<text class="k2" x="41.6" y="307.2">0001</text>
<text class="k2" x="95.3" y="307.2">2110</text>
<path d="M98.7 303.9h2.6M102.2 303.9h2.6" stroke="#000" stroke-width=".5" fill="none"/>
<text class="k2" x="97.9" y="267.6">1010</text>
<path d="M104.8 264.2h2.6" stroke="#000" stroke-width=".5" fill="none"/>
</g>
<g id="ipf-8">
<path d="M106.3 352.8H165.1A58.8 58.8 0 0 0 157.2 323.4Z" fill="rgb(250,250,250)"/>
<path d="M149.9 350.8h.6M139.8 351.1h.6M130.8 350.3h.6M146 332.8h.6M112.3 351h.6M119.5 345.9h.6M117.3 349.5h.6M114 350.8h.6M160.2 335h.6M129.7 339.2h.6M144.9 330.5h.6M115.5 347.4h.6M113.7 348.7h.6M119.4 350.2h.6M124.5 344.6h.6M129.1 352.5h.6M150.2 331.6h.6M113.4 349.4h.6M118 350.9h.6M154.6 324.8h.6M153.7 326h.6M149.3 334h.6M123.7 351.6h.6M117.5 349h.6M160.3 341.7h.6M131.3 349.6h.6M158.5 352h.6M115 351.7h.6M120.6 344.5h.6M127.1 347.9h.6M161.7 352.7h.6M128.8 343.7h.6M123 350.6h.6M122.7 351.8h.6M163.5 351.9h.6M118.1 346.2h.6M134.4 338h.6M153.4 325.8h.6M152.2 334.2h.6M150 345.9h.6M127.2 345.5h.6M137.7 352.4h.6M144.9 344.3h.6M113.7 352h.6M114.2 351.9h.6M143.4 349.4h.6M111.6 351.1h.6M111.5 350.1h.6M138.5 344.9h.6M153.5 326.1h.6M156.2 328.4h.6M127.3 342.9h.6M136.2 350.4h.6M119.4 349.5h.6M117.1 349.6h.6M161.4 339.8h.6M164.4 349.1h.6M127.3 343.2h.6M150.5 351.2h.6M145 330.9h.6M155.8 345.5h.6M153.7 326.2h.6M157 352.7h.6M109.2 351h.6M140.7 335.2h.6M159.7 352.5h.6M134.1 341.2h.6M153.6 350.7h.6M155.7 334.1h.6M120.5 347.2h.6M140.1 346.3h.6M160.4 337.3h.6M129 347h.6M125.9 352.8h.6M119.8 348.4h.6M150.6 345.1h.6M133.6 351.8h.6M137.2 336.2h.6M109.3 351.4h.6M133.9 341.5h.6M137.1 339.9h.6M110 351.5h.6M117 346.5h.6M153.1 352.1h.6M152.4 343.9h.6M131 344.3h.6M111.9 351.4h.6M119.2 345.4h.6M117.7 351.5h.6M127.6 345.6h.6M154.5 333.3h.6M128.9 352.3h.6M112.7 352h.6M152.1 351.4h.6M146 348h.6M141.5 334.5h.6M144.2 336.9h.6M133.3 345h.6M155.4 340.1h.6M124.2 347.4h.6M153.6 334h.6M142.9 348.2h.6M125.9 348.6h.6M131.8 352.7h.6M122.6 343.5h.6M152 329.5h.6M149.6 339.6h.6M153.9 339.4h.6M136.7 336.9h.6M154 325.6h.6M163.3 344.8h.6M159.9 329.3h.6M151.4 350.7h.6M117.6 352h.6M126.2 341.6h.6M149.8 334.3h.6M122 349.9h.6M113.8 350.4h.6M123.5 347.3h.6M134.2 350.3h.6M123 351.4h.6M124.2 347.9h.6M128.1 340.8h.6M135.8 343h.6M142.7 348.7h.6M125.3 348.5h.6M119.9 349.5h.6M143.1 352h.6M124.6 347.6h.6M152.6 351.9h.6M125.7 343.2h.6M158.4 351.5h.6M152.8 347.9h.6M115.9 348.3h.6M120.8 345.9h.6M121.4 350.9h.6M160.4 351.4h.6M157.5 345.1h.6M162.7 344.5h.6M145.2 350.3h.6M143.6 340.2h.6M138.5 334.5h.6M145.7 347.7h.6M135.7 338.8h.6M119.7 351.8h.6M143.3 331.3h.6M154.3 328h.6M121.9 346.8h.6M113.5 351.7h.6M152.1 348.2h.6M111.4 352.6h.6M111.1 351.1h.6M122.9 352.6h.6M128.9 351.7h.6M160.1 350.3h.6M161.1 347.6h.6M124.9 352.6h.6M121.9 346.3h.6M150.7 334.2h.6M136.1 351.8h.6M126 345h.6M117.5 348.8h.6M153.8 344.6h.6M111.3 351.8h.6M123.6 342.7h.6M164 350.9h.6M128 351.7h.6M152.2 345.6h.6M155.6 338.8h.6M140.5 351.7h.6M163.4 349.3h.6M155 352.4h.6M150.9 347.2h.6M156.3 346.1h.6M138.3 347.4h.6M115.3 348.2h.6M161.7 352h.6M125.1 345.9h.6M159.9 334.5h.6M123.2 344.9h.6M126 346.6h.6M122.1 349.9h.6M140.1 334h.6M160.4 350.6h.6M141.2 333.8h.6M147.7 347.5h.6M124.3 344.7h.6M158.8 343.5h.6M116.7 352.3h.6M145.5 342.7h.6M130.7 347.9h.6M115.9 351.4h.6M129.8 342.4h.6M135.3 343h.6M156.3 351.9h.6M148 328.8h.6M142.8 350.9h.6M114.3 349.5h.6M155.4 351.7h.6M161.4 352.4h.6M127.7 347.6h.6M143.6 343.1h.6M133.2 346.8h.6M117 352.8h.6M142.9 344.6h.6M123.6 348.3h.6M145.2 351.4h.6M118.3 352.8h.6M155.5 324.7h.6M131.9 352h.6M150.3 345.9h.6M135.3 336.4h.6M150 352.3h.6M132.6 340.9h.6M126.1 346.6h.6M133.5 349.3h.6M131 345.4h.6M126 348.5h.6M134.3 337.7h.6M151.3 351.7h.6M154.3 326h.6M129.5 352.7h.6M153.9 327.8h.6M150.3 332.4h.6M127.7 341.3h.6M131 343.9h.6M142.3 352.5h.6M124.8 342.2h.6M152.9 327.3h.6M161.3 352.8h.6M125 341.9h.6M162.2 349.1h.6M123.3 342.9h.6M141.3 345h.6M151.1 330.9h.6M143.4 337h.6M119.3 347.8h.6M158.5 342.1h.6M122.1 346.6h.6M158.1 329.4h.6M132.7 348.4h.6M157.1 349.2h.6M112.8 349.4h.6M147.3 352.4h.6M157.7 330.6h.6M153.5 346.5h.6M122.9 347.7h.6M117.3 351.5h.6M151.7 333.6h.6M113.4 351.6h.6M148.5 332.5h.6M124 352.7h.6M148.1 352.3h.6M109.1 351.1h.6M130.2 339.8h.6M129.7 345.2h.6M111.6 351.5h.6M154.2 335.1h.6M153.6 344.3h.6M156.9 334.7h.6M146.5 335.6h.6M112.9 350.9h.6M122.5 343.9h.6M111.9 349.8h.6M148.6 351.4h.6M116.8 347.7h.6M118.7 348.4h.6M150 348.4h.6M149 335h.6M153.5 352.7h.6M143.4 350.5h.6M123.5 350.4h.6M142.6 352.3h.6M159.5 329h.6M142.7 351.4h.6M139.3 341.2h.6M148.1 332.7h.6M126.5 344.3h.6M150.1 329.3h.6M136.2 336.8h.6M125.4 347h.6M158.2 352.1h.6M160.7 348.7h.6M144.3 338.9h.6M137.5 338.1h.6M128.9 348.1h.6M157.3 333.8h.6M119.7 352.4h.6M110 351.9h.6M154.5 350.7h.6M145.1 337.5h.6M112.5 350.4h.6M130.6 351.6h.6M142.5 347.5h.6M145.1 339.1h.6M133.7 351.7h.6M132.3 341.9h.6M150.8 345.5h.6M129.3 340.8h.6M159 341.5h.6M151.8 336.1h.6M128.2 344.5h.6M113.9 351.6h.6M145 341.8h.6M129.7 344.8h.6M133.3 349.7h.6M155.8 330.3h.6M139.9 350.4h.6M161 335.9h.6M161.3 339.4h.6M114.2 350h.6M114 351.2h.6M145.1 352.6h.6M116 350.6h.6M153.2 329.8h.6M151.4 346.5h.6M112.4 349.4h.6M125.2 342h.6M140.7 333.9h.6M132.7 348.7h.6M125.1 346.1h.6M155.7 351.8h.6M116.2 351.8h.6M139.7 337.8h.6M136.3 335.7h.6M111.1 352.6h.6M160.3 341.7h.6M114.9 350.1h.6M133.5 341.6h.6M156.9 352.5h.6M138.3 348.9h.6M143.7 339.5h.6M145.7 337.8h.6M145.4 338.6h.6M141.9 335.1h.6M132.4 348.3h.6M146.2 347.8h.6M122.9 344.3h.6M110.6 351h.6M154.8 351.2h.6M144.3 348.6h.6M132.3 351.3h.6M151.9 341.6h.6M122.5 350.7h.6M141.4 344.1h.6M164.5 348h.6M147.6 340.5h.6M125.2 352.6h.6M155.7 351.7h.6M152.2 352.7h.6M162.6 338.3h.6M158.7 352.1h.6M134.6 337.1h.6M141.4 352.4h.6M122.2 352.7h.6M143 341.7h.6M126.3 341.7h.6M139.9 347h.6M155.3 329h.6M150.6 336.3h.6M129.7 348.3h.6M116.3 348.6h.6M146 341.2h.6M150.7 331.6h.6M145.4 350.9h.6M148.2 329h.6M139.6 339.1h.6M157.3 342.7h.6M143 350.3h.6M154.9 339.5h.6M118 347.4h.6M160 350.4h.6M125.1 346.5h.6M117.8 351.7h.6M115.8 349.6h.6M137.4 350.2h.6M119.8 350.6h.6M113.7 348.3h.6M119 352.6h.6M126 342.3h.6M137.6 337.1h.6M137.8 344h.6M121.1 352.1h.6M135.4 346.4h.6M139.7 334h.6M156.4 339.8h.6M153.2 350.6h.6M147.7 338.3h.6M146.2 338.5h.6M153.2 328.1h.6M149.9 348.1h.6M135.5 342.3h.6M148.8 342.5h.6M133.3 338.2h.6M139.2 352.1h.6M132.6 346h.6M119.8 347h.6M154.2 325.5h.6M117.4 351.2h.6M135.7 343.1h.6M147.4 350.3h.6M123.3 345.1h.6M162.6 337.4h.6M144.7 331h.6M157.3 324.9h.6M116.2 351.5h.6M146.1 351h.6M136.6 339.6h.6M125.3 344.6h.6M125.8 346.6h.6M130.8 349.2h.6M134.3 348.2h.6M113.5 352.4h.6M117.9 347.4h.6M129.2 351.1h.6M116.3 350.4h.6M162.7 338.8h.6M160.4 347.6h.6M143.3 337.4h.6M136.2 343.6h.6M116.2 348.7h.6M132.3 341.2h.6M113.9 351.2h.6M162.1 336.6h.6M162.2 349.6h.6M149.1 349h.6M112 350.1h.6M154.6 334.5h.6M128.8 346.2h.6M110.2 351.6h.6M109.1 351.8h.6M111.2 352.3h.6M108 352.7h.6M123 347.9h.6M117 348.3h.6M118.3 346.4h.6M147.2 330.5h.6M153 340.3h.6M122.8 346.7h.6M119.2 350.7h.6M110.3 351.9h.6M120 350.8h.6M113.6 349.3h.6M161.8 341.3h.6M115 350.2h.6M150.3 339.3h.6M157.1 326.2h.6M156.3 331.7h.6M132.4 341.7h.6M119.1 346h.6M122.7 344.9h.6M160.6 349.9h.6M127 344.7h.6M159.6 335.7h.6M154.3 339.7h.6M120 349.2h.6M150.4 331.9h.6M158.4 344.6h.6M160.3 351.5h.6M163.4 351.8h.6M127.4 345.1h.6M132.4 351h.6M124.5 347.7h.6M142 347.4h.6M134.8 351.8h.6M139.6 333.6h.6M134.2 336.7h.6M147.2 339.2h.6M124.4 346h.6M129.7 340.6h.6M147.2 346.7h.6M113.8 349.6h.6M138.7 335.1h.6M150.5 328.6h.6M158.3 347.2h.6M154.1 340.9h.6M150.6 339.6h.6M138.9 334.7h.6M139.3 349.5h.6M114.6 347.9h.6M158 346.9h.6M111.1 350.9h.6M121.9 350.1h.6M117 346.6h.6M128.2 346.1h.6M150.5 343.1h.6M150.1 339.7h.6M158.1 347.4h.6M109.6 350.8h.6M160.4 331.6h.6M156.2 350.4h.6M121.9 348.1h.6M122.2 343.9h.6M143.6 342.4h.6M160 337.6h.6M110.6 351.6h.6M131.2 343.7h.6M118.1 351.6h.6M113.8 351.9h.6M145.4 331.6h.6M131.1 343.4h.6M124 347.1h.6M122.7 346.8h.6M132.7 344.6h.6M131.9 337.9h.6M151.5 333.2h.6M112.7 349.4h.6M161.1 351.7h.6M120.8 352.2h.6M125.7 342.4h.6M153.1 343.9h.6M132.6 343.5h.6M163.7 344.7h.6M136.8 350h.6M117 351.2h.6M158 351.6h.6M144.1 331.7h.6M148.7 341.1h.6M131.2 348.8h.6M155.1 328.2h.6M148.4 328.6h.6M158.8 350.2h.6M149.8 351.9h.6M145.1 343.2h.6M137.4 334.8h.6M150.9 352h.6M150 327.5h.6M120.2 352.2h.6M132.8 345.7h.6M163.7 352.7h.6M146.3 330h.6M150.6 328.6h.6M159 345.6h.6M134.4 350h.6M161 348.2h.6M124.2 350.6h.6M130.9 344.5h.6M119.2 350.3h.6M121.4 345.3h.6M163.4 340.2h.6M120.6 352.6h.6M145.7 335.2h.6M161 344.8h.6M157.4 326.4h.6M131.1 352.1h.6M139.8 344.8h.6M120.6 348.9h.6M113.9 349.5h.6M126.1 347.4h.6M120.5 349.3h.6M137.1 352.7h.6M142.9 345.8h.6M143.9 341.2h.6M130.8 352.3h.6M110.9 351.9h.6M157.4 344.3h.6M153.6 326.3h.6M130.2 349.8h.6M132.9 337.7h.6M138.6 339.6h.6M150.5 346h.6M136.6 336.1h.6M160.5 331.8h.6M131.5 338.4h.6M110.7 350.9h.6M126.5 346.7h.6M126.8 350.7h.6M142.6 334.4h.6M143.8 331.5h.6M132.3 346.4h.6M148.4 338h.6M127.4 351.7h.6M147.3 329.4h.6M158.4 346.5h.6M131.8 346.6h.6M136.7 352.3h.6M151.4 350.5h.6M156.7 327.4h.6M124.8 346h.6M149.2 337.5h.6M114.5 352.5h.6M116.9 352.5h.6M142.4 343.9h.6M144.8 330.5h.6M139.2 346.5h.6M148.1 329.2h.6M132 345.1h.6M132.2 347.6h.6M154.6 341.9h.6M134.4 346.2h.6M147 330h.6M114.8 350.8h.6M140.2 351.1h.6M118.9 345.8h.6M113.3 349.3h.6M157.3 327.8h.6M129.2 342.2h.6M145.3 344.6h.6M127.6 343.3h.6M158.8 332.9h.6M107.9 352.6h.6M118.4 348.6h.6M119.4 352.6h.6M130.2 342.2h.6M160.2 331.5h.6M131.8 344.8h.6M145.3 344.8h.6M151.8 347.9h.6M123.9 346.8h.6M149.1 329.6h.6M125.3 349.9h.6M143.8 343.2h.6M130.4 352.6h.6M160 335.6h.6M111.1 352.1h.6M132.2 350.6h.6M129.5 344.8h.6M140.5 341.2h.6M147.3 334.4h.6M139.8 352.3h.6M134.7 344h.6M130 343.3h.6M127.5 344.1h.6M160.6 349.4h.6M164.4 351.7h.6M122.8 343.2h.6M129 340.2h.6M125.8 346.3h.6M157.7 335.8h.6M131.6 340.9h.6M159.8 349.9h.6M124.8 347.8h.6M148.3 342.1h.6M118.6 348.6h.6M144.2 350.8h.6M156.7 351.1h.6M144 331h.6M143.1 333.5h.6M138.1 335.5h.6M133.6 337.2h.6M122.9 348.7h.6M142.1 348h.6M130.3 342.4h.6M153.8 326.4h.6M158.2 328.2h.6M154.4 345.1h.6M145.2 332.8h.6M157.4 352.7h.6M132.3 349.7h.6M114.3 351h.6M124.9 347h.6M151.9 328h.6M115.2 351.2h.6M146.3 351.6h.6M135.5 352.7h.6M151.7 335.9h.6M122.2 346.1h.6M112.7 351.8h.6M119.4 350.1h.6M142.3 337.5h.6M116 347.9h.6M156 324.2h.6M122.2 349.3h.6M139.2 334.9h.6M130 341.4h.6M152.1 343.8h.6M114.4 350.7h.6M137.1 350.8h.6M138.5 351.4h.6M129.6 351.3h.6M148.1 345.7h.6M149.9 341.3h.6M159.2 343.1h.6M157.7 350.9h.6M156.3 324.4h.6M142.2 352.6h.6M129.2 351.1h.6M140 352.3h.6M132.7 338.6h.6M148 348h.6M163.4 351.2h.6M148.9 352.1h.6M119.9 349.1h.6M120.8 351.1h.6M145.7 338.9h.6M116.5 350.5h.6M141 341.2h.6M150 340.8h.6M153.6 334.9h.6M125.5 348.1h.6M124.2 347.7h.6M140.1 344.1h.6M118.4 351.9h.6M152.5 334.2h.6M162.6 352.5h.6M122.3 350.9h.6M155.2 332.1h.6M128.3 350.5h.6M110.8 352.4h.6M157.3 351.5h.6M143.5 352h.6M111.8 351.7h.6M125.9 346.9h.6M159.5 332.1h.6M151.2 343.4h.6M123 349h.6M162.2 335.8h.6M123.9 346.6h.6M131.6 348.8h.6M134.9 347h.6M158.7 347.3h.6M156.5 337.1h.6M150.8 351.6h.6M155.5 329.5h.6M131.5 352h.6M128.7 352.4h.6M122.2 350.9h.6M134.1 346.2h.6M126.4 343.8h.6M117.7 346.3h.6M152.6 330.2h.6M156.8 331.8h.6M142.1 352h.6M142.4 346.8h.6M151.7 343.9h.6M110.6 351.5h.6M148.6 352.5h.6M122.2 343.9h.6M125.3 348.7h.6M157.5 351.4h.6M150.5 336.2h.6M133.7 352.6h.6M160.2 338.5h.6M120.3 351h.6M112.9 350.8h.6M121.5 344.5h.6M143.5 344.1h.6M130 339.4h.6M130.3 347.4h.6M120.4 347.8h.6M128.4 346h.6M163.9 352.8h.6M120.5 346.1h.6M143.9 331.6h.6M157.2 324.8h.6M137.1 348.8h.6M133.6 352.6h.6M109.3 351.6h.6M155.4 325.7h.6M143.8 331.7h.6M153.7 346.9h.6M143.1 342.3h.6M124.4 343.1h.6M113.8 350.1h.6M161.8 350.1h.6M130.9 344.9h.6M135.8 352.4h.6M143.8 342h.6M140.5 340.9h.6M140.8 337.1h.6M121.2 344.6h.6M153.3 328.9h.6M152 343h.6M133 344.6h.6M152.2 337.1h.6M147.8 330h.6M152.2 337.1h.6M127.6 341.7h.6M145.2 330.8h.6M120 351.2h.6M116 352.7h.6M123 350.9h.6M114.9 352.4h.6M108.9 351.5h.6M159.9 350.4h.6M131.3 338.5h.6M107.7 352.6h.6M147.3 351.2h.6M148.1 345.9h.6M126.2 341.6h.6M133.7 338.2h.6M124.2 348.7h.6M133.1 340.6h.6M157.9 327.6h.6M162.8 343h.6M129.8 339.3h.6M144.3 352h.6M131.2 338.8h.6M148.5 351.1h.6M109.4 352.6h.6M127 351.2h.6M121.8 349.2h.6M119.4 352.4h.6M123 343.5h.6M152.2 338.5h.6M110.8 352.6h.6M160.4 340.7h.6M156.3 340.9h.6M112.1 350h.6M115 349h.6M127.6 348.7h.6M123 346.6h.6M146.8 336.1h.6M118.8 350.9h.6M113.6 350.8h.6M153.7 335.4h.6M149.4 352.2h.6M149.7 341.4h.6M132.1 343.8h.6M163.6 350.2h.6M121.8 348.8h.6M156.6 350.8h.6M157 324.6h.6M127.8 346.5h.6M140 348.6h.6M161 347.3h.6M128.1 340.1h.6M113.4 351.2h.6M131.5 352.3h.6M128.6 351.5h.6M140.1 352.7h.6M142.1 349.4h.6M155.5 326.7h.6M133.4 352.1h.6M148.4 330.7h.6M114.6 351.6h.6M160 343.7h.6M123.2 350h.6M125.1 348.1h.6M120.2 351.3h.6M123.3 346.8h.6M109 352.6h.6M147.6 340.6h.6M155 324.8h.6M157.3 352.1h.6M162.9 346.4h.6M162 352.5h.6M129.4 348.4h.6M160.5 352.7h.6M154.4 345.1h.6M141.9 352.3h.6M114.1 351.7h.6M160.4 338.1h.6M115.7 348.6h.6M163.8 348.4h.6M121 350.8h.6M153.6 327.8h.6M159.9 336.4h.6M121.2 350.5h.6M116.7 350h.6M138 342.4h.6M155 352.8h.6M117.8 352.3h.6M132.4 344.1h.6M129.2 340.8h.6M140.5 344.8h.6M119.5 350.8h.6M131.8 341.5h.6M143.2 349.2h.6M112.8 352.4h.6M118.7 345.7h.6M152.2 332.2h.6M108.5 351.6h.6M117.5 351.2h.6M143.4 352h.6M158.4 351.3h.6M124.6 348.1h.6M135.6 338.2h.6M118 348h.6M137 338.1h.6M136.2 337.5h.6M114 348.9h.6M131.3 343.7h.6M123.5 352.4h.6M137.4 345.7h.6M120.8 350h.6M162.8 351.9h.6M114.5 347.9h.6M142.8 351.9h.6M156.2 324h.6M119.8 350.7h.6M122.4 343.5h.6M158.4 344.8h.6M118.9 347.9h.6M135.2 335.9h.6M133 349.6h.6M132.7 349.7h.6M111.2 350.9h.6M127.5 341.1h.6M133.1 345h.6M157.3 328.2h.6M146.2 352.1h.6M140.6 351.3h.6M157.4 352.5h.6M111.9 351.8h.6M162.3 346.7h.6M107.5 352.3h.6M120.8 348.1h.6M155.2 332.9h.6M142.6 337.1h.6M135 337.9h.6M119.4 345.9h.6M157 350.3h.6M155.3 348.7h.6M144.2 344.7h.6M127.3 343.7h.6M109.3 351.9h.6M135 345.4h.6M142.7 335.9h.6M121.1 347h.6M118.7 346.3h.6M145.7 351.8h.6M131.3 348.5h.6M155.1 344.5h.6M121.6 348.3h.6M141 351.7h.6M145.9 342.7h.6M147.5 329h.6M113.7 350.2h.6M124.9 348.8h.6M132.4 352.8h.6M162 352.4h.6M163 350.5h.6M122.9 343.6h.6M141.5 337.5h.6M154.6 326.1h.6M131.9 346.7h.6M143.2 352.8h.6M112.5 349.1h.6M125.9 352.6h.6M115.3 349.5h.6M148.3 350.1h.6M147.1 342.6h.6M152.6 326.8h.6M145 342.7h.6M151.2 352.7h.6M162.7 349.7h.6M162 350.8h.6M154.6 352.2h.6M155.6 350h.6M131.5 349.9h.6M116.6 349.2h.6M153.2 326h.6M139.5 335.1h.6M148.9 334.8h.6M135.8 335.6h.6M136.4 348.8h.6M151.5 330.6h.6M160.2 352.8h.6M127.7 342.3h.6M111.8 350.6h.6M127.4 352.5h.6M118.2 347.5h.6M146.8 350.2h.6M150.8 338.3h.6M160.2 350.5h.6M148.6 330.3h.6M119.4 349.4h.6M150.9 351.7h.6M121.3 346.4h.6M118.5 346.5h.6M141.9 345.1h.6M142.9 340.4h.6M116.1 347.5h.6M142.9 352.6h.6M110.2 350.9h.6M137.8 347.9h.6M135.7 351.5h.6M163.1 350h.6M159.7 352.7h.6M135.5 338.2h.6M125.3 349.1h.6M134.2 336.7h.6M137.6 335.1h.6M159.7 342.7h.6M130.4 346.9h.6M155.3 352.1h.6M135.9 348.5h.6M120.6 344.6h.6M154.1 351h.6M156.6 331.2h.6M158.4 326.8h.6M109.1 351.2h.6M115.3 352.4h.6M120.3 344.6h.6M152.8 340.8h.6M160.9 351.6h.6M152.6 337.3h.6M154.8 324.7h.6M149.8 328.4h.6M119.8 346.1h.6M148.9 348.4h.6M154.6 345.4h.6M135.9 348h.6M159.3 346.3h.6M114.9 350.4h.6M155.7 338.2h.6M131.3 347.8h.6M151.4 350.6h.6M161.7 352.6h.6M127 345.8h.6M142 348.5h.6M112.3 349.5h.6M149 343.7h.6M146.6 329.9h.6M150.3 337.3h.6M116.5 347.4h.6M125.7 348.3h.6M138 343.1h.6M148.7 329.7h.6M156.9 325.6h.6M144.7 350.7h.6M156 334.4h.6M138.1 349.2h.6M163.5 343.6h.6M144.2 331.2h.6M156.6 351.7h.6M126.2 344.2h.6M119.8 348.1h.6M123.2 343.6h.6M158.4 351.3h.6M143.4 331.6h.6M127.6 341.8h.6M123.3 344.8h.6M111.2 352.1h.6M141 342.6h.6M133.8 352.7h.6M127.9 345.4h.6M113.5 352.5h.6M158 327h.6M152.8 351.8h.6M159.8 345.2h.6M122.1 344.4h.6M108.7 351.9h.6M133.2 338.1h.6M148.4 330.3h.6M149 330.2h.6M141.2 347.1h.6M126.9 341.7h.6M161.2 339.4h.6M143.9 344.3h.6M128.5 346h.6M129.2 339.5h.6M152.6 351.3h.6M138.7 346.2h.6M152.9 337.4h.6M113 352.6h.6M115.3 351.7h.6M119.3 348.5h.6M134.1 343h.6M122.3 345.1h.6M128.2 341.2h.6M153.7 350.9h.6M147.2 350.1h.6M135.7 338.5h.6M125.9 345.5h.6M131.8 347.9h.6M117.3 350.8h.6M139 345.7h.6M123.6 346.5h.6M152.9 351.1h.6M150.1 327.9h.6M110.6 351.2h.6M157 336.8h.6M130.3 346h.6M116.6 347.8h.6M157.5 324.7h.6M126.9 351h.6M118.1 349.9h.6M113.5 352.1h.6M155.4 349.1h.6M154.9 344.6h.6M130.9 348.7h.6M111.9 352.7h.6M149.3 327.9h.6M133.4 341.3h.6M139.6 346h.6M158.2 339.6h.6M131.5 348.4h.6M122.3 352.4h.6M155.1 336.1h.6M129.2 349.1h.6M148.9 340h.6M128.1 352.6h.6M148.7 342.5h.6M121.5 351.4h.6M128.1 352.1h.6M145.5 351.9h.6M152.9 342.2h.6M161.7 350.4h.6M131.2 340.9h.6M133.6 350.6h.6M124.9 350.7h.6M115 351.9h.6M126.5 350.7h.6M148.4 352.6h.6M122.3 347.8h.6M152.5 332.8h.6M131.1 340.1h.6M128.1 340.2h.6M154.4 345.8h.6M153.8 335.8h.6M121.9 347h.6M157.2 323.9h.6M159.8 352.2h.6M121.1 352.7h.6M139.9 337h.6M150.3 352h.6M134.1 344.8h.6M134.9 338h.6M153.2 350.6h.6M120.7 349.1h.6M146.8 346.6h.6M157.4 333.4h.6M159.7 350.1h.6M148.5 337.7h.6M128.6 350.2h.6M118.8 352.6h.6M144 349.9h.6M157.9 342.9h.6M140.3 333h.6M156.2 351.6h.6M153.8 352.2h.6M117.6 347.6h.6M145.2 338.3h.6M147.4 352.5h.6M140.9 333.5h.6M156.2 324.3h.6M122.7 343.6h.6M107.6 352.6h.6M126.2 352.4h.6M113.9 352.1h.6M131.3 345h.6M164 351.7h.6M108.2 352.8h.6M156.5 331h.6M142.5 352.2h.6M133.1 352.1h.6M146.5 352.5h.6M142.6 339.3h.6M113.4 351.5h.6M113.9 352.7h.6M151.3 345.7h.6M160.4 350.2h.6M157 330.5h.6M112.4 352.4h.6M155.3 327.7h.6M121.6 351.6h.6M137.9 348h.6M155.7 339.1h.6M149.3 343.1h.6M150.2 350.4h.6M119 346.4h.6M120 350.6h.6M112.2 349.6h.6M156.7 326h.6M131.7 338.1h.6M159.3 352.4h.6M120.5 347.6h.6M111.8 349.8h.6M115.1 351.6h.6M144 351.2h.6M116.6 352.1h.6M129.2 347.9h.6M138.1 334.8h.6M150.3 344.1h.6M136.5 350.7h.6M150.1 346h.6M137.7 335.2h.6M133.9 351h.6M148.8 344.2h.6M143.8 352.1h.6M160.3 337.6h.6M138.1 347.4h.6M118.1 349.7h.6M157.2 350.4h.6M137.4 350.2h.6M155.2 349.2h.6M153.4 349.3h.6M129.9 339.1h.6M110.6 350.6h.6M127.2 352.7h.6M131.8 347.8h.6M150.5 350.7h.6M109.6 351.9h.6M158.9 347.7h.6M142.3 352.4h.6M156.4 332.2h.6M160.8 346.9h.6M113 349.5h.6M152.1 328.7h.6M144.9 352.3h.6M117.7 348.8h.6M128.4 346.3h.6M135.7 337.8h.6M150.8 350.1h.6M147.4 341.7h.6M157 352.1h.6M123.5 346.1h.6M134.3 348.3h.6M146.6 331.4h.6M131.8 348.2h.6M122.5 346.5h.6M162.3 350.6h.6M118.5 347.4h.6M138.5 352.4h.6M157.7 329.1h.6M142.6 345.3h.6M148.9 339.5h.6M151.9 350h.6M152.5 327.9h.6M155.3 339.3h.6M125.3 345.4h.6M142.2 332.3h.6M154 345h.6M127.8 352.4h.6M130.1 343.6h.6M164.7 351.9h.6M149.8 351.3h.6M125.3 351.8h.6M155.3 329.6h.6M131.8 347.2h.6M134.8 337.5h.6M149.7 329.1h.6M144.3 349h.6M109.2 351.7h.6M153.6 341.3h.6M125.6 348.1h.6M116.4 347.1h.6M157.9 352.5h.6M123.2 350h.6M130.8 352.6h.6M158.3 337.1h.6M154.7 344.7h.6M120.3 345.8h.6M133 337.3h.6M136.7 336.1h.6M136.9 335.7h.6M124.5 344.7h.6M119.6 352.6h.6M150.3 328.2h.6M109.1 351.6h.6M152.8 342h.6M112.2 349.8h.6M138.8 351.6h.6M126.9 345.5h.6M131.8 344.7h.6M115.2 350.4h.6M126.8 352.1h.6M151.7 351.4h.6M160.9 349.6h.6M108.5 352.1h.6M155.1 333.4h.6M144.4 340.1h.6M112.1 351.3h.6M120.1 350h.6M128.9 352.7h.6M158 346.7h.6M144.1 352.1h.6M145.9 331.8h.6M162.7 350.5h.6M163.1 352.6h.6M132.6 337.9h.6M132.5 338.7h.6M120.1 346.7h.6M161.6 337h.6M148.1 348.2h.6M149.2 335.6h.6M136.3 340.4h.6M125.8 349.4h.6M129.1 340.2h.6M138.2 351.6h.6M155.9 350.5h.6M158.5 352.1h.6M125.3 344.1h.6M141.2 332.7h.6M131.1 352.2h.6M147.8 346.5h.6M137.4 344.9h.6M151 337.7h.6M116.6 347.2h.6M141.2 335.8h.6M121.5 351.1h.6M157.2 352.2h.6M146.5 352.3h.6M112 352.5h.6M135.8 344.1h.6M127.9 342.7h.6M112.8 349.2h.6M143.8 331.3h.6M121.2 350.7h.6M162.4 337.8h.6M150.3 337h.6M158 336.4h.6M116.9 351.7h.6M157.7 348.4h.6M118.5 347.6h.6M142 339.9h.6M146.6 350h.6M120.4 351.2h.6M143.4 332.3h.6M122.6 348.2h.6M156 340.2h.6M117.5 350.7h.6M112.2 350.2h.6M121 351.2h.6M160.3 346.2h.6M124.4 343.4h.6M130 342.4h.6M108.3 352h.6M145.3 344.7h.6M113.8 350.1h.6M132.4 348.6h.6M127.8 352.5h.6M144 334.3h.6M138.9 334.6h.6M148.4 349.7h.6M153.6 325.9h.6M116.6 349.1h.6M160.4 342.6h.6M153 350.5h.6M152.8 331.3h.6M138.1 343.2h.6M146.1 348.5h.6M130.8 349.1h.6M132.4 347.7h.6M149 341.6h.6M153.1 337.8h.6M161.7 334.8h.6M118.1 348.4h.6M135 337.2h.6M121.4 344.2h.6M155.5 351.4h.6M139.3 343h.6M122 344h.6M141 332.8h.6M121.2 347.3h.6M115.8 351.2h.6M118.9 349.7h.6M156.1 341.7h.6M141.4 352.2h.6M162.6 350.8h.6M153.5 352.1h.6M126 352.5h.6M133 346.6h.6M131.6 349.8h.6M142.4 334.5h.6M118.7 348.2h.6M132.2 347.1h.6M153 327.3h.6M125.1 344.3h.6M159.1 337.3h.6M157.3 345.3h.6M134.4 346.2h.6M137.3 352.5h.6M120.1 351.6h.6M133.2 351.3h.6M120 349.7h.6M152.2 346.2h.6M124.3 352.7h.6M134.1 348.7h.6M123.8 351.9h.6M147.4 329.2h.6M115 348h.6M140 337.8h.6M140.8 343.9h.6M122.7 346.2h.6M158.4 329.4h.6M133.8 346.3h.6M148.3 348.8h.6M124.2 350.2h.6M110.5 352.1h.6M133.6 351.2h.6M154.9 339.8h.6M120.2 351.3h.6M114.5 349.8h.6M149.2 333.8h.6M117.1 347.3h.6M148.6 335.8h.6M156.8 352.3h.6M116.5 348.4h.6M116.4 347.3h.6M135.6 342h.6M150.5 351.5h.6M140.4 335.5h.6M109.8 350.8h.6M127.4 349h.6M148.5 334.6h.6M123.7 348.7h.6M141 333.7h.6M159.4 328.8h.6M148.7 351.7h.6M149.7 342h.6M155.7 339.8h.6M111.5 350.1h.6M124.6 347h.6M125.6 345.3h.6M157.2 328.1h.6M143.7 342.5h.6M114 352.4h.6M122.8 345.6h.6M133.5 351.9h.6M125.3 352.4h.6M150.3 352.3h.6M156.9 323.5h.6M158.7 337.5h.6M119.1 351.6h.6M162.9 352.4h.6M121.9 349.6h.6M121 344.2h.6M109.5 352.2h.6M109.6 351.9h.6M136.8 345.3h.6M155.9 326.2h.6M110.1 352.4h.6M163.5 342.8h.6M111.1 351h.6M133 343.2h.6M157 351.2h.6M131.7 338.3h.6M126.5 348.7h.6M141.7 332.8h.6M150.8 327.8h.6M131.6 344.9h.6M114.4 349.9h.6M163.6 351.7h.6M114 352.1h.6M118.3 350.1h.6M151.9 337h.6M132.5 350.4h.6M120.2 344.7h.6M132.3 351.9h.6M133.9 345h.6M133.7 352.1h.6M110.7 351.2h.6M150 347.2h.6M133.2 342h.6M155.3 328.7h.6M120.5 344.6h.6M121.4 348.5h.6M117.2 347.2h.6M152.8 346.2h.6M113.6 350.3h.6M157.5 333.3h.6M161.1 345.4h.6M141.3 340.2h.6M137.5 351.8h.6M146.9 344.3h.6M143 332.4h.6M141.2 337.8h.6M111.8 349.6h.6M137 338.4h.6M140.8 333.3h.6M140.3 333.7h.6M133.3 346.2h.6M107.8 352.6h.6M127 345.4h.6M119.9 346.1h.6M129.2 344.6h.6M127.1 348.1h.6M158.6 330.4h.6M120.7 352.2h.6M118.7 349.4h.6M119.4 349.9h.6M155.7 324.3h.6M127.5 344.1h.6M142 342.6h.6M126.2 343h.6M147.7 349.6h.6M146.8 342.3h.6M116.5 352.2h.6M130.3 346.7h.6M109.7 352.4h.6M140.2 352.2h.6M157.1 342.8h.6M145.9 344.4h.6M153.1 349.6h.6M136.1 336.5h.6M113.1 349.1h.6M116.5 352.7h.6M109 351.5h.6M145.2 331.5h.6M138.6 338.3h.6M148.7 341.2h.6M118.5 346.4h.6M139 352.4h.6M116.5 351.9h.6M117.2 346.7h.6M127.3 347.3h.6M126.6 342.9h.6M143.7 347.3h.6M161 340.2h.6M135.9 336.3h.6M120 350.8h.6M115 352.6h.6M120.1 347.8h.6M142.7 341.4h.6M126.9 352.4h.6M131.4 340.1h.6M135.3 348.5h.6" stroke="#000" stroke-width=".6" fill="none"/>
<path class="wl2" d="M106.3 352.8H165.1A58.8 58.8 0 0 0 157.2 323.4Z"/>
<text class="k2" x="100.3" y="357.9">0001</text>
<text class="k2" x="153.5" y="357.9">2110</text>
<path d="M156.9 354.6h2.6M160.4 354.6h2.6" stroke="#000" stroke-width=".5" fill="none"/>
<text class="k2" x="156.2" y="318.5">1010</text>
<path d="M163 315.2h2.6" stroke="#000" stroke-width=".5" fill="none"/>
</g>
<g id="ipf-9">
<path d="M260.2 271.1H274.7A59 59 0 0 0 266.8 241.6L254.2 248.9A44.5 44.5 0 0 1 260.2 271.1Z" fill="rgb(12,12,12)"/>
<path d="M266.8 242.5h.7M264.1 251.9h.7M271.3 254.5h.7M264.7 266.8h.7M265.5 264.4h.7M268.3 251.4h.7M266.6 262.7h.7M261.7 250.4h.7M265.3 248.8h.7M266.6 248.7h.7M267.3 263.2h.7M272.6 269h.7M268.7 270.9h.7M265.5 247.3h.7M268.1 246.8h.7M265.8 270h.7M264.4 263.7h.7M267.2 248.7h.7M268.4 252.2h.7M270.1 252.4h.7M272.6 270.3h.7M269.9 269.8h.7M272.7 262.8h.7M270.2 257.5h.7M261.1 251.1h.7M261.3 263.7h.7M269.1 249.5h.7M273 261.9h.7M268.8 251.2h.7M270.8 261h.7M262.8 266.1h.7M260.4 258.1h.7M271.6 254.9h.7M263.3 244.1h.7M258.1 251.6h.7M269.3 257h.7M259.5 248.3h.7M267.2 248.6h.7M264.5 244.9h.7M258.7 249.3h.7M262.2 269.2h.7M266.4 253.5h.7M261.3 247.1h.7M255.6 250.7h.7M273.6 263.4h.7M259.9 252.1h.7M269.4 260.9h.7M271.1 269.1h.7M263.4 253.1h.7M266.1 265.2h.7M268.5 263h.7M261.6 253.3h.7M262.1 254.9h.7M265.5 258.5h.7M264.4 244.1h.7M263.1 247h.7M265.2 248.5h.7M272.5 269.7h.7M266.1 265.6h.7M268.1 255.7h.7M267.1 258h.7M266.9 258.7h.7M273.1 260.3h.7M260.3 246.6h.7M270.7 251.4h.7M263.6 250.8h.7M272.4 264.3h.7M264.3 249.3h.7M262.4 243.9h.7M265.4 269.6h.7M271.9 261.7h.7M273.6 262.1h.7M267.6 257h.7M268 247.1h.7M270.1 264.5h.7M271.6 264.1h.7M264.9 245.7h.7M266.8 266.3h.7M258.3 250.5h.7M264.6 242.8h.7M262.5 248.3h.7M273.1 262.3h.7M261.6 264.4h.7M268.8 248.6h.7M266.4 244.6h.7M269.7 261.5h.7M267 262.7h.7M274 266.3h.7M270 255h.7M266.9 261.3h.7M270.4 265.7h.7M262.9 246.7h.7M271.1 252.7h.7M268.2 269h.7M264.6 252.1h.7M266.8 244.3h.7M270.4 250.7h.7M265.4 256h.7M266.7 258.4h.7M271 263.7h.7M265.9 269.3h.7M268.7 250h.7M269.3 253.1h.7M268.3 261.2h.7M270.1 262.6h.7M265.2 244.6h.7M266.3 248.7h.7M257.9 256h.7M264.4 244.8h.7M265.7 262.9h.7M264.2 267.8h.7M259.6 266.5h.7M268.4 264.6h.7M267 254.2h.7M268.6 263.6h.7M268.6 250.7h.7M269.2 249.4h.7M270.2 251.4h.7M261.1 260h.7M255.7 248.1h.7M269.4 255.6h.7M269.3 254.2h.7M266.9 254.1h.7M259 248.6h.7M271.1 260.2h.7M272.9 258h.7M263.4 244.7h.7M268.9 250.4h.7M269.4 249.7h.7M270.2 251.1h.7M267.7 255.2h.7M265.6 244.7h.7M272.6 267.6h.7M265.5 250.3h.7M271.2 260.4h.7M266 254.7h.7M272.1 262.3h.7M268.9 257.8h.7M269.7 257.6h.7M268.1 254.2h.7M272.1 270.5h.7M274.3 269.9h.7M267.7 251.6h.7M267.2 250.4h.7M264.8 250.5h.7M263.8 258.5h.7M271 259.6h.7M270.8 256.9h.7M271 266h.7M272.6 257.3h.7M262.4 264.5h.7M270.7 257.2h.7M263.8 257.2h.7M272.6 259.7h.7M271.4 270h.7M269.3 268.5h.7M262.8 266h.7M266.4 247.3h.7M273.2 268.2h.7M264.2 250.9h.7M265.1 270.8h.7M267.9 257.2h.7M264.9 252.5h.7M257.1 254.8h.7M266.3 242.2h.7M265 250.1h.7M255.6 250.3h.7M261.6 248.7h.7M262.4 261.8h.7M261.1 251.7h.7M268.9 266.7h.7M263.2 267.7h.7M268.7 258.2h.7M266.1 260.5h.7M263.3 244h.7M266.8 249.3h.7M268.3 253.5h.7M267.5 260h.7M265.9 249.6h.7M266 242.2h.7M264.1 261.4h.7M267.8 269.7h.7M264.3 245.6h.7M272.9 268.2h.7M264.2 262h.7M267.5 244.5h.7M270.4 256h.7M268.3 245.8h.7M261.3 252.2h.7M263.2 244.1h.7M266.4 250.1h.7M269.2 255.2h.7M273.4 268.2h.7M268 247.5h.7M272.2 265.7h.7M268.5 264.4h.7M269.3 251.2h.7M265.8 261.3h.7M256.3 247.9h.7M271.8 261.6h.7M273.4 266.7h.7M267.2 246.7h.7M269.8 263.5h.7M268.3 256.2h.7M273.4 268h.7M267.4 260.5h.7M263.2 265.2h.7M267.8 257.5h.7M266.8 246.2h.7M268.9 265h.7M270.2 261.6h.7M264.9 252.2h.7M265 249.9h.7M269.5 259.5h.7M264 260.4h.7M266.6 249.3h.7M265.9 256.7h.7M272.5 270.3h.7M268 262.4h.7M269.8 268.1h.7M271.4 262.2h.7M260.6 257.5h.7M264 248.7h.7M255.6 248h.7M264.9 269.1h.7M265.4 245.8h.7M266.9 250.6h.7M269.1 253.5h.7M267.7 255h.7M272.5 269.4h.7M268.7 249.9h.7M267.4 256h.7M271.2 261.1h.7M267.6 269.1h.7M266.8 256.6h.7M270 251.7h.7M270.7 270.6h.7M269.8 252.1h.7M258.9 256.6h.7M264.8 270.2h.7M261 247.5h.7M271.4 267.3h.7M265.3 250.8h.7M267.7 249.5h.7M264.7 269.9h.7M270.7 259.7h.7M261.5 254.8h.7M266.7 246.6h.7M267.3 247.6h.7M262 245.4h.7M267.9 254.2h.7M262.5 265.1h.7M261.4 244.9h.7M267.8 268.2h.7M268.3 245.1h.7M270.7 251.2h.7M265 267.3h.7M260.4 246.1h.7M267.7 245.8h.7M260.7 254.8h.7M269.2 263h.7M265.2 247.4h.7M268 264.8h.7M259.3 248.8h.7M271.4 253.7h.7M271.2 262.6h.7M259.4 262.9h.7M271.3 270.6h.7M261.9 269.3h.7M272.3 270.1h.7M263.7 262.6h.7M271.7 268.5h.7M266.7 244.9h.7M270.5 255.2h.7M272.7 258.5h.7M260 266.8h.7M269.2 264.6h.7M265.3 249.3h.7M264.4 250h.7M260.7 256h.7M265.1 255.7h.7M271.4 256.5h.7M268.3 258.3h.7M272.4 263h.7M262.8 265.5h.7M265.7 259.3h.7M264.4 251.7h.7M273.4 268.5h.7M263.5 257.4h.7M268.8 264h.7M270 254.8h.7M274.2 267.4h.7M264.7 255.3h.7M264.8 256.4h.7M269.2 269h.7M269.6 255.5h.7M266.3 269.9h.7M264.4 249.2h.7M262.8 249.8h.7M269.4 256.7h.7M269.2 248.8h.7M263.6 269h.7M269.7 261h.7M260.1 248.5h.7M262.5 245.1h.7M263.6 256.6h.7M269.1 256.3h.7M265.8 255.8h.7M267.1 258.4h.7M271 268.7h.7M273.2 263.1h.7M267.8 252.4h.7M261.5 259.8h.7M257.6 249.9h.7M260.4 256.9h.7M262.4 249.1h.7M269.6 252h.7M263.3 265.5h.7M269.9 257.2h.7M263.6 256.2h.7M267.4 245.3h.7M269.5 255.8h.7M269.3 269.6h.7M267.3 249.5h.7M268 245.5h.7M269.3 264.1h.7M270.9 267.9h.7M267.4 253.1h.7M271.2 262.9h.7M265.4 266.1h.7M265.9 257.2h.7M267.5 260.7h.7M266.9 268.4h.7M270.9 258.2h.7M263 249h.7M272.4 259.2h.7M268 249.8h.7M263.1 252.5h.7M267.2 244.7h.7M270.7 259.4h.7M255.2 249.5h.7M270 252.9h.7M267.4 268.9h.7M267.5 257.9h.7M266.2 269.7h.7M262 257.6h.7M264.6 245.5h.7M270 255.2h.7M268.4 267.6h.7M261.7 249.9h.7M269 252.9h.7M266.2 259.9h.7M272 270.4h.7M264.7 252.8h.7M267.6 267.3h.7M269.2 250.4h.7M269.6 260.1h.7M273.3 270.9h.7M263.3 255.3h.7M266.6 269h.7M273.8 270.4h.7M265.9 253.2h.7M271.1 264.9h.7M262.6 261.5h.7M265.3 252.8h.7M265.6 242.3h.7M263 248h.7M269.9 261.9h.7M271.6 263.1h.7M267.9 263h.7M264.5 255.7h.7M270.9 257.7h.7M262.8 260.9h.7M271.5 260.9h.7M265.1 264.9h.7M267.7 251.3h.7M267.7 258.1h.7M273.5 270.5h.7M267.8 253.7h.7M264.6 244.8h.7M270.7 270.9h.7M271.3 257.2h.7M263.8 250.1h.7M265.8 244.1h.7M273.9 265.2h.7M264.6 259.8h.7M268.7 255.2h.7M267.4 269.3h.7M266.4 242.3h.7M263.5 268.8h.7M269.7 252.1h.7M259.9 245.5h.7M263.4 249.6h.7M261.8 248.3h.7M264.7 251h.7M266.9 266.7h.7M260 248.2h.7M267.2 245.9h.7M270.4 258.1h.7M259.3 260.2h.7M262.6 244.2h.7M270 253h.7M271 266.2h.7M271.3 258.1h.7M274.1 270.8h.7M271.3 270.8h.7M268.1 264h.7M265.9 245.9h.7M273.7 264.8h.7M267 242.7h.7M271.6 253.5h.7M272.5 268.7h.7M267.4 247.2h.7M273.7 263.4h.7M265.9 243.5h.7M260.9 258.1h.7M268.7 255.6h.7M265.5 250.6h.7M262.2 257.9h.7M261.8 248.2h.7M263 257.1h.7M263.9 246.4h.7M265.6 251.3h.7M268.9 253h.7M267 270.8h.7M267.9 268.6h.7M268.7 259.5h.7M267.1 245.2h.7M264.6 255.9h.7M272.8 262h.7M270.6 250.5h.7M270.9 264.4h.7M269.1 255.1h.7M269.1 265.3h.7M271.1 262.8h.7M265.7 242.3h.7M274.3 270h.7M273.7 264.8h.7M267.3 250.5h.7M256.6 247.9h.7M269.2 253.7h.7M270.1 266.6h.7M267.1 242.7h.7M267.7 245.2h.7M269.2 261.4h.7M266.2 259h.7M263.8 257.1h.7M267.4 244.4h.7M269.2 263.9h.7M271.2 269.9h.7M273.5 261.9h.7M267.5 269.6h.7M266.2 251.6h.7M272.1 268.6h.7M268 244.6h.7M274 268.8h.7M274 270.7h.7M267.6 260.7h.7M260.4 249.4h.7M273.9 266.5h.7M266.2 270.9h.7M266 258.3h.7M273.3 266.5h.7M257 247.4h.7M261 248.3h.7M267.3 265.9h.7M260.7 250.7h.7M269 250.4h.7M272 260h.7M260.2 254.1h.7M264.7 258.4h.7M263 250.6h.7M270 260.3h.7M273.6 266.5h.7M265.2 254.1h.7M267.5 261.9h.7M270.1 253.1h.7M261.2 259.1h.7M266.7 246.1h.7M272.2 258.8h.7M267.2 266.4h.7M263.4 245.9h.7M266.9 253.5h.7M273.4 269.8h.7M268.1 253h.7M269.2 268.4h.7M262.5 254.1h.7M268.4 268.3h.7M266 253.3h.7M268 244.6h.7M266.4 255.9h.7M268 259.5h.7M265.4 251.3h.7M267.4 260.3h.7M266.7 268.9h.7M266.8 257h.7M261.1 255.7h.7M273.6 267.9h.7M263.8 265.8h.7M274.3 268.8h.7M271.2 253h.7M272.7 270.8h.7M269.9 254.6h.7M258.5 257.3h.7M272.6 262.1h.7M262.4 257.9h.7M260.7 249.4h.7M267.5 244.7h.7M266.3 244.1h.7M271.5 266h.7M264.5 266.6h.7M266.1 249.5h.7M268.2 261.4h.7M259.1 253h.7M272 257.9h.7M268.5 257.6h.7M267 247.4h.7M261.4 260.7h.7M265.2 262.2h.7M264.2 251.4h.7" stroke="#fff" stroke-width=".7" fill="none"/>
<path class="wl2" d="M215.7 271.1H274.7A59 59 0 0 0 266.8 241.6Z"/>
<text class="k2" x="209.7" y="276.2">0001</text>
<text class="k2" x="263.1" y="276.2">2110</text>
<path d="M266.5 272.9h2.6M270 272.9h2.6" stroke="#000" stroke-width=".5" fill="none"/>
<text class="k2" x="265.7" y="236.7">1010</text>
<path d="M272.6 233.4h2.6" stroke="#000" stroke-width=".5" fill="none"/>
</g>
<g id="ipf-10">
<path d="M404.6 275.2h.5M383.4 288.2h.5M374 289.7h.5M395.6 283.6h.5M398.5 278.7h.5M401.4 284h.5M380.5 293.5h.5M415.7 288.5h.5M404.6 277.7h.5M368.8 293.3h.5M411.6 293.6h.5M395.2 289.2h.5M404 281.4h.5M406.7 273.1h.5M380.2 293.6h.5M417.4 288.2h.5M388 286.8h.5M408.1 285.7h.5M387.3 292.7h.5M387.2 281.5h.5M380.3 290.3h.5M380.6 293.3h.5M400.5 286.1h.5M413.8 290.8h.5M392.4 293.5h.5M394.9 279.8h.5M369.1 291.7h.5M413.7 292.6h.5M370.7 291.5h.5M411.7 285.9h.5M387 290.3h.5M388.7 288.3h.5M396.1 295.9h.5M406.6 280.6h.5M416.8 278.9h.5M412.5 289.3h.5M403.8 278.8h.5M418.7 292.1h.5M390.1 294.5h.5M389.1 287.7h.5M415.9 282.6h.5M404.6 272.5h.5M381.9 288.7h.5M412.3 273.7h.5M399.6 287.5h.5M393.2 290.5h.5M377.8 294.8h.5M383.6 286.8h.5M403.4 284.4h.5M379.5 289.2h.5M383.9 294.6h.5M397.5 280.2h.5M403.5 286h.5M402.2 277.8h.5M402.9 295.5h.5M417.5 283h.5M391.9 281.1h.5M415.7 286.6h.5M392.4 282.8h.5M381.8 293.2h.5M390.8 288.6h.5M365 294.9h.5M378.9 295.4h.5M401.7 279h.5M408.1 278h.5M375.3 291.8h.5M387.8 290.6h.5M403.2 286.3h.5M401.6 281.2h.5M417.4 288.4h.5M388.5 294.9h.5M414.9 272.1h.5M395.2 293.4h.5M396.5 292.7h.5M385.4 286.4h.5M415.7 289.3h.5M396.6 286.2h.5M377.4 289.5h.5M407.2 286.7h.5M399.9 278.3h.5M406.4 278.6h.5M412.8 283.4h.5M414.3 279.5h.5M419.1 290.6h.5M375.2 287.8h.5M411.4 268.9h.5M415.4 295.7h.5M406 295.9h.5M415.1 280.9h.5M382.3 290.6h.5M413.3 281.3h.5M394 287.5h.5M411.5 279.6h.5M415 282.7h.5M406.6 290.8h.5M374.3 293.6h.5M391.7 281.4h.5M377.6 290.8h.5M406.8 289h.5M376.6 288.4h.5M403.4 274.7h.5M387.3 291.9h.5M404.3 283.9h.5M406.8 293.1h.5M399.8 292.4h.5M378.4 292.9h.5M372.1 289.8h.5M404.9 278.6h.5M396.1 289.7h.5M388.6 288.4h.5M407.4 277.5h.5M409.3 275.3h.5M376.5 295.9h.5M384.4 287h.5M375.8 294.4h.5M412.3 285.3h.5M396.8 275.6h.5M399.9 277h.5M412.4 288.6h.5M407.7 281.8h.5M414.6 278.6h.5M376.3 288.9h.5M413.5 279.5h.5M414.9 293.1h.5M395.9 280.5h.5M415.5 292h.5M412.4 278.1h.5M384.8 284.4h.5M390.5 280.7h.5M400.6 290.4h.5M401.5 291.8h.5M382.6 295.9h.5M402.7 295.3h.5M401.5 282.7h.5M402.5 285h.5M407.2 271.4h.5M385.4 285.8h.5M401.1 274.1h.5M415.6 289.6h.5M400.7 282.7h.5M402.2 293.6h.5M389.8 294.2h.5M411.9 291.9h.5M413.2 289.3h.5M398.6 278.1h.5M392.7 281.7h.5M407.2 270.1h.5M384 287.6h.5M406.3 295.2h.5M404 272.1h.5M402.7 291.1h.5M405.5 295.9h.5M404.7 290.4h.5M409.8 293.1h.5M381.4 289.9h.5M410 292.3h.5M417.5 279.6h.5M386.6 288.3h.5M409.5 269.8h.5M369.3 294.1h.5M404.8 279.1h.5M414.5 280h.5M394.3 279h.5M374.3 295.1h.5M383.7 295.9h.5M363.3 294.7h.5M401.8 281.6h.5M411.8 271.2h.5M379.6 295.7h.5M409.4 283.4h.5M375.5 290.2h.5M414.7 289.8h.5M386.6 293.5h.5M367.1 294.4h.5M381.6 295.4h.5M408.5 274.9h.5M382.4 293.5h.5M410.6 274.5h.5M399.3 285.1h.5M380 287.4h.5M382.3 290.9h.5M378.7 290.1h.5M398.4 294.6h.5M384.7 295.1h.5M415.9 288.9h.5M407.7 293.5h.5M411.4 294.7h.5M404.1 294.5h.5M384.7 290.3h.5M408.8 289.5h.5M416.9 295.9h.5M410.5 275.6h.5M399.6 285.3h.5M413.7 281.6h.5M386.3 288.1h.5M412.5 284.3h.5M401.4 290.3h.5M403.7 290.5h.5M397.1 276.8h.5M380.4 295.8h.5M365.9 294.8h.5M409.1 280.7h.5M387.8 280.7h.5M388.1 292.4h.5M395.6 283h.5M410.7 278.7h.5M409.4 291.7h.5M399.3 277.4h.5M405.5 285.9h.5M403 283.8h.5M417.8 283.2h.5M395.2 289.7h.5M411.1 281.6h.5M409.2 277.6h.5M374.5 293.2h.5M402.9 285.4h.5M387.4 288.5h.5M374.3 290h.5M400.8 274.4h.5M414.8 284.9h.5M413.9 286.5h.5M405.1 271.6h.5M419 290.5h.5M415.5 280.9h.5M412.2 271.1h.5M400.9 275.3h.5M405.7 294.9h.5M409.5 270.2h.5M393.7 281.3h.5M405 295.5h.5M405.6 273.3h.5M392.8 279h.5M398.1 287.4h.5M399.5 290.2h.5M413.9 277.5h.5M417.2 281.5h.5M386.4 284.8h.5M410.4 283.9h.5M413.3 281.8h.5M406.7 288.5h.5M401.3 286.9h.5M389.7 293.8h.5M376.8 290.2h.5M394.9 281.5h.5M415.7 284.6h.5M386.1 291.5h.5M413.1 270.5h.5M391.8 281.6h.5M384.7 293.2h.5M408.7 283.9h.5M417.5 291.1h.5M400.8 279.3h.5M377.4 294.2h.5M412.6 270.5h.5M417.1 294.2h.5M380.8 288.1h.5M404.4 295.9h.5M413.6 294h.5M399.1 289.2h.5M382.8 291.3h.5M368.9 291.7h.5M392.1 285.3h.5M410.5 296h.5M362.6 295.1h.5M409.3 273.2h.5M387.6 282.5h.5M393.7 285.1h.5M378.8 288.2h.5M412.2 279.7h.5M378.8 293.6h.5M387.3 292.9h.5M415 279.7h.5M380.2 288.2h.5M408 270.2h.5M397.4 292.5h.5M383 285.7h.5M372.5 291.4h.5M415.1 291.6h.5M394.8 286.3h.5M377.6 293.9h.5M377.3 287.7h.5M397.4 284.2h.5M404.9 287.6h.5M385.1 283h.5M415.6 277.7h.5M411.4 271.6h.5M415.3 274.2h.5M406.1 276.2h.5M388.6 292.2h.5M415.5 288.1h.5M372.3 290.1h.5M388.7 287.5h.5M397.9 277.2h.5M391.9 294.7h.5M389.4 287.7h.5M403.6 280.4h.5M402.8 272.8h.5M411.2 275h.5M400.7 290.2h.5M379.9 295.3h.5M372.3 292.8h.5M383.3 284.3h.5M412.7 295.1h.5M416.2 287.3h.5M396.1 293.8h.5M415.6 280.6h.5M411.8 285.9h.5M389.5 282.2h.5M396.8 292.9h.5M377.7 290.5h.5M365.8 294.4h.5M415.7 292.7h.5M389.1 282.7h.5M376 293.7h.5M389.6 293h.5M410.5 274.5h.5M393.1 287.2h.5M374.6 295.2h.5M413.2 292.2h.5M390.5 285.6h.5M396.6 286.3h.5M387.8 283h.5M408.6 289.4h.5M401.8 274.4h.5M402.3 287.2h.5M413.8 274h.5M401.9 284.6h.5M372.2 292.4h.5M384.2 289.1h.5M376.9 289.5h.5M379.3 291.4h.5M418.3 288.1h.5M368.5 295.5h.5M408 292.6h.5M370.3 293.1h.5M407 280.1h.5M411.1 280.6h.5M398.9 285.7h.5M399 289.4h.5M377.1 291.4h.5M371.3 290.2h.5M385.2 292.3h.5M402 281.3h.5M397.1 277.9h.5M409.2 287.2h.5M391.2 284.8h.5M403.4 277.7h.5M395.9 279.5h.5M397.1 291.3h.5M368.1 293.3h.5M392 278.7h.5M391.8 290.1h.5M391.1 287.9h.5M411 286h.5M412.5 275.1h.5M401.5 290.3h.5M411.2 285.9h.5M389.5 282.3h.5M402.6 288.7h.5M374.9 293h.5M388.7 282.1h.5M387.2 281.6h.5M397.3 277.9h.5M409.7 294.1h.5M410.3 278.6h.5M412.9 278.7h.5M390.5 289.6h.5M405.8 271h.5M417.3 291.4h.5M408.9 269.4h.5M384.5 293h.5M403.6 284.7h.5M407.1 277.9h.5M389.7 283.2h.5M387.6 286.6h.5M415.7 293.1h.5M412.9 276.7h.5M395.4 279.8h.5M380.1 287.3h.5M403.2 283.1h.5M391.4 282.6h.5M372.6 293.7h.5M394 289.3h.5M392.8 296h.5M399.2 286.7h.5M381 291.5h.5M410.2 290.4h.5M397.5 294.5h.5M382.9 290.4h.5M381.5 290.2h.5M372.8 291.6h.5M393.8 293.9h.5M412.1 266.6h.5M409.2 271.4h.5M410.5 275.8h.5M407.2 275.7h.5M363.8 295.5h.5M381.1 288.5h.5M414.8 293.2h.5M385.2 285.4h.5M416.1 294.2h.5M371.2 293.1h.5M399.2 291h.5M415.9 288.6h.5M412.8 271.3h.5M402.9 295.4h.5M408.6 294.8h.5M411.7 270.1h.5M401.1 279.4h.5M404.4 292.1h.5M413.8 272.5h.5M374.2 294.7h.5M374.6 294.5h.5M398.1 291.2h.5M401.3 285.6h.5M404.6 280.1h.5M393.1 295.8h.5M400.9 285.2h.5M410.6 282.1h.5M397.1 295.7h.5M407.5 285.2h.5M404.5 273.7h.5M386.5 290.5h.5M412.7 288.9h.5M397.1 276.1h.5M402.4 276.4h.5M397.7 288.7h.5M407.4 287.8h.5M373.6 295.1h.5M391.3 287.7h.5M386.9 281.2h.5M373.5 293.5h.5M396.5 275.7h.5M412.1 284.4h.5M391.3 293.9h.5M395.5 287.6h.5M399.6 291.7h.5M403.8 276h.5M391.8 278.8h.5M408.7 285.8h.5M379 291.5h.5M370.6 290.7h.5M417.7 292.5h.5M371.6 290.1h.5M385.1 290.1h.5M412.2 293.2h.5M374.2 290.5h.5M376.9 291.5h.5M403.7 272.1h.5M418.3 291.6h.5M385.1 294.8h.5M372.7 294.6h.5M388.9 287.8h.5M395.6 277.8h.5M398.1 282.3h.5M417.2 295.9h.5M415.6 280.4h.5M412.9 283.8h.5M387 293.5h.5M392.5 288.7h.5M395.6 276.9h.5M416.9 290.4h.5M403.6 271.9h.5M417.3 288.9h.5M394.2 294.5h.5M413.2 280.2h.5M394.9 281.2h.5M403.5 277.4h.5M415 294.2h.5M393.6 296h.5M415.9 274.5h.5M391.5 295.5h.5M397.7 279.5h.5M411.6 295h.5M383.5 290.5h.5M405.8 283.3h.5M382.5 287.8h.5M411.2 283.5h.5M413.4 285.8h.5M371.8 291.1h.5M397.4 293.1h.5M377.4 286.9h.5M416.1 279.8h.5M389.3 284.1h.5M388.8 295.7h.5M385.6 291h.5M367.1 293.1h.5M369.6 294.9h.5M403.6 279.1h.5M387.2 282.9h.5M377.9 294.1h.5M403.4 285.2h.5M378.9 291.5h.5M391.4 279h.5M379.3 295.3h.5M381.9 286h.5M412.2 266.7h.5M414.3 293.1h.5M417.1 291.6h.5M392.2 291.3h.5M391.8 284.2h.5M374.2 290.9h.5M390.9 285.8h.5M411.2 269.7h.5M397.8 295.8h.5M401.8 290.3h.5M371.6 295.2h.5M403.5 281.7h.5M389.9 291.1h.5M385 282.5h.5M407.8 289.7h.5M395.7 284.4h.5M404.6 272.1h.5M415 292.4h.5M391 293.8h.5M410.6 293h.5M409.8 271.1h.5M395.6 283.7h.5M399.4 274.9h.5M380.4 289.7h.5M411.1 267.3h.5M382.3 293.6h.5M381.7 287.2h.5M406.7 290.1h.5M412.4 287.9h.5M371.1 290.9h.5M409 288h.5M395.6 285.6h.5M419.2 290.9h.5M411.2 285.5h.5M396.1 283.4h.5M406.8 281.7h.5M399 294.9h.5M400.7 280.4h.5M411.2 295.2h.5M410.7 278.3h.5M405.4 289.6h.5M386 292.3h.5M403.6 279.2h.5M391.5 292.6h.5M387.9 295.2h.5M397.2 290.3h.5M404.4 282.1h.5M412.8 275h.5M404.6 278.8h.5M403.6 291.8h.5M411.1 278.9h.5M403.2 272.9h.5M371.3 295.9h.5M407.2 271.5h.5M413.8 285.8h.5M398.2 280.4h.5M395.6 286.9h.5M406.2 273h.5M398.1 294.4h.5M401.1 275.8h.5M409.2 285h.5M389.3 293.9h.5M391.1 290.8h.5M409.6 291.6h.5M403.9 293.9h.5M407.6 286.7h.5M394.5 280.4h.5M416 290.1h.5M396.5 295.1h.5M387.5 286.5h.5M412.7 284.9h.5M414.6 288h.5M415.2 279.6h.5M408.1 290.6h.5M374.5 295.4h.5M413.1 285.1h.5M391.5 288.7h.5M410.8 282.2h.5M398.7 275.9h.5M373.9 291.4h.5M394.1 290.5h.5M398 284.3h.5M412.8 269.4h.5M396.8 295h.5M392.3 287h.5M393.3 288.3h.5M398.3 293.7h.5M375.3 293.5h.5M383.2 294.7h.5M381.2 294.8h.5M395.3 291.1h.5M367.2 293.8h.5M380.6 288.3h.5M393.9 288.4h.5M414.9 280.8h.5M379.6 290.5h.5M418 292.1h.5M396.1 282.9h.5M408 273.3h.5M404.3 274.5h.5M418.9 289.4h.5M412.4 286.3h.5M416.9 296h.5M406.6 270.4h.5M411.7 278.5h.5M390.7 280.8h.5M408.5 292.2h.5M401.2 294.1h.5M418.5 293.8h.5M399.9 284.9h.5M396 292.4h.5M395.2 294.4h.5M377.8 290.2h.5M387.3 285.2h.5M398.9 287.8h.5M397.3 284.6h.5M412.8 274.8h.5M397.7 289.7h.5M375.6 289.7h.5M411.9 283.4h.5M394.5 291.9h.5M415.2 281.4h.5M399.3 275.9h.5M402.7 283.7h.5M392.6 295.1h.5M365.7 296h.5M402.3 275.8h.5M377.2 294.1h.5M378.7 287h.5M385.2 292.1h.5M383.1 289.3h.5M397.4 284.7h.5M389.9 287.5h.5M410.7 294.8h.5M385.9 283.5h.5M410.3 274.1h.5M389.4 289.3h.5M413.7 274.6h.5M399.8 276h.5M407.2 294.8h.5M402.4 280.9h.5M406.2 289.5h.5M389.1 282.6h.5M401.5 285.3h.5M401.2 288.4h.5M404.1 289.9h.5M414.2 274h.5M405.6 295.7h.5M400.1 273.5h.5M397.6 278.2h.5M412.7 276.3h.5M398.8 294.4h.5M408.9 296h.5M394.2 276.8h.5M410.5 276.4h.5M388.3 285.8h.5M411.5 272.8h.5M408.1 282.2h.5M399.2 279h.5M417.7 282.8h.5M415.3 294.3h.5M395 284.4h.5M389.7 289.9h.5M400.4 283.4h.5M384.5 293.1h.5M416.5 284.2h.5M409 292.2h.5M418.4 283.9h.5M397 288.9h.5M402.3 287.3h.5M407.7 277.2h.5M366.3 294.8h.5M380.8 290.4h.5M377.1 287.6h.5M368.3 291.9h.5M397.7 294.5h.5M394.2 278h.5M413.3 283.7h.5M400.9 287.1h.5M396.8 276.5h.5M404.4 276.7h.5M405.3 286.5h.5M379.3 290.5h.5M377.9 294.2h.5M413.1 275.2h.5M392 280.9h.5M404.1 276.7h.5M388.3 292.3h.5M370.7 296h.5M418 286.9h.5M373.1 295.8h.5M383.6 288.1h.5M391.5 280.7h.5M393.7 294.1h.5M375 291.5h.5M395.7 284.2h.5M406 282.7h.5M397.4 294.5h.5M379.1 288.5h.5M406.4 282.4h.5M415.9 287.8h.5M410.9 291.1h.5M411.7 276.5h.5M390.6 279.8h.5M377.6 293.6h.5M396.5 290.4h.5M410.8 281.9h.5M391.8 279.7h.5M403.6 283.3h.5M386.3 295.2h.5M402.8 279h.5M414.5 292.2h.5M405 282.5h.5M419.2 287.4h.5M413.8 272.9h.5M402.1 282.5h.5M400 292.5h.5M408.9 273.8h.5M411.6 272h.5M400.9 284.1h.5M404.1 292.7h.5M415.5 287.9h.5M416.5 295.7h.5M409.1 276.3h.5M400.2 276h.5M372.6 295.1h.5M396.1 276h.5M396.7 285.9h.5M382.9 294h.5M407.6 291.9h.5M372.9 289.3h.5M381.8 287.3h.5M397 276.8h.5M413.9 292.9h.5M410.5 294h.5M413.4 280.1h.5M411.9 268.7h.5M387.1 288.6h.5M405.3 273.3h.5M404.6 278.1h.5M417 278.9h.5M399.6 286.5h.5M376.5 295.2h.5M388.5 292.7h.5M396.5 279.5h.5M407.9 278.8h.5M411.1 282.7h.5M396.8 285.6h.5M412 288.5h.5M369.2 294.3h.5M409.7 285.4h.5M414.5 280.7h.5M392.1 281.5h.5M404 273.3h.5M370.4 295.3h.5M376.6 292.7h.5M388.6 290.2h.5M412.7 291.6h.5M403.4 295.7h.5M376.5 295.1h.5M401.3 282.2h.5M395.3 290.8h.5M389.9 287.4h.5M368.3 295.1h.5M405.5 273.8h.5M401.9 273.5h.5M405.3 290.1h.5M416.1 276.7h.5M408.1 278.9h.5M418.2 291.6h.5M392.9 283.2h.5M399 291.8h.5M392.4 280.9h.5M382.7 288.3h.5M406.3 275.3h.5M415.5 286.9h.5M409.9 270.1h.5M417.6 294.5h.5M404.3 287.1h.5M391.8 278.4h.5M390.3 282.8h.5M405.4 271.7h.5M407.3 289.5h.5M408.5 288.6h.5M409.2 269h.5M364.4 295.9h.5M402.6 278.6h.5M408.5 278.2h.5M400.6 292.3h.5M406.8 270.8h.5M400.5 282.5h.5M385 282.7h.5M402.9 281.7h.5M394.9 286.9h.5M390.5 283.3h.5M407.7 287.9h.5M400.6 289.4h.5M411.4 284h.5M399.8 290.5h.5M398.6 290h.5M381.7 284.5h.5M418.3 295.4h.5M376.3 293.2h.5M417.7 293.8h.5M388.7 280.4h.5M385.4 284.1h.5M417.5 292.9h.5M366.8 294.3h.5M397.7 276.6h.5M379.8 286h.5M401.5 285.6h.5M382.1 289.3h.5M400.7 286.2h.5M392.4 295.7h.5M416.4 289.6h.5M397.7 276.6h.5M404.2 278.9h.5M381.7 287h.5M411.7 285.2h.5M408.9 278.5h.5M387.3 289.4h.5M412.9 285.2h.5M379.6 291.4h.5M399 293.9h.5M384.2 284.9h.5M389.1 285.9h.5M377.5 288.7h.5M410.3 275.3h.5M418.3 287h.5M409.4 288.9h.5M384.7 288h.5M393.2 295.8h.5M415.9 290.8h.5M418.7 295.2h.5M415.1 276h.5M414.7 281.6h.5M397.4 281.1h.5M400.2 276.5h.5M391.6 294.4h.5M389.5 281.4h.5M412 287.3h.5M392.2 286.3h.5M408.2 289.1h.5M385.7 288.4h.5M402.1 283.2h.5M408.6 293.3h.5M412.8 271h.5M396.7 291.9h.5M401.9 276.8h.5M399.5 291.7h.5M391.6 294.3h.5M416.9 286.7h.5M404.9 285.7h.5M393.7 289.4h.5M401.9 290.6h.5M372.8 289.5h.5M385.2 291.5h.5M407.3 271.8h.5M414.8 281.3h.5M413.4 281.4h.5M383.7 289.2h.5M414.1 275.3h.5M397.5 294.9h.5M412 286.5h.5M396.5 283.1h.5M386.5 296h.5M367.2 294h.5M406.2 275.3h.5M397.9 287.5h.5M416.5 292.9h.5M396 277h.5M396.8 286h.5M412.2 268.3h.5M388.2 290h.5M418.3 284.9h.5M410.9 293.8h.5M405.9 291.1h.5M409.9 284.7h.5M370.5 290.8h.5M393.7 288.6h.5M413.2 271.1h.5M400.6 283.2h.5M400 288.7h.5M385.8 292.5h.5M395.5 282.1h.5M407.4 289.3h.5M413.3 279.6h.5M406.5 270.9h.5M405.4 273.3h.5M409 272.9h.5M398.4 279.2h.5M380.4 292.2h.5M399.7 276.9h.5M413.6 289.4h.5M394.5 284h.5M409.2 295.1h.5M407.4 291.1h.5M403.5 283.6h.5M393 284.1h.5M412.6 274h.5M370.9 294.9h.5M397.9 278.5h.5M419.3 286.8h.5M362.2 295.8h.5M379.6 286.7h.5M406.1 284.9h.5M383 291.2h.5M405.5 295.7h.5M416.5 294.8h.5M411.3 287.7h.5M413.4 285.9h.5M416 288h.5M410.7 274.1h.5M407.8 273.7h.5M368.7 295.2h.5M406.9 274.4h.5M399.1 288.7h.5M409.1 277.8h.5M405.8 284.2h.5M410.8 270.1h.5M403.7 275.4h.5M404.6 283.5h.5M412.7 284.9h.5M388.4 290h.5M394.6 283.9h.5M376.2 294.1h.5M414.4 287.1h.5M391.6 291.3h.5M410.1 287.8h.5M396.7 279.2h.5M391.5 294.3h.5M385.2 287.9h.5M401.1 287.3h.5M381.3 287.1h.5M404.7 284h.5M382.8 285.1h.5M414.5 287h.5M411 280.7h.5M408 293.2h.5M417 286.7h.5M404.1 281.5h.5M414.8 289h.5M396.3 286.2h.5M403.6 283.5h.5M384.5 283.1h.5M405 279.4h.5M401.9 288.1h.5M415.6 277h.5M403 281.5h.5M411.6 267.3h.5M397.6 279.1h.5M409.8 282.4h.5M378.9 289.9h.5M395.2 278h.5M389.6 281.1h.5M417.7 288.9h.5M380.3 290.3h.5M405.6 295.7h.5M390.3 281.9h.5M383.2 290h.5M403.4 287.5h.5M404.9 280h.5M412.6 291.7h.5M408.3 289.5h.5M370.2 295.2h.5M376.6 294.7h.5M396.3 283.6h.5M398 279.5h.5M391.4 290.4h.5M388.9 294.1h.5M412.5 293.4h.5M371 294.8h.5M406.9 289h.5M413.8 278.6h.5M393.5 287.1h.5M404.6 285.4h.5M391.5 285.6h.5M396 294.6h.5M412.4 289h.5M397.8 286.8h.5M411 278.8h.5M389.7 282.2h.5M371.5 295.3h.5M370.5 293.6h.5M405.9 274.7h.5M384.4 282.6h.5M405.5 290.7h.5M414 280.6h.5M397.7 285.6h.5M417.6 290.7h.5M380 288.5h.5M413.3 281.7h.5M412.7 276.5h.5M382.9 290.9h.5M384.6 283.1h.5M393.9 290h.5M413 268.4h.5M391.2 288.8h.5M391.8 289.9h.5M400.8 275.1h.5M384.4 289.3h.5M403.2 286.3h.5M399.4 288.2h.5M401.1 284.3h.5M412.3 291.7h.5M419.4 289.7h.5M410.4 293.8h.5M381.1 292.9h.5M394.2 283h.5M393.8 287h.5M390.5 289.4h.5M408.7 291h.5M415.9 283.1h.5M379.5 290.8h.5M399.4 277.4h.5M412.9 269.1h.5M396.2 291.8h.5M407.9 282.1h.5M408.5 277.2h.5M406.9 295.3h.5M371.9 291.2h.5M392.9 283.4h.5M401.2 274.5h.5M393.7 284h.5M406.8 271.8h.5M399.7 283.8h.5M388.9 284.6h.5M413.2 289h.5M379.5 288.9h.5M371.8 294.4h.5M391 286.1h.5M373.6 294.6h.5M411 278.9h.5M377.5 292.6h.5M398 291.9h.5M401.5 283.7h.5M369.3 293.4h.5M398 290.5h.5M411.8 273.8h.5M398.6 290.2h.5M392.9 284.1h.5M400.3 283.4h.5M387.9 286.5h.5M407.2 277.9h.5M411.9 285.2h.5M396.8 287h.5M408.4 279h.5M412.7 284h.5M397.8 276h.5M414.3 287.5h.5M393.5 290h.5M413.7 280.5h.5M373.4 294.5h.5M375.8 289h.5M404.6 287.1h.5M413 294.5h.5M397.9 285.7h.5M406.2 277.6h.5M413.3 288.6h.5M372.8 289.8h.5M403.5 278.5h.5M401 274.8h.5M370.2 292h.5M398.3 284.8h.5M389 294.2h.5M374.8 290.9h.5M392.9 282.1h.5M384.8 284.7h.5M410.2 285.5h.5M408.1 277.8h.5M407.3 279.1h.5M381.3 295.7h.5M383.6 285.8h.5M407.9 271.7h.5M387.6 288.5h.5M404 287.3h.5M364.8 294.3h.5M382 293.7h.5M395.6 276.4h.5M397.2 275.7h.5M382.3 289h.5M375.7 289.4h.5M380.7 290.4h.5M381.6 295h.5M380.4 295.2h.5M392.7 287.4h.5M408.1 286.7h.5M404.8 273.3h.5M406 272.4h.5M363.8 295.8h.5M417.4 292.8h.5M412.1 277.5h.5M388 294.8h.5M414.9 282.8h.5M411.8 270.6h.5M412.9 272.8h.5M414.5 282.1h.5M403.3 280.9h.5M374.3 290h.5M388.8 294.5h.5M413.1 295.8h.5M411.5 278.5h.5M381.2 285.8h.5M404.8 294.6h.5M413.4 290.7h.5M400 276.5h.5M378.2 289.6h.5M392.5 290.5h.5M395.5 288.1h.5M416.4 284.4h.5M410.4 268h.5M403.7 286.3h.5M377.5 287.8h.5M400.5 278.6h.5M390.8 294.8h.5M408.1 291.9h.5M410.3 282.2h.5M385.5 285.1h.5M385.6 284.1h.5M414.2 290.1h.5M411.6 291.2h.5M409 276.5h.5M395.1 281.4h.5M404.5 290.5h.5M395.8 285h.5M408.9 288.5h.5M387.6 285.7h.5M406.6 275.3h.5M402.7 281.1h.5M401.9 294.6h.5M417.3 293.3h.5M400.1 292.5h.5M410.2 271.7h.5M393.5 280.3h.5M415.2 288.1h.5M410.2 273h.5M417.2 288.8h.5M401.1 284.5h.5M415.8 277.5h.5M407.1 284.4h.5M417.2 286h.5M405.2 273.1h.5M401.9 294h.5M402 296h.5M412.3 295.9h.5M380.3 295.2h.5M388.7 283.8h.5M400.3 285h.5M411.8 289h.5M395.2 276.8h.5M381.6 290.7h.5M382.8 286h.5M375.9 294.6h.5M379 292.2h.5M409.3 279.7h.5M407.5 274h.5M377.8 295.2h.5M407.2 276.7h.5M398.2 293.4h.5M405.8 285h.5M382.7 293.3h.5M370.4 293.6h.5M378.5 290.1h.5M392.3 280.1h.5M384.4 283.6h.5M397.5 282.8h.5M381.7 290.5h.5M393.8 278.3h.5M400.4 274.7h.5M391.6 291.4h.5M402.8 280.9h.5M419 294.4h.5M396.8 295.1h.5M385.3 289.2h.5M394.4 288.9h.5M408.6 272.5h.5M417.8 294.3h.5M404.8 280.1h.5M390.7 282.8h.5M408.8 289.7h.5M405.4 287.3h.5M380.3 295.6h.5M391.3 295.3h.5M396.6 280.2h.5M401.1 278.5h.5M392.1 281.2h.5M407.8 295.2h.5M382.1 288.5h.5M414.2 276.9h.5M403.2 283.5h.5M410.5 289.8h.5M393.8 277.6h.5M412.8 289.6h.5M372.6 290.8h.5M416.4 285h.5M416 278.7h.5M399.8 285.3h.5M377.9 286.9h.5M415.5 285.1h.5M401.9 278.1h.5M404.9 286.7h.5M403.9 280.8h.5M387.4 295.4h.5M406.5 271.9h.5M372.2 294.4h.5M406.5 291.4h.5M400.4 284.4h.5M390.5 291.9h.5M377.4 295.9h.5M404.5 283.4h.5M410.6 283.7h.5M385.4 282.2h.5M393.5 291.9h.5M407.1 275.5h.5M403.5 278.5h.5M372.7 289.5h.5M377.5 286.9h.5M411.6 279.9h.5M408.3 274.1h.5M396.1 294.4h.5M385.9 290.1h.5M376.3 292.7h.5M380.5 288.8h.5M402.3 288.7h.5M375.1 290.1h.5M409.2 283.1h.5M402.3 279.7h.5M406.6 279.8h.5M408.4 274.5h.5M401.4 286.8h.5M383.3 295.8h.5M410.3 267.9h.5M412.2 279.4h.5M406.3 287.2h.5M380 289.1h.5M368.9 293.7h.5M393.3 279.1h.5M377.9 291.3h.5M384 285.3h.5M384.9 283.2h.5M394.6 278.4h.5M410.8 270h.5M387.1 291.5h.5M414.4 289.5h.5M410.7 273h.5M392.4 284.8h.5M381.9 287.3h.5M392.7 285.7h.5M396.1 280h.5M409.6 277.4h.5M391.3 292.1h.5M413.3 292.4h.5M391.3 280.2h.5M404.6 290.4h.5" stroke="#111" stroke-width=".5" fill="none"/>
<path d="M402.7 285.8h.5M410.9 271.6h.5M401.7 287.1h.5M411.3 275.5h.5M383.1 286.9h.5M372.1 294.2h.5M390.5 294.4h.5M413.7 294.4h.5M414.5 281h.5M416.7 288.3h.5M395.8 293.6h.5M381.9 285.5h.5M394.1 280h.5M390.8 285.8h.5M407.3 280.8h.5M406.4 287.7h.5M399.7 274.3h.5M397 282.3h.5M413.8 295.4h.5M408.7 284.2h.5M374.7 292h.5M390.4 281.8h.5M372.9 291.3h.5M374 290.5h.5M374.4 293.7h.5M416.7 288.8h.5M414.1 292.3h.5M388.5 288.8h.5M402.6 284.2h.5M409 283.9h.5M395.6 285.4h.5M389.5 291.1h.5M376.4 296h.5M415.5 294.1h.5M391.7 283.1h.5M395.9 282.2h.5M417.3 291.9h.5M370.6 294.1h.5M374.3 294.7h.5M388.1 283.6h.5M413.3 274h.5M370 295h.5M399.2 278.6h.5M388 283.8h.5M405.9 294.3h.5M408.8 294h.5M373.9 293.6h.5M407.4 283.8h.5M408.8 276.4h.5M396.5 275.8h.5M378.3 295.8h.5M418.7 294.8h.5M407.1 293.4h.5M383.1 284h.5M408.3 280.1h.5M374.2 295.3h.5M417.4 294.3h.5M383.7 284.9h.5M395 286.1h.5M404.5 283.4h.5M393.3 281.1h.5M369.6 291.2h.5M405.1 287.1h.5M418.4 294.4h.5M395.8 293.8h.5M400.1 282.2h.5M376.5 290.6h.5M405.8 270.1h.5M397.9 279.9h.5M365.1 296.1h.5M401.3 292.5h.5M372.6 290.2h.5M372.5 293.3h.5M392.8 286.7h.5M369.2 292.5h.5M395.2 283.9h.5M379.1 296h.5M392.9 280.7h.5M389.3 287h.5M405.3 274.2h.5M382.9 290.9h.5M366.4 293.6h.5M377.7 293.7h.5M419.9 294.7h.5M406.7 286.4h.5M418.7 290.8h.5M398.6 290.7h.5M389.5 289.3h.5M399.5 286h.5M404.5 293.8h.5M393.8 293.9h.5M377.4 294h.5M413.1 274h.5M373.2 294.6h.5M374.5 288.5h.5M405.1 282.1h.5M365.5 293.5h.5M383 292.5h.5M389.9 286.5h.5M405.8 287.3h.5M372.9 290.7h.5M379.7 287.5h.5M377.6 291.6h.5M373.7 293h.5M402.5 293.1h.5M417.2 295.6h.5M392.2 282.2h.5M386.3 296h.5M399.1 290.2h.5M371 291.3h.5M391.7 286.5h.5M373.4 290.6h.5M393.3 293.2h.5M384.1 290.1h.5M378.4 295.8h.5M392.3 294.7h.5M382.8 291.1h.5M383.8 295.5h.5M401.5 284.3h.5M370.8 292.5h.5M416.4 288.9h.5M377.9 293.1h.5M413.9 293h.5M407.5 295h.5M397.1 279.8h.5M406 273.1h.5M399.5 287.1h.5M414.2 296h.5M391.3 296.1h.5M365 294.1h.5M416.7 293.3h.5M374.9 294.7h.5M409 294.9h.5M391.8 282h.5M394.3 278.9h.5M414.2 294.8h.5M372.3 293.4h.5M391 295.6h.5M363.9 295.5h.5M376.5 293.8h.5M390.1 287.4h.5M405.8 286.3h.5M409.5 293h.5M418.3 289.2h.5M383.9 294.1h.5M364.6 294.8h.5M385.1 289.3h.5M372.9 291.7h.5M400.3 287.2h.5M389 295.7h.5M396.9 282.4h.5M365.3 296h.5M373.8 289.7h.5M386 286h.5M389.8 296h.5M399.8 292.8h.5M390 287.5h.5M411.3 282.7h.5M379.4 295.1h.5M388.2 288.6h.5M395.8 294.6h.5M383.5 294.8h.5M376.7 292h.5M405.2 295.8h.5M405 295.2h.5M395.3 284.9h.5M393.5 286.1h.5M412.7 267.8h.5M370.2 291h.5M409.6 275.3h.5M392.1 293.3h.5M380.8 286.9h.5M395.4 293.8h.5M408.4 296.1h.5M388.2 283.6h.5M380.8 292.3h.5M391.3 292.5h.5M383 291h.5M386.9 290.6h.5M386.6 290h.5M417 281.1h.5M372.4 295.1h.5M395.6 276.6h.5M386.5 284.9h.5M364.3 296.1h.5M408 293.7h.5M411.2 272.9h.5M377.2 293.8h.5M393.8 278.2h.5M393.3 288.1h.5M405.4 284.1h.5M368.2 294.9h.5M373.1 296h.5M398.2 294h.5M413.1 292h.5M394.3 294.2h.5M378.7 290.5h.5M404.4 294.6h.5M416.5 285.5h.5M404.9 281.8h.5M379.3 295.4h.5M379.1 287.5h.5M391.7 280.9h.5M373.8 295.7h.5M419.5 291.4h.5M379.3 286.2h.5M392.7 280.5h.5M394 295.3h.5M394.2 283.8h.5M381.6 287.2h.5M380.4 295.7h.5M413.2 292.3h.5M402.1 273.6h.5M398.8 287.8h.5M367.3 293.4h.5M389.7 281h.5M418.8 295.2h.5M379.8 287.6h.5M387.1 287.5h.5M386.9 292h.5M375.9 288.7h.5M379.2 295h.5M397.6 286.6h.5M383.3 293.2h.5M387.1 286.3h.5M374.5 290.6h.5M380.4 285.2h.5M404.6 271.3h.5M365.4 293.8h.5M414.2 272h.5M416.6 296h.5M414.6 284.8h.5M407.9 289.3h.5M395.7 284.1h.5M415.8 295h.5M376.3 295.9h.5M376.7 288.3h.5M373.9 295.5h.5M383.2 296.1h.5M373.8 295h.5M389.3 284.1h.5M396.2 281.9h.5M405 277.4h.5M387.2 295.5h.5M417.4 289.9h.5M397.1 277.9h.5M418.7 286.2h.5M400.2 292.3h.5M368.1 295.6h.5M373.9 295.3h.5M377 293.6h.5M366.9 293.2h.5M385.7 295.9h.5M406.7 294.5h.5M375.7 295.4h.5M404.7 293.6h.5M382.5 285.2h.5M387.6 288.9h.5M398 286.2h.5M377.2 289.8h.5" stroke="#111" stroke-width=".5" fill="none"/>
<path class="wl2" d="M361 296.1H420.3A59.3 59.3 0 0 0 412.4 266.5Z"/>
<text class="k2" x="355" y="301.2">0001</text>
<text class="k2" x="408.7" y="301.2">2110</text>
<path d="M412.1 297.9h2.6M415.6 297.9h2.6" stroke="#000" stroke-width=".5" fill="none"/>
<text class="k2" x="411.3" y="261.6">1010</text>
<path d="M418.2 258.2h2.6" stroke="#000" stroke-width=".5" fill="none"/>
</g>
<g id="ipf-11">
<path d="M473.5 310.4h.5M465.8 321.3h.5M470 311.2h.5M474.5 319.1h.5M467.1 306.7h.5M458.9 319h.5M454.2 321.2h.5M466.9 324.8h.5M458.5 318h.5M487.2 304.9h.5M445.9 321.1h.5M466.5 324h.5M451.9 321.1h.5M442.4 320.9h.5M483.4 301.3h.5M452.6 318.2h.5M483.2 318.2h.5M466.7 320.5h.5M463.6 310.6h.5M459.4 312.3h.5M473.1 312.1h.5M466.5 315.4h.5M442.6 320.9h.5M471.1 316h.5M461 318.5h.5M480.6 306.2h.5M480 318.4h.5M454.9 315.3h.5M478.9 325.6h.5M481 302.9h.5M449.7 321.3h.5M473.9 324.2h.5M464.1 313.5h.5M455 318.4h.5M461.1 315.1h.5M452.5 320.6h.5M476.7 320h.5M475.6 313.8h.5M476.8 315.8h.5M460.5 325.8h.5M486.7 307.1h.5M462.2 325.8h.5M488.6 315.8h.5M447.7 320.9h.5M473.4 312.3h.5M473.1 311.7h.5M465.3 316.8h.5M464.8 315.4h.5M481.4 325.3h.5M454.8 324.4h.5M455.5 320.1h.5M488.4 314h.5M485.9 317.8h.5M469.5 323h.5M486.2 312h.5M465.1 322h.5M458 321.2h.5M483.3 324h.5M447.9 318.9h.5M480.2 303.8h.5M489.3 319.6h.5M478.4 304.3h.5M487.4 314.5h.5M474.3 312.8h.5M439.6 324.8h.5M482.3 301.3h.5M473.5 305.6h.5M489.6 316h.5M461.2 322h.5M482.2 317.4h.5M484.2 310.1h.5M472.8 315.1h.5M485.7 323.2h.5M470.9 310h.5M475.1 318h.5M479.9 308.7h.5M449.9 322.8h.5M479.9 314.4h.5M483.3 320.8h.5M488 320.7h.5M478.4 319.9h.5M466.8 319.6h.5M475.8 324.2h.5M482 320.5h.5M473.6 324.4h.5M477.1 310.1h.5M472.2 304.7h.5M468.1 324.9h.5M455.6 323.9h.5M462.4 313.2h.5M461.5 316.1h.5M481.9 306.6h.5M479.8 318.1h.5M443.1 323.3h.5M464.2 324.1h.5M450.1 318.6h.5M472.7 311.2h.5M442.7 325.7h.5M452.8 315.8h.5M487 322.4h.5M463.6 322.9h.5M477 318.3h.5M488.7 319.3h.5M457.9 322.3h.5M469.5 317.3h.5M474 323.1h.5M485.9 324.1h.5M461.5 317.1h.5M467.5 309.7h.5M454.5 317.4h.5M474 322h.5M474.5 303.9h.5M472.3 317.1h.5M468.7 317.9h.5M456.9 316.6h.5M454.6 321.3h.5M483.9 309.7h.5M466.5 320.7h.5M490.2 318.2h.5M475.7 305.6h.5M486.6 323h.5M475.3 309.5h.5M443.6 320.7h.5M459.7 324.4h.5M454.7 316.9h.5M450.1 325.1h.5M457.3 320.8h.5M490.2 319.4h.5M467.5 319.7h.5M462.8 313.9h.5M451.3 323.1h.5M472.2 321.5h.5M484.6 323.4h.5M476.2 312.6h.5M465 321.7h.5M467.5 314.6h.5M453.9 314.4h.5M486.1 309h.5M478.8 316.4h.5M458.5 322.3h.5M489.5 325.2h.5M477.3 310.2h.5M482.8 306.1h.5M472.8 325.5h.5M488.7 312h.5M447.9 319.1h.5M477 313.7h.5M483.9 304.9h.5M475.8 324.3h.5M479.2 316.4h.5M448.6 320.5h.5M474.4 314.2h.5M461 311.7h.5M486.4 322.4h.5M461.7 325.6h.5M472.9 317.4h.5M462.4 324.2h.5M489 308.8h.5M455.5 316.5h.5M485 307.9h.5M469.4 318.2h.5M481.4 308.1h.5M489.9 311.7h.5M480.2 308.1h.5M463.1 309.9h.5M481.7 314.4h.5M469.3 316.3h.5M481.5 322.2h.5M439.2 324h.5M452.9 320.2h.5M462.7 318.9h.5M475.1 311.6h.5M478.5 320.7h.5M472.9 314.5h.5M450 321.6h.5M475.1 321.6h.5M447.3 318.6h.5M466 311.7h.5M459.2 322.2h.5M482.5 316.9h.5M489.3 323.1h.5M475.2 304.4h.5M462.3 314.7h.5M463.4 321.9h.5M466.5 321.7h.5M452.3 318.3h.5M469.2 311.1h.5M454 321.2h.5M478.4 323.3h.5M466.9 308.3h.5M446.5 318.4h.5M478.7 304.5h.5M482.3 321.9h.5M468.2 323.3h.5M470 310.1h.5M457.1 322h.5M442.5 321.5h.5M457.2 318.3h.5M462.5 313.1h.5M472.6 323.5h.5M459 317.1h.5M465.3 321.4h.5M473.3 311.3h.5M484.4 309.6h.5M450.3 320h.5M452.1 324.2h.5M461.4 324h.5M479.3 321.2h.5M489 312.3h.5M449.2 320.6h.5M460.9 313.4h.5M472.7 318.6h.5M489.5 312.7h.5M447.5 321.8h.5M464.3 308.2h.5M461.9 316.1h.5M472.1 321.6h.5M466.7 314.6h.5M460.2 314.9h.5M467.5 325.2h.5M445.9 319.7h.5M480.5 324.6h.5M484.5 298.5h.5M482.3 319.2h.5M471.4 309.9h.5M481.5 318.6h.5M440.9 324.2h.5M451.2 321.8h.5M481 299.5h.5M464.4 320.6h.5M456.6 312.9h.5M483.5 309.9h.5M486.1 318.7h.5M464 312.5h.5M466.4 313.8h.5M491.3 319.5h.5M447 323.5h.5M485.8 325.3h.5M448.2 323.7h.5M449.9 318.3h.5M460 324.5h.5M482.9 298.5h.5M467.3 314.5h.5M456.6 321.3h.5M482 318.9h.5M468.8 322.3h.5M463.9 316.9h.5M474.7 317.7h.5M478.5 300.4h.5M479.4 314.3h.5M444.1 324.8h.5M488.2 323.7h.5M468.4 312h.5M478 316h.5M489.4 325.3h.5M479.3 309.6h.5M477 306.5h.5M489.6 323.1h.5M451.3 322.4h.5M474.9 320.2h.5M461 314.9h.5M445.1 322.1h.5M482.9 320.3h.5M487.3 322.2h.5M472.7 304.4h.5M484.9 308.4h.5M459.9 311.8h.5M434.9 325.2h.5M468.5 314.8h.5M480.4 313.5h.5M479.9 313.1h.5M467.6 307.2h.5M449.5 319.6h.5M478.8 304.7h.5M484.4 314.7h.5M477.9 313.6h.5M482.9 312.4h.5M440.7 322h.5M476.3 323.5h.5M465.8 314.3h.5M460.7 324.1h.5M489.6 318.8h.5M440.8 322.2h.5M451.2 321.5h.5M464.6 317.1h.5M459.2 318.7h.5M479.2 323.3h.5M470.5 317.1h.5M464.2 325.4h.5M485.7 302.4h.5M483.7 318.3h.5M442 325.6h.5M465.5 315.9h.5M481.1 314.7h.5M483.9 298.6h.5M453.4 316.1h.5M477.4 310.4h.5M468.2 325.5h.5M471.1 307.9h.5M487.5 321h.5M488.5 314h.5M464 313.8h.5M465 311.4h.5M472.1 319.9h.5M464.4 323.8h.5M486.5 312.1h.5M465.3 319.8h.5M477 306.3h.5M481.2 300.7h.5M475.9 312.1h.5M460.6 314h.5M466.7 323.2h.5M466.5 317.5h.5M448.3 317.4h.5M472.6 317.1h.5M468.8 323.9h.5M454.3 318.8h.5M449.7 321.9h.5M465 313.5h.5M463.8 322.9h.5M447.5 323.8h.5M483.2 325.1h.5M457.8 316.4h.5M477.5 317.9h.5M467.7 310.9h.5M472.9 319.9h.5M455.1 317.6h.5M490.3 321.2h.5M476.5 310.2h.5M472.2 321.5h.5" stroke="#333" stroke-width=".5" fill="none"/>
<path d="M478.9 325.6h.6M457.1 319.6h.6M486.7 324.9h.6M481.3 303.5h.6M477.7 324.1h.6M477.3 313.7h.6M454.2 321.4h.6M481.3 298.6h.6M440.3 323.4h.6M465.1 318.8h.6M482.2 315.9h.6M464.8 308h.6M482.2 307.8h.6M482.2 323.1h.6M464.1 318.1h.6M480.4 299.8h.6M478.3 303.2h.6M476.7 314.4h.6M445.3 321.8h.6M480.9 307.6h.6M480.5 301.3h.6M485.4 302.3h.6M461.1 315.9h.6M466.3 324.2h.6M451.2 324.5h.6M481.2 325.4h.6M449.4 325.7h.6M475.2 302.6h.6M441.2 324.8h.6M466.4 323.1h.6M446.1 318.9h.6M486.7 324.4h.6M457.1 313.3h.6M458 324.3h.6M440.2 324h.6M453 315.1h.6M450.7 321.6h.6M481.8 315.8h.6M451.7 323.5h.6M489.3 325.2h.6M489.9 315.8h.6M474.2 313.2h.6M471.4 304h.6M474.7 314h.6M456.7 320.1h.6M461.9 316.6h.6M438.9 325h.6M436.1 325.6h.6M485.7 324.7h.6M482.8 313.5h.6M457.4 319.6h.6M459.6 312.4h.6M458.3 312.5h.6M470.5 322.4h.6M478 301.8h.6M437.4 326h.6M478.5 307.8h.6M474.5 310.6h.6M464.2 319.6h.6M489.3 322h.6M479.4 312.6h.6M455 325.5h.6M469.5 312.6h.6M475.8 310.8h.6M467.3 325.4h.6M489.5 325.9h.6M484.8 323.4h.6M483 317.9h.6M478.3 301.3h.6M447.7 318.2h.6M450.1 318.8h.6M486.3 324.9h.6M459 314.2h.6M477.6 318.1h.6M436.6 326h.6M438.4 324.5h.6M455.4 313.9h.6M472.2 317.4h.6M478.7 321.5h.6M483.6 299.5h.6M464.9 324.1h.6M479.8 317.7h.6M439.3 325.6h.6M472.6 323.2h.6M484.7 303.9h.6M451.7 324.2h.6M445.9 318.8h.6M464.1 318.3h.6M479.6 299.8h.6M458.3 311.7h.6M451.7 326.1h.6M468.1 325.2h.6M454.5 317.9h.6M486.5 310.7h.6M451.1 321.1h.6M461.3 312h.6M470.8 310h.6M438.6 325h.6M489.8 323.2h.6M475.9 315.1h.6M463.1 325.7h.6M471.7 304.2h.6M437.2 324.7h.6M452 325.2h.6M458.8 322.1h.6M483.6 307.6h.6M440.8 324.2h.6M476.8 310.7h.6M450 321.2h.6M477.3 323.5h.6M480.1 308.8h.6M485.8 321h.6M453.2 317.5h.6M436.6 324.5h.6M450.5 323.6h.6M451.9 322.2h.6M480.9 310.6h.6M442.5 322.3h.6M485.2 301h.6M438 323.3h.6M477.8 324.7h.6M463.8 325.4h.6M442.5 324.7h.6M487 323.8h.6M446.9 326h.6M451.7 319.1h.6M482 325.4h.6M479.7 306.3h.6M474.8 315.8h.6M466.5 324.8h.6M446.9 325.1h.6M479.3 325.4h.6M466.5 310.5h.6M486 314.8h.6M464.8 323.6h.6M476.8 324.8h.6M460.3 310.7h.6M445.9 324.7h.6M453.1 317.2h.6M464.3 325.5h.6M452.6 326.1h.6M483.2 325.2h.6M473 308.2h.6M481.3 300.1h.6M477.2 302.1h.6M444.8 320.2h.6M465.8 316.2h.6M442.1 320.9h.6M459.8 322.2h.6M437.4 324.8h.6M442.8 325.8h.6M474.4 320.1h.6M485.7 325.8h.6M469.3 308.6h.6M451.3 316.5h.6M437.1 324.3h.6M478.8 321.7h.6M478 316.2h.6M451.4 315.7h.6M491.1 325.6h.6M475.3 318.9h.6M461.3 324h.6M452 325.8h.6M462 313.7h.6M467.5 314.9h.6M473 317.6h.6M458.3 322.6h.6M450.2 324.1h.6M435.9 325.8h.6M449.6 324.3h.6" stroke="#000" stroke-width=".6" fill="none"/>
<path d="M443 322.4h.8M443.1 323.7h.8M444.1 321.8h.8M441.7 322.5h.8M481.6 305.2h.8M481.5 303.3h.8M484.2 305.1h.8M483.6 304.1h.8M480.7 325.1h.8M480.8 325.4h.8M480.9 325.2h.8M480.7 325.5h.8M482.8 306.6h.8M483.1 306.4h.8M483.3 305.1h.8M482.9 307.1h.8M482.2 305.8h.8M483.3 306.7h.8M444.2 323.7h.8M444.2 325.3h.8M446 323.9h.8M444.9 323.3h.8M444.6 323.1h.8M474.7 311.6h.8M473.5 311.7h.8M473.2 312.5h.8M474.8 313.2h.8M450.6 322.8h.8M450.5 323h.8M451.1 322.2h.8M450.5 321.1h.8M451.2 322h.8M451.4 322.7h.8M457.7 315.7h.8M457.1 315.9h.8M458.4 314.5h.8M456.6 314.7h.8M457.1 315.6h.8M458 316h.8M467.1 324.8h.8M465.9 325.4h.8M465.1 323.9h.8M466.1 325.5h.8M471.5 305.3h.8M471.5 305h.8M470.7 305.8h.8M474.8 320.1h.8M475.7 319.3h.8M475.8 318.9h.8M475.1 319.8h.8M477 320.1h.8M473.5 319.7h.8M474.1 320.2h.8M474.6 319.1h.8M472.8 318.1h.8M474.3 319.4h.8M474.2 318.5h.8M443.7 323.3h.8M444.2 324.5h.8M444.3 322.8h.8M443.7 323h.8M442.9 322.5h.8M484.3 307.7h.8M483 305.5h.8M482.6 306.5h.8M482.7 307.7h.8M484 305.7h.8M484.1 307.3h.8M454.2 317.1h.8M454.4 318.3h.8M454.7 316.9h.8M454 317.2h.8M453.5 317.9h.8M466.3 314.8h.8M466.7 314.4h.8M467.9 315.8h.8M465.5 314.9h.8M466.3 314h.8M465 314.2h.8M488.9 313.5h.8M445.3 326h.8M445.2 325.3h.8M444.1 324.1h.8M456.2 323.4h.8M455.9 324.5h.8M455.7 322.7h.8M456.4 323.2h.8M456.6 323.3h.8M457.2 324.6h.8M465 309.2h.8M461.2 317.6h.8M460.6 316.8h.8M462 317.3h.8M462.1 317.4h.8M452.2 321.8h.8M450.9 323h.8M452.5 322.2h.8M451.8 323.3h.8M452.4 320.8h.8M460.5 315.4h.8M460.7 314.3h.8M460.2 313.7h.8M460.3 314.1h.8M459.7 314.7h.8M459.6 312.8h.8M467.2 311.2h.8M467.9 309.9h.8M467.7 309.9h.8M467.4 311.2h.8M458.2 324.3h.8M456.2 324.1h.8M456.4 324.5h.8M456.8 322.9h.8M456.2 323.2h.8M456.3 322.1h.8M456.4 321.2h.8M464.8 318.3h.8M464.2 317.3h.8M465.7 317.4h.8M478.7 302.4h.8M478.8 301.6h.8M478.6 301.1h.8M487.2 323h.8M487.4 323.1h.8M487.7 321.5h.8M486.1 321.2h.8M485.9 323.4h.8M486.5 322.7h.8M452.5 319.2h.8M451.2 319h.8M451.4 319.2h.8M440.6 322.8h.8M441 323h.8M489.5 321h.8M487.5 320h.8M489.5 321.3h.8M479.7 300.5h.8" stroke="#000" stroke-width=".8" fill="none"/>
<path class="wl2" d="M433.3 326.1H492A58.7 58.7 0 0 0 484.1 296.8Z"/>
<text class="k2" x="427.3" y="331.2">0001</text>
<text class="k2" x="480.4" y="331.2">2110</text>
<path d="M483.8 327.9h2.6M487.3 327.9h2.6" stroke="#000" stroke-width=".5" fill="none"/>
<text class="k2" x="483.1" y="291.9">1010</text>
<path d="M490 288.5h2.6" stroke="#000" stroke-width=".5" fill="none"/>
</g>
<g id="ipf-12">
<path d="M590.1 278.2h.6M596.3 306h.6M582.2 292.3h.6M583.5 282.8h.6M587.8 280.7h.6M590.7 280.9h.6M585.6 305.8h.6M591.2 277.4h.6M590.7 302.4h.6M595.9 291.4h.6M583.3 289.7h.6M595.5 294h.6M590.9 305h.6M587.5 300.5h.6M594.4 284.5h.6M585.3 295.1h.6M584.8 283.5h.6M588.5 291.4h.6M591.6 281.8h.6M595.1 300.4h.6M588 298.6h.6M592.5 301.1h.6M593.8 290.7h.6M589.5 300.4h.6M583.8 288.4h.6M592.3 293.2h.6M589.3 289.5h.6M584.8 306.4h.6M589.8 281h.6M583.4 294.4h.6M591.7 282.8h.6M592.5 283.1h.6M591.9 302.4h.6M591.4 302.1h.6M597.7 297h.6M590.6 297.6h.6M582.7 291h.6M589.1 305.1h.6M587.5 298.3h.6M593.5 295h.6M587.2 290.9h.6M596.1 300.3h.6M596.4 301.3h.6M582.6 285.5h.6M591.4 301.3h.6M584.2 284.4h.6M586.7 296.3h.6M587.5 298.7h.6M583.3 284.2h.6M587.2 281.6h.6M594.5 297.4h.6M586 284.2h.6M581.5 287.3h.6M594.7 300h.6M585.2 286.1h.6M589.8 288.8h.6M589 286.7h.6M592.2 281.7h.6M589.6 299.8h.6M595.3 305.5h.6M593.5 290.6h.6M587.2 299.3h.6M582.3 283.1h.6M584.6 303.8h.6M588.5 296.2h.6M592 292.6h.6M590.9 290.5h.6M596.1 304.7h.6M592.3 279.7h.6M595.7 289.2h.6M588.8 294.4h.6M587.9 292.9h.6M593.7 284.3h.6M584.1 300.5h.6M588.8 305h.6M585.3 302.9h.6M583 293.2h.6M584.3 296.2h.6M586 287h.6M587.7 288.7h.6M592.3 296.1h.6M597 292.7h.6M591.8 282.1h.6M596.9 301.2h.6M592.1 287.5h.6M581.4 284.6h.6M591.1 280.3h.6M588.8 284h.6M584.6 290.9h.6M581.9 287.9h.6M594.9 298h.6M592.7 283h.6M579.3 284.4h.6M581.9 286.2h.6M590.1 285.9h.6M587.6 288.4h.6M598.6 306.2h.6M589.6 287.8h.6M586.8 284.1h.6M593.7 290.1h.6M586.9 290.9h.6M584.9 291.1h.6M592.9 298.4h.6M589.5 292.8h.6M593.1 281.9h.6M594.7 291.2h.6M588.1 292.8h.6M580.8 286.4h.6M592.1 283.4h.6M588.1 284.4h.6M589.7 290.4h.6M587 297.4h.6M592.3 293.9h.6M594.3 304.7h.6M595.8 303.9h.6M588.6 295.9h.6M587.8 300.3h.6M595.4 303.1h.6M592.1 303.1h.6M588.9 283.4h.6M588.5 280.9h.6M582.6 288.1h.6M592.7 282.7h.6M584.5 291.5h.6M597.1 300.5h.6M593.7 303.8h.6M597 297.4h.6M593.1 294.2h.6M587.4 293.7h.6M587.6 293.8h.6M593.6 288.4h.6M582.4 292.8h.6M590.6 300.4h.6M582.6 286.3h.6M594.9 300.4h.6M596.7 297h.6M593.6 282.5h.6M593.5 306h.6M583.6 282.7h.6M589.2 283.6h.6M587.5 288h.6M598 303.5h.6M585.7 298.2h.6M596.4 303.2h.6M589.6 296.5h.6M594.1 306.2h.6M594.9 287.9h.6M594 288.9h.6M591.7 282.3h.6M592 290.2h.6M596 299h.6M583.3 282.5h.6M598.1 302h.6M597.1 303.1h.6M587.4 298.8h.6M585.4 283.1h.6M585.6 280.1h.6M590.3 297.8h.6M588.6 283.4h.6M589.4 284h.6M591.4 283.9h.6M588.1 305.6h.6M592.1 303.4h.6M589.8 295.5h.6M584.1 287.9h.6M594.7 295.1h.6M593.3 286h.6M582.5 287.2h.6M584.1 282.1h.6M594.5 300.6h.6M593.6 296.4h.6M590.3 302.1h.6M587.3 303h.6M585.3 286h.6M594.2 305.1h.6M590.5 281.2h.6M595 294.7h.6M593.9 288.3h.6M587.7 298.1h.6M582.6 289.3h.6M589.1 302.4h.6M595 289.4h.6M592.3 299.6h.6M588.9 285.7h.6M583.5 286.7h.6M588.1 299.9h.6M588.1 296.8h.6M592.9 287.2h.6M588.3 296h.6M588.9 305.3h.6M592.8 302.4h.6M591.6 284.4h.6M590.3 300.3h.6M594.1 293.3h.6M584.4 291.2h.6M589.1 287.9h.6M592.2 300.5h.6M584.8 303.2h.6M591.2 284.3h.6M595.2 300.1h.6" stroke="#000" stroke-width=".6" fill="none"/>
<path d="M588.4 296.6h.9M588.3 296.5h.9M587.9 297.2h.9M588.3 296.9h.9M588.8 296.9h.9M586.9 297.4h.9M581.4 285.9h.9M580.6 285.8h.9M585.7 305.9h.9M586.6 304.8h.9M584.9 281.3h.9M586.1 286.8h.9M584.3 284.5h.9M584.2 286.6h.9M584.2 285.6h.9M586.5 287.1h.9M586.4 285.7h.9M587.7 296.6h.9M588 298.1h.9M588.4 297.6h.9M579.8 284.1h.9M593 297.9h.9M594.4 300.2h.9M592.3 299.5h.9M593.1 299.5h.9M593.6 298.4h.9M586.5 298.6h.9M586.9 299.7h.9M586.1 299.5h.9M586.1 298.7h.9M585.5 299.1h.9M586.6 302.4h.9M586.4 302.4h.9M586.1 302.4h.9M587.1 301.7h.9M587.8 289h.9M588 287.1h.9M587.3 288.5h.9M587.9 287.7h.9M588.9 288.6h.9M584.6 296.1h.9M584.8 296.3h.9M582.6 283.2h.9M590.2 292.8h.9M590.6 292.2h.9M590.9 294.2h.9M585.9 305.9h.9M586.2 299.8h.9M585.8 300.8h.9M586.9 300.8h.9M586.7 301.4h.9M590.2 288.9h.9M589.7 288.4h.9M588.9 287.7h.9M588.5 302.3h.9M589 303.8h.9M587.5 302h.9M587.3 303.7h.9M581.6 285.3h.9M583.2 288.4h.9M586.8 302.4h.9M587.8 301.9h.9M587.8 300.8h.9M589.1 283.3h.9M590.5 283.7h.9M589.9 283.1h.9M588.4 283.3h.9M594.8 295.8h.9M594.6 295.2h.9M595.6 294.5h.9M595.1 294.5h.9M587.4 288.3h.9M585.7 289.9h.9M587.8 291.2h.9M587.3 288.5h.9M586.8 301.2h.9M587.2 301.5h.9M586.9 300.2h.9M590.8 286.9h.9M590.9 288.2h.9M591 287.9h.9M589.6 288.3h.9M589.2 288.9h.9M586.3 301.7h.9M586.1 301.3h.9M586.2 302h.9M585.5 299.4h.9M585.2 301.5h.9M586.6 294.3h.9M585.2 293.8h.9M586.3 294.7h.9M587.6 294.5h.9M587.2 293.5h.9M585.9 293.7h.9M583.1 290.7h.9M584.7 292h.9M584.8 290.5h.9M593.4 295.9h.9M593.7 296.7h.9M594.1 296.1h.9M590.2 303.8h.9M589.3 305.8h.9M590.4 305h.9M590.5 305.3h.9M584.6 294h.9M584.3 293.5h.9M584.9 293.8h.9" stroke="#000" stroke-width=".9" fill="none"/>
<path class="wl2" d="M540.2 306.4H599.2A59 59 0 0 0 591.3 276.9Z"/>
<path class="wd" d="M584.8 306.4A44.6 44.6 0 0 0 578.8 284.1"/>
<text class="k2" x="534.2" y="311.5">0001</text>
<text class="k2" x="587.6" y="311.5">2110</text>
<path d="M591 308.2h2.6M594.5 308.2h2.6" stroke="#000" stroke-width=".5" fill="none"/>
<text class="k2" x="590.2" y="272">1010</text>
<path d="M597.1 268.6h2.6" stroke="#000" stroke-width=".5" fill="none"/>
</g>
<g id="ipf-13">
<path d="M81.4 491.5h.5M88.1 480.2h.5M108.8 482.7h.5M81.4 487.5h.5M78.9 485.2h.5M84.2 493.3h.5M102.3 491.6h.5M98.4 473.6h.5M105.4 468h.5M107.9 481.4h.5M106.2 491.2h.5M103.2 482.3h.5M90.9 477.8h.5M109.7 474.4h.5M96.4 483.9h.5M112.6 486.5h.5M110 491.5h.5M112.2 483.7h.5M109.9 472.7h.5M85.5 485.8h.5M102.4 471.4h.5M104 489.6h.5M73.9 482.7h.5M71.4 493.9h.5M95.4 491.8h.5M76.6 487.8h.5M97.2 491.2h.5M74.3 492h.5M105.5 477.9h.5M86.2 488.1h.5M83.6 482.4h.5M90.1 484.1h.5M83.4 488.3h.5M82.5 483.5h.5M96.2 482.7h.5M86.9 485.6h.5M105.2 465.5h.5M69.3 488.5h.5M81.2 478.4h.5M65.5 493.4h.5M111 492.2h.5M104 471.4h.5M99.5 484.1h.5M87.8 488.3h.5M90.6 485.7h.5M102.4 479.8h.5M67.1 487.3h.5M68.8 488.9h.5M95.7 473.7h.5M112.3 481.7h.5M93.9 483.9h.5M95.6 470.6h.5M83.4 480.9h.5M88.4 492.3h.5M75.5 485h.5M106.5 483.6h.5M81.6 493h.5M106.2 479.5h.5M70.6 492.3h.5M80.6 488h.5M101.1 472.3h.5M99 491h.5M102.4 473.1h.5M84.2 480.8h.5M92 481.9h.5M98.5 468.3h.5M106 486.7h.5M88.2 493.9h.5M75.3 491.7h.5M100.3 484.5h.5M92.2 488.4h.5M93.4 485.4h.5M107.1 493.2h.5M101.9 482.1h.5M72.7 490.1h.5M68.1 486.2h.5M85.3 478.5h.5M76.3 493.8h.5M108.6 486.6h.5M97.2 493.1h.5M85.7 488.3h.5M82.3 482.7h.5M97.1 489.9h.5M101.5 479.9h.5M94.6 485h.5M100 484.1h.5M71.6 487.2h.5M113.5 486.1h.5M99.5 474.7h.5M107.3 490.4h.5M98.1 473.8h.5M113.4 489.4h.5M89.6 484.1h.5M105.7 469.8h.5M104.1 473.7h.5M76.2 481.3h.5M89.1 479.1h.5M87.9 478.3h.5M102.5 486.9h.5M68.2 486.2h.5M108.2 490.4h.5M107.4 480.2h.5M109.4 483.9h.5M109.6 474.7h.5M76.5 485.7h.5M89 487.1h.5M100.5 474.1h.5M77.1 489h.5M78 482.3h.5M105 472.9h.5M86.1 492.8h.5M112.5 488.5h.5M79.1 487.7h.5M64.6 493.1h.5M111.7 478.5h.5M79 480.6h.5M81.6 492.9h.5M90.7 475.8h.5M70 491.8h.5M77.2 489.8h.5M76.8 481.9h.5M109.9 491.7h.5M91.2 487h.5M107.6 487.1h.5M75.9 486.7h.5M84.2 478.4h.5M108.1 484h.5M92.7 476.8h.5M99.8 483.2h.5M108.1 483.9h.5M87.7 492.7h.5M73.4 485.3h.5M66.3 487h.5M91 484.4h.5M97.7 468.9h.5M100.3 487.6h.5M73.2 492.5h.5M96.6 489.7h.5M102.9 475.2h.5M84.3 488.7h.5M60.7 492.2h.5M91.9 492.6h.5M104.6 469.2h.5M102.1 484.7h.5M83.9 483h.5M91.5 484.1h.5M94.1 474.6h.5M73.3 492.8h.5M96.5 490.6h.5M84.1 486.3h.5M108.5 478.8h.5M72 490.8h.5M71.3 489.5h.5M72.3 488.1h.5M102.1 474.3h.5M61.6 490.1h.5M99.7 486.3h.5M110.7 482.3h.5M100.8 489.1h.5M72.1 483.8h.5M92.8 473.5h.5M96.8 482.1h.5M85.1 479.4h.5M102.8 472.1h.5M93.8 480.4h.5M107.5 468h.5M94 471.1h.5M107.4 472.8h.5M80.6 490.5h.5M98.4 473.9h.5M92.7 477.6h.5M90.5 493.3h.5M86.6 487.6h.5M62.2 492.5h.5M81.2 492.7h.5M85.8 487.6h.5M89.1 480.5h.5M104.9 491h.5M73.3 487.3h.5M90.3 488.5h.5M109.6 477.1h.5M80.5 483.1h.5M78.3 480.4h.5M96 490.5h.5M82.4 479.7h.5M91.9 490.3h.5M105 475.6h.5M97.8 488.3h.5M102 469.2h.5M71.8 493.1h.5M99.2 485h.5M105.8 475.4h.5M111.8 483.3h.5M112.3 490.2h.5M107.6 489.4h.5M101.6 467.4h.5M84.8 478.2h.5M87.9 493.2h.5M97.3 474.8h.5M85.9 477h.5M110.1 488.7h.5M86.3 491.1h.5M64 493.8h.5M65.8 493.3h.5M78.8 489.3h.5M112 482h.5M64.3 488.5h.5M75 492.4h.5M104.3 481.6h.5M104.8 484.1h.5M109.8 486.3h.5M89.9 484.2h.5M78.6 487.5h.5M103.5 471.6h.5M101.5 487.2h.5M75.2 487.6h.5M90.8 489.8h.5M101.1 468.2h.5M98.9 470.5h.5M107.2 490.6h.5M73.3 491.2h.5M69.1 490.6h.5M86.4 491.5h.5M80.5 479.6h.5M93.6 477.4h.5M108.8 493.9h.5M104.2 481.2h.5M103.6 473.1h.5M99 477.7h.5M79.9 492.9h.5M94.8 479h.5M86.7 483.4h.5M85.5 479h.5M74.5 486h.5M106.5 468.6h.5M100.4 485.5h.5M104.5 474.7h.5M93.8 480.4h.5M104.6 483.7h.5M82.2 483.5h.5M87.2 485h.5M89.3 486h.5M73.8 492.8h.5M75 483h.5M87.3 484.1h.5M91 493.9h.5M90 474.7h.5M107 485.3h.5M100.8 468.4h.5M96.7 486.5h.5M91 479.6h.5M71.8 485.8h.5M113.9 492.4h.5M94.6 489.8h.5M100.4 491.8h.5M74 487.7h.5M92.9 474.7h.5M96.4 473.4h.5M90.8 473.6h.5M107.3 480.1h.5M104.7 473.3h.5M92.6 486.7h.5M82 482.6h.5M95.4 492.1h.5M110.8 484.7h.5M103.7 489.5h.5M103.2 472.4h.5M103.9 493.5h.5M97.1 479.9h.5M88.2 479h.5M93.8 490h.5M108 484.9h.5M93.2 492.6h.5M101.5 486h.5M106.6 493.7h.5M83.8 485.5h.5M72.8 490.3h.5M77 487.7h.5M101.8 489.6h.5M103.4 475.6h.5M75.8 485h.5M108.6 482.6h.5M82.2 488.4h.5M107.2 467.4h.5M60.7 493h.5M77.5 489.6h.5M63.5 489h.5M73.3 490.2h.5M106.2 490.9h.5M65 490.1h.5M70 494.1h.5M107 480.8h.5M101.7 487.5h.5M83.8 488.8h.5M98.7 468.6h.5M105 477h.5M85 482.6h.5M63.8 492.5h.5M112.3 486h.5M73.8 490.6h.5M108.6 470.2h.5M78.9 482.9h.5M98.4 486.9h.5M102.7 477.4h.5M68.8 489h.5M80 492.7h.5M111.6 483.3h.5M78.4 487.9h.5M108.9 493.2h.5M94.4 475.2h.5M96 487.4h.5M90.6 483h.5M80.2 486.1h.5M74.2 488.8h.5M109.1 492.4h.5M104.3 480.5h.5M110.9 484.3h.5M61.4 492.3h.5M100.4 478.5h.5M107 479h.5M104.4 493h.5M97.2 492.9h.5M96.7 480.8h.5M78.1 484.5h.5M108.1 492.4h.5M112.9 480.8h.5M108.9 478.1h.5M97.7 491.6h.5M82.8 483.3h.5M86.5 491.2h.5M106.8 469.8h.5M110.6 474.6h.5M100.3 491h.5M67.6 493.9h.5M81.2 485.2h.5M98.9 476.7h.5M78.2 490.6h.5M84.8 476.3h.5M76.3 489.2h.5M99.1 471.6h.5M98.4 471.4h.5M102.6 470.6h.5M100.4 470.4h.5M93.4 474h.5M113.7 489h.5M69.8 492.6h.5M88.1 491.8h.5M78.3 487.4h.5M104.1 472.3h.5M86.4 488.3h.5M104.2 475.3h.5M107.7 489.5h.5M103.5 477h.5M101.6 476.2h.5M112.1 480.2h.5M63.2 493.7h.5M110.7 493.3h.5M100 469.4h.5M87.5 485h.5M106.1 480h.5M108.1 477.3h.5M94.7 491.8h.5M95 480.9h.5M94.3 474.7h.5M111.9 480.2h.5M85.9 482.4h.5M91.6 477.1h.5M104.8 479.2h.5M74.9 489.1h.5M84.3 492.4h.5M80.1 492.6h.5M62.7 492.9h.5M112.9 493.3h.5M96.4 480.7h.5M86.3 492.3h.5M71.1 485.5h.5M69.7 487.3h.5M92.7 478h.5M106.3 484.8h.5M101.3 470.3h.5M112.4 493.2h.5M102.9 471.8h.5M107.3 477.9h.5M92.6 482h.5M78.6 488.4h.5M100 484.9h.5M88 481.9h.5M110.9 481.6h.5M103.4 473.6h.5M106.1 475.9h.5M93.7 479.1h.5M111 477.4h.5M79.5 480.4h.5M76.2 483.1h.5M98.5 473.2h.5M86.8 478.3h.5M96.8 493.8h.5M79.8 484h.5M73.8 486.9h.5M105.3 471.6h.5M74.6 482.1h.5M91.9 491.8h.5M94.1 490.7h.5M82.8 491.1h.5M96.5 484.1h.5M106.3 476.1h.5M69.6 489.2h.5M99.1 487.7h.5M86.6 489.7h.5M97.8 488.2h.5M100.2 468.9h.5M74.3 484.1h.5M100.9 471.3h.5M97.2 489h.5M89.8 483.8h.5M82.5 478.3h.5M97.2 483.5h.5M110.5 481.1h.5M91.3 485.3h.5M110.5 477.1h.5M94.5 491.3h.5M106.4 492.6h.5M72.8 487.5h.5M96.3 483.9h.5M99.4 473.8h.5M93.8 491.5h.5M85.4 490.9h.5M89.1 491.3h.5M66.8 493.3h.5M89 475.7h.5M106.2 469.1h.5M107.1 476.9h.5M106.7 475.5h.5M96.4 476.8h.5M59.4 491.5h.5M109.4 470.5h.5M70.4 485.9h.5M62.2 493h.5M108 487.3h.5M65.5 489.9h.5M73.9 484.8h.5M106.5 470.1h.5M95.3 486.1h.5M98.2 492.8h.5M96.5 483.6h.5M113 485h.5M67.3 488.1h.5M80.6 486.9h.5M97.3 473.7h.5M104.9 476.3h.5M96.5 489.7h.5M68.8 490.1h.5M107.7 489.1h.5M72.3 484h.5M60.7 491.5h.5M105.2 487.8h.5M104.3 472.1h.5M94.1 481.7h.5M111.8 493.9h.5M58.9 493.8h.5M103.2 473.2h.5M108.1 493.4h.5M78.5 485.6h.5M96.1 475.1h.5M77.6 489.9h.5M99.4 480.3h.5M88.2 487.2h.5M102.3 477.4h.5M109.7 490.1h.5M98.5 475.8h.5M108.8 470.2h.5M109.9 487.4h.5M102.7 490h.5M102 478h.5M75.7 490.5h.5M98.3 473.4h.5M83.1 484.7h.5M111.3 482.8h.5M78.8 485.4h.5M104.6 473.1h.5M71.7 492.4h.5M63.2 489.2h.5M105.8 465.9h.5M94.7 486h.5M106.7 477.5h.5M92.6 473.8h.5M93.1 477.8h.5M72.6 483.6h.5M92.8 487h.5M102.4 478.3h.5M107 478.2h.5M108.8 478.1h.5M75.4 490.9h.5M96.9 473.2h.5M108.1 489.7h.5M110.2 493.5h.5M98 487h.5M87.2 480.4h.5M66.2 492.9h.5M106.9 470.6h.5M83 489.5h.5M84.8 488.1h.5M82.3 493.1h.5M111 486.1h.5M77.9 480.5h.5M110.3 486.7h.5M101.9 484.8h.5M88.1 484.6h.5M96.9 475.9h.5M103.3 486.9h.5M94.9 490.4h.5M107.9 471.1h.5M81.2 481.6h.5M100.8 493.3h.5M88.9 480.3h.5M85.2 491.7h.5M78.9 483h.5M101 483h.5M106.9 489.1h.5M77.1 489.3h.5M82.8 493.2h.5M108.6 480.1h.5M108.6 490.2h.5M70.3 486.5h.5M81.6 489.3h.5M94.8 482h.5M103.6 468.2h.5M62.9 491.6h.5M103.3 484.7h.5M87.3 483.9h.5M111.2 490.6h.5M101.3 493.4h.5M80.5 490.4h.5M87.3 489.7h.5M67.1 491.2h.5M73.8 484.1h.5M67.7 487h.5M85.2 492.9h.5M88.4 482.1h.5M96.2 470.4h.5M89.6 485.6h.5M94.7 482.3h.5M95.8 491.1h.5M77.1 492.1h.5M107.6 467.6h.5M78.2 481.1h.5M71 491.9h.5M102.3 471.5h.5M106.5 475h.5M70.2 487.2h.5M104.4 490.6h.5M99.5 471.7h.5M95.7 472.4h.5M113.6 485.6h.5M79 492.4h.5M82.4 487.1h.5M93.5 491.6h.5M88 476.7h.5M101.4 480.7h.5M76.2 484h.5M77.4 481h.5M86.1 492.7h.5M104.5 470.6h.5M94.8 471.8h.5M106.2 466h.5M99.3 494.1h.5M113.5 491.1h.5M85.3 482.8h.5M90.4 476.2h.5M60.7 493.7h.5M80.6 493.6h.5M87.7 493.6h.5M78.7 482.7h.5M104.9 479.2h.5M71 485.7h.5M100.8 490h.5M108.7 475.8h.5M93.5 493.4h.5M112.7 492.1h.5M81.8 481.9h.5M80.4 480.5h.5M92.5 478.2h.5M97.8 474.2h.5M66.2 492.5h.5M101.8 489.3h.5M104.4 479.9h.5M107.8 467.3h.5M80.8 487.3h.5M87.6 483h.5M94.7 480.6h.5M60.6 491.8h.5M88.6 482.6h.5M89.6 485.6h.5M81.1 491h.5M90.5 491h.5M65.5 493.7h.5M60.9 492.1h.5M80 479.8h.5M93.6 480.1h.5M108 471.3h.5M94.6 483.2h.5M91.5 485.8h.5M108.8 484.1h.5M73.3 483.1h.5M104.6 483.6h.5M93 493.3h.5M101.1 482.8h.5M81.1 493.7h.5M85.7 487.3h.5M90.4 487.2h.5M108.7 472.7h.5M77.9 487.7h.5M102.6 488.4h.5M103.4 472.1h.5M100.9 480.1h.5M84.5 479.5h.5M104.8 468.5h.5M89.1 487.2h.5M92 485h.5M112.6 491.5h.5M70 487.3h.5M57.5 492.6h.5M92.1 473.4h.5M106.5 493.2h.5M86.9 476.4h.5M83 489h.5M106.8 480.7h.5M104.9 472.4h.5M70 492.1h.5M60.3 492h.5M93.1 477.9h.5M90.3 488.7h.5M109.8 482h.5M88.4 492.8h.5M91 478.7h.5M94.9 475.7h.5M98.2 473.2h.5M84.6 477.9h.5M111.4 483h.5M97.9 491.2h.5M73.6 489.4h.5M96.7 475.7h.5M92.8 492.1h.5M84.9 482.3h.5M107.7 492.4h.5M96.5 490.2h.5M103.9 475.3h.5M83.2 490.4h.5M107.5 478.5h.5M100.6 478h.5M114.1 492.1h.5M91.2 488.6h.5M99.1 478.1h.5M96.8 479.5h.5M99.7 479.9h.5M102.2 471.8h.5M104.4 484.9h.5M104 472.5h.5M73.5 487.8h.5M94.2 491.5h.5M72.2 489.1h.5M84.2 481.7h.5M65.2 488.5h.5M66.3 492.6h.5M104.9 485.7h.5M81.4 486.4h.5M61.3 491.4h.5M76.7 484.2h.5M85.7 477.5h.5M109.9 487.1h.5M89.8 488.3h.5M83 481h.5M63.4 493.5h.5M66 491.2h.5M75.7 487.6h.5M103 479.9h.5M87.9 476.7h.5M106 476.1h.5M90 477.5h.5M106.9 477.9h.5M94.4 479.9h.5M84.7 482.2h.5M85.6 477.3h.5M103.1 474.8h.5M109.3 484.7h.5M91.9 482.7h.5M104.2 492.6h.5M98.9 473.1h.5M76.2 483.9h.5M108.7 491.3h.5M109.2 471.2h.5M103.9 485.6h.5M94.9 490.5h.5M103.7 471.6h.5M97.4 476.5h.5M105.3 467.6h.5M88.2 487.9h.5M103 474.2h.5M106 472.6h.5M96.9 476.8h.5M103.2 486.6h.5M84.2 478.4h.5M109.9 473.8h.5M97 488.2h.5M107.8 486.8h.5M78.3 490.6h.5M98.9 480h.5M86.8 480.3h.5M100.4 467.4h.5M90.9 476.6h.5M99.7 488.4h.5M97 482h.5M102.2 471.7h.5M108 488.2h.5M74.7 486.7h.5M108 491.5h.5M86.4 482.4h.5M111 475.2h.5M90.6 492h.5M82.7 483.7h.5M95 479.5h.5M83.7 482.4h.5M69.4 489.9h.5M112.5 491.7h.5M85 486.4h.5M110.5 473.8h.5M88.3 482.8h.5M85.5 489.3h.5M107.7 466.9h.5M107.2 480.6h.5M79.2 483.4h.5M59.3 493.7h.5M79.3 481.4h.5M57.6 492.7h.5M109.2 475.2h.5M106.7 491.3h.5M105.1 487.4h.5M86.7 476.6h.5M98.3 486.9h.5M108.1 484.9h.5M72.2 490.5h.5M110.1 484.9h.5M97.8 482.8h.5M102.7 491.8h.5M68.4 492h.5M85.7 493.5h.5M69.9 489.2h.5M92.8 475.2h.5M104.4 476.3h.5M86.5 480.3h.5M108.2 491.7h.5M74.4 491.5h.5M107.5 487.2h.5M106.9 493.4h.5M67.7 488.1h.5M96.3 476.8h.5M102.9 489.4h.5M111.7 493.7h.5M102.1 474.5h.5M69.6 490.3h.5M106.1 482.8h.5M111.8 491.7h.5M78.3 487.2h.5M82.3 491.6h.5M71.2 487.6h.5M102.5 492.9h.5M65.4 490.7h.5M97.1 480.7h.5M101.7 473.3h.5M96 489.9h.5M101.6 471.4h.5M84.2 487.9h.5M87.4 476.5h.5M71.7 491.5h.5M110.8 477h.5M84 490.2h.5M94.7 488.7h.5M89.3 492.4h.5M110.5 475h.5M66.3 492.4h.5M103.8 471.6h.5M99.5 487.7h.5M105.9 474.2h.5M86.3 481.1h.5M103.5 470.9h.5M79.7 480.3h.5M94.3 481.8h.5M91.7 476.9h.5M80.7 479.8h.5M109.7 477.6h.5M109.2 471.9h.5M108.9 486.2h.5M101.6 469.8h.5M67.5 494h.5M75.9 493.3h.5M96.2 477.3h.5M89.9 482.1h.5M85.8 486.2h.5M103.2 471.1h.5M73.2 490.2h.5M74.4 487.7h.5M105.3 477.9h.5M97.4 477.8h.5M97.1 479.9h.5M110.4 480.2h.5M95.9 477.2h.5M96 481.1h.5M59.9 490.8h.5M97.2 477.8h.5M101.9 487.9h.5M109.8 484.8h.5M69 492.2h.5M108.4 488.5h.5M80.7 480.1h.5M105.6 479h.5M59.4 492.5h.5M64.8 490.7h.5M104.5 480h.5M82 485.2h.5M79.3 488.6h.5M74 490.5h.5M103.7 472.5h.5M99 468.2h.5M86.8 481h.5M95.9 481.1h.5M106.3 491.5h.5M93.9 481.9h.5M68.3 488.6h.5M110.3 485.9h.5M79.4 492.4h.5M69.4 487.6h.5M58.5 491.9h.5M102.3 472.6h.5M85.5 490.8h.5M107.9 467.6h.5M61.5 494h.5M99.1 493.9h.5M95.2 481.8h.5M72.9 487.2h.5M102.9 486.1h.5M92.8 486h.5M101.4 480h.5M98.7 490.3h.5M97.6 469.1h.5M91.9 481.7h.5M97.6 488h.5M92.5 491.4h.5M83.4 479.8h.5M94.1 472.1h.5M108.3 480.1h.5M87.2 478.7h.5M91.7 484.4h.5M112.6 491.8h.5M83.7 482.7h.5M72.5 485.9h.5M76.3 483.9h.5M91.6 478.5h.5M76.4 486h.5M85.5 479.4h.5M105.3 469h.5M100.5 468h.5M109.8 475.8h.5M100.5 482.6h.5M107.7 480.1h.5M90.1 476.3h.5M105.3 477.9h.5M94.1 480.6h.5M98.5 477.7h.5M86.1 489.4h.5M111.8 481.6h.5M112.3 484.9h.5M104.9 481.7h.5M101 476.3h.5M81.2 488.5h.5M95.2 471.1h.5M103.9 487.5h.5M79.9 486.3h.5M102.5 472.7h.5M100.3 480.5h.5M89.2 484.8h.5M108 489.2h.5M89.1 478.8h.5M107.8 483.4h.5M97.3 494h.5M106.6 472.3h.5M78.8 482h.5M66.6 490.5h.5M79.7 489.1h.5M94.9 491.2h.5M103.3 493.9h.5M80.1 484.9h.5M62.6 490.6h.5M102.4 485h.5M102.6 485.5h.5M66.7 491.6h.5M107.6 484.6h.5M102.8 483.5h.5M86 487.3h.5M92.8 486.9h.5M66.9 493.7h.5M91.2 477.4h.5M80.8 483.9h.5M112.4 482.8h.5M85.2 485.7h.5M75.6 482.4h.5M96.8 489.5h.5M97.3 478h.5M83.4 478.6h.5M109 478.9h.5M88.8 477.4h.5M91.5 472.6h.5M90.5 473.4h.5M107.5 490.3h.5M102.8 475.1h.5M103.5 485.6h.5M109.6 485.1h.5M73.6 486.4h.5M68.7 493.1h.5M93.5 489.5h.5M107.3 474.2h.5M109.2 492.8h.5M100.7 479.7h.5M61.6 493.8h.5M67.6 491.7h.5M92.2 489.8h.5M93.4 474.2h.5M83.5 489.2h.5M108 493.3h.5M72.2 485.5h.5M110.9 478.9h.5M96.9 482.3h.5M92.7 475.3h.5M65.1 487.8h.5M60.3 492.6h.5M99.5 473h.5M104.6 471.9h.5M88.5 493.7h.5M72.5 490.3h.5M72.9 487.4h.5M76.1 492.8h.5M103.2 476.5h.5M95.4 476.2h.5M76.3 489.8h.5M83.2 491.8h.5M103.5 472h.5M95.7 478.6h.5M92.6 482.5h.5M86.4 483.6h.5M79.6 488.4h.5M96.3 493.4h.5M83.3 491.5h.5M93.2 476.2h.5M108 488.8h.5M88.4 476.7h.5M103.2 478.8h.5M86.3 485.4h.5M100.5 476.4h.5M103.7 483h.5M97.3 493.4h.5M99.1 476.2h.5M97.8 490.3h.5M107.3 468.9h.5M82 480.7h.5M96.2 489.8h.5M110.8 476.8h.5M109.1 491.1h.5M108.5 487.3h.5M100.7 470.1h.5M91.3 480.5h.5M72.5 487.4h.5M92.8 490.7h.5M105.7 465.2h.5M101.3 491.8h.5M82.5 484.1h.5M104.1 477.3h.5M83.8 492.2h.5M94.4 491.5h.5M104 483.5h.5M75 491h.5M85.9 482.8h.5M93.5 477h.5M92.5 487.8h.5M77.5 482.1h.5M61.8 492.2h.5M110.3 490h.5M111.2 488.9h.5M68.7 494h.5M89.1 478h.5M107.4 490.5h.5M70.9 493.4h.5M84.4 487.6h.5M104.5 480.6h.5M90.9 481.7h.5M80 484.6h.5M89.3 490.7h.5M88 477.9h.5M78.7 481.8h.5M62.2 490.3h.5M105 471.8h.5M71.5 492.4h.5M96.8 493.2h.5M113.2 486.9h.5M100.5 484.6h.5M86.1 480.5h.5M68 493.5h.5M113.8 488.5h.5M98 468.8h.5M81.9 484.7h.5M84.7 487.1h.5M92.9 488.1h.5M84.5 491.8h.5M80.9 479.4h.5M108.9 482.8h.5M107.7 488.2h.5M103.9 467.8h.5M96.7 475.4h.5M110.9 481.4h.5M84.8 493.2h.5M101.2 468.3h.5M101.7 473.4h.5M113.5 490.6h.5M97.8 473.6h.5M103.6 483.1h.5M73.6 493.5h.5M106.6 479h.5M71.7 492.8h.5M81.5 488.5h.5M70.6 485.9h.5M87.8 480h.5M98.8 469.6h.5M94.6 491h.5M109.4 491.3h.5M88.6 484.5h.5M76.1 484.7h.5M109.3 478.9h.5M88.6 484.1h.5M96.1 491h.5M96.8 491.5h.5M105.1 472.3h.5M64 493.2h.5M90.6 485.3h.5M94.9 478.3h.5M108.2 472.1h.5M107.1 482.5h.5M82.2 484.6h.5M103.3 475.9h.5M94.3 471.5h.5M94 482.5h.5M103.6 484.4h.5M86.5 493.4h.5M103 466.5h.5M107.3 481.6h.5M61.9 489.7h.5M104 465.3h.5M90.4 479.8h.5M95.8 481.6h.5M78.2 492h.5M83.1 491h.5M85.5 478h.5M76.5 489.2h.5M99.7 477.7h.5M91 472.8h.5M73.4 483.6h.5M101.8 490.7h.5M78.8 485.8h.5M105.4 478.8h.5M105.7 482.2h.5M84.8 484.1h.5M106 485.6h.5M108.9 471.1h.5M86.5 479.3h.5M100.1 472h.5M69.3 492.8h.5M103 485.1h.5M103.8 479.8h.5M103.3 483.1h.5M85.5 491.1h.5M106.4 473.5h.5M101.1 472.9h.5M107.5 493.9h.5M69.3 487.5h.5M106.4 484.5h.5M92.3 484.4h.5M68.6 487.2h.5M88 477.4h.5M104 471.8h.5M75.4 493.6h.5M106.3 492h.5M110.6 485.8h.5M76.5 486.4h.5M111.5 477.2h.5M105.5 483.2h.5M98.1 470.3h.5M100.5 475.2h.5M104.3 492.2h.5M72 485.3h.5M64.5 493h.5M97.8 473.8h.5M87.3 477.9h.5M61.6 491.6h.5M101.7 466.6h.5M70.8 491.5h.5M104.6 472.9h.5M109.1 486.8h.5M88.9 489.9h.5M88.7 488.7h.5M76 490.2h.5M83.1 492.4h.5M85.5 483h.5M105.1 481.2h.5M61.7 493.3h.5M94.8 487.9h.5M87.1 478.4h.5M95.8 473.1h.5M84.5 479.5h.5M102.5 483.4h.5M98 488.8h.5M80.7 485.5h.5M109.7 482.8h.5M101.2 469.6h.5M90.7 494h.5M95.7 492.8h.5M95.9 475.9h.5M110.1 483.1h.5M107.9 481.7h.5M70.3 485.1h.5M67.7 487.4h.5M63 493.9h.5M110 491.8h.5M80.2 493.7h.5M99.7 482.6h.5M88.7 494h.5M92.5 491.4h.5M107.7 479.9h.5M86.6 485.6h.5M107.4 493h.5M96.6 482.2h.5M109.9 473.7h.5M78.7 481.1h.5M111.7 492.7h.5M79.2 486.4h.5M84.2 481h.5M79.6 480.7h.5M112.2 480.4h.5M78.3 486.4h.5M75.8 483.7h.5M91.7 476.7h.5M96.5 478.8h.5M96.9 478.7h.5M101.6 467.7h.5" stroke="#808080" stroke-width=".5" fill="none"/>
<path class="wl" d="M54.1 494.1H114.6A60.5 60.5 0 0 0 106.5 463.9Z"/>
<text class="k" x="47.1" y="500.3">0001</text>
<text class="k" x="102.8" y="500.3">2110</text>
<path d="M106.5 496.8h3M110.3 496.8h3" stroke="#333" stroke-width=".5" fill="none"/>
<clipPath id="cut"><rect x="95" y="459.1" width="30" height="6"/></clipPath><g clip-path="url(#cut)">
<text class="k" x="104.5" y="459.8">1010</text>
<path d="M112 456.2h3" stroke="#333" stroke-width=".5" fill="none"/>
</g>
</g>
<g id="ipf-14">
<path d="M141.5 525.6h.5M164.2 514h.5M165.1 515.2h.5M154.9 524.6h.5M173.5 512.8h.5M193.4 523.2h.5M193.2 512.9h.5M148.2 523h.5M161.5 518.7h.5M168.3 519.7h.5M184 525.6h.5M185.5 515.4h.5M178.7 505h.5M168.5 508.1h.5M161 513.3h.5M167.4 512.1h.5M173.1 516.4h.5M188.7 503.7h.5M168.5 513.6h.5M169.2 510.3h.5M183.8 524.7h.5M151 520.5h.5M168.6 508.2h.5M186.7 508.3h.5M172.2 512.3h.5M170.7 519.5h.5M146.7 526.9h.5M183.8 517.8h.5M179.9 512.7h.5M162.2 514.4h.5M165.4 524.6h.5M183.1 522h.5M174 510.8h.5M185.6 513.1h.5M151.6 522.5h.5M183.9 502h.5M149.7 521.1h.5M141.6 527.2h.5M164.5 517.5h.5M165.5 511.4h.5M163 526.8h.5M168.6 525.4h.5M160.2 518.8h.5M174.4 509.2h.5M180.2 525.2h.5M167.5 510.9h.5M192.3 520h.5M191.3 525.1h.5M189.5 524.5h.5M151.3 520h.5M177.1 505.4h.5M145.4 526.3h.5M178.2 515.9h.5M182.7 505.2h.5M175.3 519.8h.5M188.5 512.9h.5M181.4 503h.5M172.2 511.6h.5M166.8 512h.5M158.6 514h.5M146.8 522.9h.5M167.4 510.9h.5M182.5 507.2h.5M151.2 525.1h.5M188.3 521.3h.5M176 518.2h.5M153 517.5h.5M166.3 517h.5M180.1 507.1h.5M189.2 517.8h.5M184.8 518h.5M193.7 517.9h.5M144.3 523.6h.5M190.9 521.3h.5M185.6 520.8h.5M193.7 522.3h.5M188.7 511.3h.5M139.4 525h.5M185.8 523.3h.5M183.8 513.2h.5M172.7 511.9h.5M183.5 526.1h.5M172.9 523.5h.5M161.5 513.2h.5M164 521h.5M152.7 518.8h.5M174.8 512.9h.5M174.5 511.5h.5M152.9 520h.5M154.5 523.4h.5M164.8 525.2h.5M184.8 498.8h.5M185.4 515.2h.5M165.2 518.4h.5M181.4 525.9h.5M156.4 515.5h.5M175.9 504.4h.5M182.8 527h.5M169.6 517.9h.5M165.1 521.8h.5M180.5 509.8h.5M176.4 511.1h.5M185.3 502h.5M193.4 524h.5M168.8 511.6h.5M162.6 514.1h.5M186.1 518.6h.5M162.8 513.8h.5M173.5 524.2h.5M182.8 500.4h.5M156.8 522.6h.5M174.3 511.6h.5M150.3 525.5h.5M179.5 510.1h.5M180.3 517.2h.5M171.1 507.8h.5M154.9 526.4h.5M173.7 520.4h.5M157.1 521.5h.5M165.6 514.6h.5M170.4 520.5h.5M179.9 523.8h.5M142.3 524.2h.5M181.4 518.8h.5M150.6 519.1h.5M168.8 514.5h.5M187.2 517h.5M150.9 523.3h.5M150.5 521.6h.5M182.8 522.8h.5M169.1 524.4h.5M175.2 507.8h.5M160.3 525.4h.5M190 512h.5M178.2 517.2h.5M179.2 507.9h.5M174.1 510.6h.5M166.8 525.7h.5M156.8 520.9h.5M153.6 519.5h.5M187 524.8h.5M152 520.2h.5M188.5 519.4h.5M193.1 526.3h.5M188 521h.5M184.4 508.7h.5M162.3 520.1h.5M168.7 526.1h.5M170.4 522.6h.5M187.2 503.5h.5M183.5 525h.5M164.8 514.8h.5M189.4 512.7h.5M193 512h.5M183.9 521.1h.5M183.2 518.1h.5M153.4 526.6h.5M147.9 524.6h.5M152 526.4h.5M170 511.5h.5M176.4 522.9h.5M177.4 519.9h.5M180.6 526.5h.5M167.9 513.2h.5M171 521h.5M147.9 526.8h.5M166.2 517.8h.5M182.1 514.9h.5M190.4 517.9h.5M187.3 497.5h.5M190.3 525.3h.5M184.4 514.1h.5M171.4 507.4h.5M192 523.8h.5M150.6 519.2h.5M179.6 520.4h.5M189.2 518.5h.5M182.2 505.4h.5M181.6 505.6h.5M177.3 504.9h.5M179.5 520.7h.5M159 522.4h.5M174.3 526.3h.5M176 517.8h.5M186.4 513.8h.5M153.5 521.2h.5M185.6 498.4h.5M174.5 518.5h.5M188.4 512.7h.5M157.6 526.3h.5M190.5 506.6h.5M184.2 512.8h.5M184.3 519.9h.5M185.3 521.9h.5M181 508.5h.5M182.7 525.7h.5M172.8 523h.5M140.5 526.7h.5M166.8 515.1h.5M175.3 522h.5M174.2 523.6h.5M172.5 506.6h.5M159.4 516.8h.5M170.9 510.8h.5M165 523.1h.5M186.9 511.3h.5M181.2 512.8h.5M188.7 503.2h.5M175.3 504.5h.5M172.1 513.8h.5M151.6 525.6h.5M180.4 512.4h.5M186.4 526h.5M178.1 525.2h.5M177 511.2h.5M169.9 523h.5M166.9 511.7h.5M138.5 525.4h.5M166.5 514.8h.5M186.1 516.5h.5M164.8 513.4h.5M170.2 508.7h.5M190 516.8h.5M150.1 525.1h.5M174.4 518.7h.5M163 525.7h.5M182.5 521.1h.5M193.4 516.3h.5M184 514.2h.5M177.7 507.2h.5M158.8 514.5h.5M183.3 524h.5M154.6 520.6h.5M175.9 521.2h.5M164.6 516.4h.5M153.1 517.3h.5M171.2 521.4h.5M186 501.8h.5M161.1 523.8h.5M190 524h.5M188 499.2h.5M180.4 521.1h.5M176.5 525.3h.5M149 522.5h.5M160.6 522.4h.5M171.7 506.7h.5M172 513.2h.5M179.2 501.9h.5M189.7 519.2h.5M169.9 519.6h.5M146.9 525.6h.5M159.6 520.1h.5M151.1 519.5h.5M149.6 526h.5M183.9 524.9h.5M178.1 508.4h.5M179.4 504.2h.5M173.9 517h.5M178.2 525.7h.5M148.8 526h.5M150.6 520.5h.5M182.2 507h.5M189.8 518.6h.5M184.4 524.8h.5M181.1 515.1h.5M183.4 518h.5M174.6 518.4h.5M175.3 507.7h.5M141.5 524h.5M179.6 518.8h.5M163.9 518.9h.5M192 518.4h.5M176.3 522.9h.5M155 518.4h.5M168.3 519h.5M178.6 510h.5M184.1 527h.5M182.4 510.9h.5M167.6 522h.5M189.7 515.4h.5M166.4 514.8h.5M179.3 507.2h.5M151.4 518h.5M178 507.6h.5M170.2 523.6h.5M153.8 522.1h.5M175.9 521.6h.5M175.9 517.3h.5M180.5 520.9h.5M186 498.3h.5M138 526.6h.5M190.7 512.8h.5M186.8 501.5h.5M171.2 506.5h.5M181.8 514.8h.5M172 507.3h.5M172 524.7h.5M166.7 510.3h.5M180.7 509.8h.5M168.2 511.1h.5M187.8 513.3h.5M182.8 513.1h.5M153.2 526.6h.5M187.6 522.3h.5M179.6 515.1h.5M167.1 513.4h.5M162.7 518h.5M180.2 526.4h.5M188 500h.5M186.2 525h.5M172.9 526.5h.5M183.6 516.7h.5M156.8 525.1h.5M163.4 517.7h.5M180.1 521.7h.5M146.8 523.5h.5M188.1 508.4h.5M175.2 504.6h.5M160.4 518.5h.5M175.9 514.8h.5M180.4 524.6h.5M174.6 524.5h.5M144.5 526.1h.5M149.3 522.4h.5M193.2 513.6h.5M157.2 521.6h.5M191.1 509.7h.5M190.2 520.8h.5M184.4 526.4h.5M183.9 516.8h.5M184.1 512.8h.5M181.5 516.1h.5M170.1 512.7h.5M188.4 510.2h.5M144.7 526.7h.5M187.8 513.8h.5M173.9 521h.5M193 524.2h.5M190.1 515.5h.5M194.2 525.4h.5M190.9 518.3h.5M183.5 516.6h.5M171.5 511.4h.5M183.1 514.8h.5M171.4 511.7h.5M182.8 505.9h.5M144.8 522.8h.5M181.7 516h.5M165.5 510h.5M158.6 524.6h.5M157.3 522.4h.5M174.6 517.4h.5M189.2 513.1h.5M187.1 519.3h.5M177.5 523h.5M187.9 509.1h.5M173.9 526.9h.5M153.4 519.9h.5M187.6 520.5h.5M174.9 508.3h.5M193.4 519.5h.5M180.7 502.3h.5M157.6 523.4h.5M179.7 521.9h.5M168.7 518.4h.5M182.4 521.8h.5M184.6 501.7h.5M173.3 507.5h.5M155.5 520.7h.5M161.4 518.7h.5M170.7 519.2h.5M180.2 516.2h.5M173.2 516.5h.5M185.7 500.8h.5M185.7 499.8h.5M191.9 511.9h.5M189.5 509.9h.5M149 519.6h.5M161.2 519.5h.5M162.4 522.1h.5M174.9 524.3h.5M170.1 513.8h.5M176 516.8h.5M181.7 509.4h.5M179 511.9h.5M167.9 519.6h.5M189.4 517.1h.5M158.7 525.3h.5M189 513.3h.5M170.2 513.7h.5M180 522h.5M184.6 505.7h.5M172.3 526.2h.5M190.6 513.1h.5M187.8 498.7h.5M164.8 518.5h.5M188.8 525.7h.5M162.9 515.7h.5M179.1 516.3h.5M154.5 520.3h.5M175.1 521.8h.5M161.1 515.9h.5M172.4 510.7h.5M192.8 513.3h.5M171.2 513h.5M189.8 506.5h.5M157.3 515.5h.5M165.8 524.7h.5M182.2 500.8h.5M157.6 517.1h.5M154.2 524.5h.5M152.9 521h.5M176.7 515.1h.5M169.4 512.4h.5M165.6 516.1h.5M182.1 522h.5M177 513.4h.5M179.1 511.2h.5M168.8 524.1h.5M149 525.4h.5M192.5 520.7h.5M179.1 514.8h.5M178.2 505.9h.5M159 524.3h.5M177.4 513.1h.5M168.3 508.2h.5M187.8 510.4h.5M183 509.2h.5M179.3 522.5h.5M191.3 514.8h.5M173 527h.5M154.5 522.3h.5M176 507.4h.5M183.7 517.2h.5M183.3 508.2h.5M162.6 514.6h.5M166.6 521.2h.5M189.1 515.4h.5M147.5 525h.5M182.1 524.9h.5M185 500.5h.5M168.7 510.1h.5M158 521.7h.5M188.8 513.4h.5M172.7 520.7h.5M165.6 511h.5M188 518.7h.5M173.1 522h.5M182.7 504.5h.5M174.9 517.5h.5M184.2 520.1h.5M163.9 524.8h.5M175.4 519.2h.5M185.1 517.2h.5M160.9 525.8h.5M164 517.4h.5M184.3 520.3h.5M185.3 517.8h.5M175.2 519.8h.5M180.6 501.5h.5M146.2 521.5h.5M184.2 500.1h.5M163.1 518h.5M178.2 520.2h.5M160.7 520.4h.5M177.8 520.7h.5M183.4 517.4h.5M186.2 522.1h.5M169.8 508.4h.5M161.3 526.2h.5M166.7 526.3h.5M175.1 524.4h.5M144 522.6h.5M187.1 505.4h.5M188.5 526.9h.5M154.3 525.1h.5M159.1 518.3h.5M170.9 515.3h.5M191.4 526.9h.5M180.2 522.5h.5" stroke="#333" stroke-width=".5" fill="none"/>
<path d="M172.6 516.2h.6M191.2 510.5h.6M164.8 519.8h.6M170.8 516.8h.6M171.2 525.5h.6M162.5 522.8h.6M145.9 526.5h.6M157.1 525.5h.6M174.7 523.9h.6M159.8 513.8h.6M154.2 517.3h.6M155 526h.6M155.4 524.5h.6M168.1 508.4h.6M137.6 526.5h.6M162 524.3h.6M164.1 519.3h.6M153.6 526.3h.6M183.2 500.6h.6M160.8 526.3h.6M173.8 514.9h.6M146.1 522.4h.6M149.7 519.6h.6M166.4 526.4h.6M191.3 524.3h.6M190.4 526.5h.6M152.5 520.3h.6M157.9 517.4h.6M176 521.7h.6M164.5 526.3h.6M155.4 517.9h.6M152.5 522.2h.6M167.2 510.8h.6M186.9 505.9h.6M182.8 501.7h.6M156.9 523.4h.6M138.1 526.8h.6M180.3 526.5h.6M170.2 507.5h.6M152.5 524.1h.6M153.1 517.9h.6M164.2 526.2h.6M167 515.2h.6M168.7 526.8h.6M190.6 519h.6M156.8 518.1h.6M191.4 512.1h.6M143.1 526.8h.6M163.2 516.9h.6M190.8 518.3h.6M189 505.6h.6M183.4 515.6h.6M180.2 516.9h.6M151.3 526.6h.6M179.7 526.4h.6M148.2 521.5h.6M170 510.4h.6M158.1 514.9h.6M158.8 526.4h.6M161.7 526h.6M190.8 517h.6M156 517h.6M183.1 526.4h.6M187.1 504.6h.6M169.8 508.2h.6M182.5 523.7h.6M181.8 512.3h.6M161.8 525.7h.6M184.6 524.7h.6M157.5 521.2h.6M157.5 526.3h.6M165.7 510.4h.6M156.5 514.9h.6M156.9 515.6h.6M162.9 525h.6M183.2 523.6h.6M157 515h.6M180.6 526.5h.6M144.1 522.4h.6M145.9 522.7h.6M172 518h.6M154.2 523.9h.6M137.1 526.9h.6M153.4 516.7h.6M191.5 516.8h.6M169.9 508.9h.6M145.7 526.6h.6M167.3 519.7h.6M139.3 525.9h.6M147.5 522.5h.6M191.9 521.9h.6M189.2 512.6h.6M151.8 522.1h.6M183.7 504.1h.6M184.2 519.8h.6M188.4 524.8h.6M158.5 524.1h.6M194.8 526.5h.6M172.9 526.9h.6M171.6 514.2h.6M143.8 523.9h.6M171.6 515.6h.6M143.7 524.2h.6M192.8 518.6h.6M181.8 520.3h.6M154.2 517.5h.6M154.5 517.8h.6M149.9 522.3h.6M164.4 510.4h.6M147.5 525.4h.6M145.1 521.5h.6M149.8 525.6h.6M142.4 524h.6M179.2 511.7h.6M178.8 517.8h.6M175.5 507.3h.6M153.8 516.8h.6M159.2 518.2h.6M182.8 526.8h.6M135.8 527.1h.6M166.7 526.5h.6M152.6 517.5h.6M180.5 507.2h.6M171 521.9h.6M145.6 527h.6M174 522.4h.6M159 517.9h.6M171.3 521.4h.6M171.4 524.6h.6M171.1 524.2h.6M153.1 519.2h.6M153.8 527h.6M171.3 507.8h.6M191.3 522.9h.6M193.7 525.6h.6M144.3 524.3h.6M186.9 512.2h.6M146.8 520.7h.6M150.6 524.6h.6M188.3 518.8h.6M156.9 514.8h.6M152.3 523.7h.6M185.7 499.8h.6M168.2 509.1h.6M161.1 516.4h.6M154.6 516.1h.6M161.5 525.9h.6M170.1 526.7h.6M143.2 523h.6M148.8 519.7h.6M167.4 526.4h.6M152.8 521.3h.6M142.2 527.1h.6M185.6 525.8h.6M154.9 521.1h.6M187.3 501h.6M176.8 504.1h.6M144.1 524.9h.6M165.7 513.3h.6M148.9 521.5h.6M166.1 526.5h.6M171.4 519h.6M166.9 522.8h.6M164.8 526.1h.6M156.2 520.6h.6M156.3 520.5h.6M152.9 522.7h.6M165.3 526h.6M182.9 500.4h.6M189.9 526.6h.6M175.7 526.9h.6M153 524.5h.6M143.9 524.7h.6M140.9 524.7h.6M189.1 526.1h.6M161.8 524.6h.6M193.8 525.5h.6M180 501.9h.6M179 512.6h.6M177.7 503.3h.6M183.7 524.8h.6M143.2 523.3h.6M160.3 513.6h.6M175.6 525h.6M156 523.5h.6M160.9 526.5h.6M176.6 513.5h.6M149.3 519.4h.6M150.4 525.2h.6M187.4 526.9h.6M155.7 516.7h.6M147.5 525.1h.6M160.9 523.1h.6M157.8 518.6h.6M187.4 516.8h.6M183.4 503.6h.6M172.2 521.5h.6M166.5 525.8h.6M168.6 516.4h.6M150.2 520.3h.6M189.2 521.9h.6M143.2 526.2h.6M147.2 523.8h.6M152.2 521.9h.6M167.5 517.2h.6M188.4 520.5h.6M182.1 512.4h.6M192.6 512h.6M161.2 512.8h.6M188.5 513.4h.6M183.5 509.3h.6M192.9 524.1h.6M165.8 527.1h.6M153.5 519.7h.6M189.7 509.5h.6M179.1 526.9h.6M184.3 512.6h.6M170.3 517.8h.6M153 517.6h.6M181.9 526.5h.6M178.8 523.7h.6M182.6 525.2h.6M153.4 521.6h.6M151.7 519.1h.6M146.2 527h.6M146.3 526.4h.6M163 527.2h.6M161.9 518.7h.6M144.3 524.8h.6M189.7 505.8h.6M150.6 526.7h.6M165.4 526.8h.6M191.5 514.5h.6M145.9 526.6h.6M175.1 525.6h.6M188.3 515.4h.6M159.3 519.7h.6M187 513.6h.6M192.7 517.9h.6M155.5 518.4h.6M142.4 524.6h.6M157.2 527h.6M179.6 504.1h.6M186.6 525.3h.6M187.2 505.6h.6M150 525.1h.6M174.7 504.7h.6M153.8 522.4h.6M165.1 516.9h.6M183 514.3h.6M184.5 515.3h.6M150.5 523h.6M180.1 519.9h.6M179.8 503.5h.6M147.6 526.8h.6M178.5 511.6h.6M188.4 526h.6M148.8 526h.6M181.4 502.2h.6M184.8 499.8h.6M186.8 499h.6M189.6 517.9h.6M165.4 521.3h.6M168.5 526.1h.6M192 509.3h.6M143.8 523.7h.6M174.3 505.2h.6M172.1 527h.6M176.3 525.6h.6M175.1 522.4h.6M150.5 524.9h.6M143.9 523.1h.6M151.3 521.1h.6M176.6 524.1h.6M155.9 524.1h.6M139.5 526.9h.6M144.8 521.9h.6M170.3 527h.6M149 519.7h.6M174.5 512.8h.6M194 526.4h.6M153.9 526.9h.6M149.2 526.6h.6M151.7 526.4h.6M184.1 499.4h.6M157.2 522.8h.6M161.2 518.3h.6M146.8 524.2h.6M180.3 501.8h.6M147.9 520.8h.6M157.8 517.6h.6M170.7 509.5h.6M149.9 519.9h.6M145 521.7h.6M191.9 514.8h.6M143.5 526.6h.6M180.9 517.5h.6M151.8 527.1h.6M159.6 526.4h.6M191.3 522.2h.6M185.2 518.8h.6M179.2 524.2h.6M183.1 524.2h.6M163.4 518.9h.6M181.1 501h.6M138.6 526.3h.6M181.6 509.9h.6M146.5 525.9h.6M138.3 525.5h.6M169 513.5h.6M171.6 525.9h.6M172 508.5h.6M183 525.9h.6M151.7 519.5h.6M176.2 522.5h.6M154.5 523.1h.6M160.6 517.4h.6M139.6 525h.6M158.4 526h.6M158.4 525.9h.6M143 525.7h.6M149.5 525.3h.6M150.3 527h.6M157.1 526.8h.6M170.5 524.2h.6M147.6 526.5h.6M141.1 526.2h.6M145.2 522.1h.6M155.8 522.3h.6M175 510.3h.6M158.2 514.1h.6M179.1 502.1h.6M168.3 508.6h.6M161.6 515.3h.6M182.4 526.7h.6M160.2 519.9h.6M188.2 500.9h.6M186.6 522.7h.6M150.4 523.5h.6M143.9 526.9h.6M171.2 527h.6M191.5 523.2h.6M188.1 499.3h.6M154 521.2h.6M143 523.6h.6M162.6 520.3h.6M142.3 526.4h.6M164.4 521.3h.6M168.9 519.4h.6M154.7 517.8h.6M148.6 523.4h.6M161.5 512.6h.6M147 521.9h.6M179.4 511.7h.6M143.4 523.6h.6M144.2 526.6h.6M190.1 525.7h.6M149.6 524h.6M150.6 522.8h.6M158.7 514.3h.6M175.3 526.3h.6M153.9 523.2h.6M146.4 526.7h.6M167.7 526.6h.6M188.9 511.5h.6M182.2 518h.6M158.9 513.9h.6M150.6 524.6h.6M147.9 524.1h.6M154.7 519.9h.6M170.5 527.2h.6M139.8 525.2h.6M152.7 518.1h.6M150.5 525.6h.6M167.7 511.7h.6M163.8 512.3h.6M153.5 522.8h.6M146.1 526.9h.6M153.4 523.1h.6M175.5 525.7h.6M186.4 524.5h.6M152.5 519.3h.6M176.6 525.5h.6M168.4 511.9h.6M175.2 526.7h.6M163.9 524h.6M159.3 521.5h.6M180.3 503.2h.6M143.1 524.3h.6M193.7 524h.6M186.3 515.2h.6M155.1 525.4h.6M171.1 526.9h.6M148.5 527.2h.6M162.6 520.6h.6M147.1 526.3h.6M187.2 519.1h.6M179 526.1h.6M153.1 520.1h.6M170.4 507.4h.6M154.4 516.4h.6M184.7 500.4h.6M168.2 518.6h.6M194.7 523h.6M178.2 527h.6M174.1 506.5h.6M162.3 526.9h.6M186.4 503.4h.6M188.9 525.7h.6M178.8 519.5h.6M139.4 526.5h.6M181.2 512.7h.6M186.1 526.6h.6M160.1 515.9h.6M190.5 510.9h.6M158 518.7h.6M138.1 526.7h.6M146.5 522.4h.6M139.5 526.4h.6M172.4 511.5h.6M185.3 522.9h.6M161.9 526.6h.6M151.8 520.8h.6M182.1 517.4h.6M172 507.5h.6M151.8 517.7h.6M163.8 512.6h.6M142.7 527.1h.6M165.8 512.6h.6M153 525h.6M141.6 526.1h.6M144.5 526.8h.6M158.3 515.4h.6M155.5 522.4h.6M157.2 526.3h.6M183.1 500.8h.6M185.7 505.2h.6M156 526.4h.6M147.5 524.3h.6M174.3 526.2h.6M148.7 526.7h.6M143.7 527h.6M162.9 527.1h.6M178.8 506.5h.6M183.3 502.5h.6M168 514.6h.6M186.8 497.4h.6M158.1 521h.6M155.7 515.5h.6M179.2 506.7h.6M144.6 524.9h.6M155 522.3h.6M157.8 519.2h.6M180.2 526.6h.6M162.8 523.4h.6M166 526.1h.6M185.6 505.3h.6M180.9 506.5h.6M149.2 524.9h.6M175.8 505.5h.6M187 507.9h.6M168 526.6h.6M183.3 501.6h.6M167.1 526.5h.6M193.1 514.8h.6M191.9 525h.6M174.6 523.3h.6M187.2 501.3h.6M153.5 521.3h.6M152 522.7h.6M186 506.3h.6M146.4 522.3h.6M141.9 523.6h.6M146.8 524.3h.6M154.6 527.1h.6M178.5 507.7h.6M186 506.4h.6M150.5 525.7h.6M172.3 515.3h.6M154.8 526.8h.6M194.2 525.5h.6M144.2 522.1h.6M170 517.4h.6M152.5 522h.6M150.3 522.1h.6M149.8 520.6h.6M192.3 515.7h.6M172.4 506.6h.6M159.8 520.9h.6M148.2 525.4h.6M172.4 509.3h.6M142.8 524h.6M146.4 522.7h.6M188.7 514.9h.6M146.3 524.3h.6M145.3 525.3h.6M194.9 526.8h.6M144 525.8h.6M153.1 527.1h.6M148.2 521.6h.6M163.2 516.3h.6M191 515.8h.6M192.1 524.2h.6M184.2 525.1h.6M153 520.2h.6M148.8 520.2h.6M141.5 523.6h.6M140 526.5h.6M157.4 527h.6M179.7 517.3h.6M142.7 524.9h.6M158.5 526.5h.6M169.9 507.4h.6M184.7 526.8h.6M175.2 513.7h.6M188.2 514.2h.6M187 524.8h.6M158.7 518.2h.6M188.3 506.5h.6M148 520.9h.6M181.6 524.4h.6M185.3 512.2h.6M151.7 526.1h.6M165.4 526.3h.6M163.7 525.8h.6M187.2 517.1h.6M148.7 523.9h.6M176.5 515.4h.6M176.2 505.7h.6M177.8 510h.6M185.4 501h.6M151.9 522.5h.6M161.4 512.4h.6M148.8 520.7h.6M189.4 522.7h.6M159.9 514.3h.6M154.1 524.2h.6M144 526.3h.6M140.7 526h.6M156.1 519.2h.6M164.5 517h.6M173 505.5h.6M143.7 526.8h.6M190.4 525.4h.6M185.7 520.3h.6M147.6 523.8h.6M162.9 518.3h.6M140.9 524.6h.6M177 520.2h.6M181.5 501.1h.6M189.6 522.7h.6M179.6 526.1h.6M159.3 514.9h.6M158.5 525.1h.6M160.3 527.1h.6M155.1 518.8h.6M167.3 523.6h.6M158.8 522.4h.6M161.8 512.6h.6M178.6 504.7h.6M152.3 525.5h.6M187.1 499.8h.6M145.6 524.8h.6M136.1 526.8h.6M160.4 516.7h.6M140.7 525.8h.6M185 512.2h.6M171.6 506.6h.6M176.4 504.1h.6M144.2 525.3h.6M178.5 526h.6M191.6 510h.6M182.1 520.2h.6M148.4 525.3h.6M174 505.6h.6M178.9 507.4h.6M184.9 512.6h.6M183.1 509.2h.6M179.1 525.5h.6M170.7 518.9h.6M178.5 504.7h.6M190.1 524.5h.6M142.1 524.5h.6M167.8 512.7h.6M188.4 523.7h.6M145.9 525.1h.6M173 505.6h.6M161.3 523.3h.6M193.7 525.8h.6M186.6 525.8h.6M160.9 521.4h.6M185.7 526.7h.6M153.4 520.3h.6M187.8 514.6h.6M143.4 525.9h.6M154.5 520.8h.6M171.9 508.6h.6M172.2 510.5h.6M144.5 526h.6M190 525.1h.6M161.8 514.4h.6M181.4 508.1h.6M162.8 512.1h.6M145.4 522.5h.6M159.8 516.1h.6M178.5 516.4h.6M170.2 513.1h.6M180.8 517.7h.6M176.7 524.4h.6M156.6 527.2h.6M160.1 524.8h.6M144.9 526.3h.6M160.9 513.3h.6M146.9 523.3h.6M157.6 519.7h.6M166.3 512.9h.6M146.5 524.4h.6M158.4 520.2h.6M155.5 519.2h.6M169.7 515.4h.6" stroke="#000" stroke-width=".6" fill="none"/>
<path d="M171.6 526.2h.8M172.3 526.7h.8M174.1 526.7h.8M167.2 525.7h.8M168.7 525.2h.8M167.5 524.2h.8M166.2 525.2h.8M166.3 525.3h.8M166.5 525.6h.8M156.9 522.3h.8M157.5 522.3h.8M155.1 522.8h.8M193 518.2h.8M193.1 517.7h.8M193.6 516.9h.8M193.7 517.5h.8M193.1 519.3h.8M193.1 519.2h.8M183 507.4h.8M182.8 506.5h.8M183 508.5h.8M183.3 506.6h.8M182.7 507.8h.8M181.7 505.7h.8M162.6 523.1h.8M161.3 522h.8M162.8 523.8h.8M163.2 523.3h.8M145.2 523.1h.8M144.4 522.5h.8M146.9 522h.8M146.2 522.9h.8M146.5 521.7h.8M144.9 522.9h.8M181.8 502.1h.8M180 502.3h.8M139.9 527.2h.8M140.1 526.5h.8M139.4 526.3h.8M138.8 526.7h.8M190.9 522.2h.8M192.5 522.2h.8M192.1 522h.8M191.7 523.8h.8M191.5 521.1h.8M180.8 514.9h.8M180.7 514.4h.8M180.9 515.2h.8M178.3 515.2h.8M180.1 514.7h.8M158.4 521.1h.8M158.1 520.3h.8M160.4 518.8h.8M141.3 524.4h.8M142.7 524.6h.8M187.7 516.8h.8M187.7 516.6h.8M187.5 517.2h.8M146.3 523.1h.8M145.4 523.2h.8M145.3 521.8h.8M168.2 523.2h.8M169.7 524.4h.8M170.7 522.9h.8M169.8 524.1h.8M170 524.4h.8M171 524.1h.8M185.9 515h.8M184.7 514.2h.8M185.3 515.6h.8M185.2 516.3h.8M191.6 516.7h.8M190.6 516h.8M189.6 514.8h.8M191.2 515.9h.8M151.3 519.4h.8M139 525.6h.8M140 527.2h.8M139.7 525h.8M140.8 526h.8M177.7 503.7h.8M178.8 504.1h.8M174.7 526.1h.8M175 526.4h.8M175.8 526.7h.8M173.7 525h.8M179.8 513.3h.8M180.6 513.2h.8M179.6 512.3h.8M157.5 524.1h.8M157.8 525.4h.8M158.5 524.8h.8M157.9 525.5h.8M157.7 523.2h.8M157.3 522.9h.8M147.4 521.8h.8M147.4 520.8h.8M147.7 521.1h.8M147.7 521.3h.8M186.6 525.7h.8M153.4 524.4h.8M154.6 524.3h.8M154.2 521.4h.8M153.4 522.6h.8M186.6 506.8h.8M186.2 506.5h.8M186.7 506.4h.8M186.2 505.9h.8M163.9 520.1h.8M163.7 519.5h.8M160.9 519.6h.8M193.1 526.5h.8" stroke="#000" stroke-width=".8" fill="none"/>
<path class="wl" d="M135.5 527.2H195.4A59.9 59.9 0 0 0 187.4 497.3Z"/>
<text class="k" x="128.5" y="533.4">0001</text>
<text class="k" x="183.6" y="533.4">2110</text>
<path d="M187.3 529.9h3M191.1 529.9h3" stroke="#333" stroke-width=".5" fill="none"/>
<text class="k" x="185.4" y="493.2">1010</text>
<path d="M192.9 489.6h3" stroke="#333" stroke-width=".5" fill="none"/>
</g>
<g id="ipf-15">
<path d="M302.6 556.8h.6M303.7 557.2h.6M300.2 565.6h.6M299.6 543.9h.6M310.4 558.5h.6M311.6 565.9h.6M305.4 543.6h.6M311.2 564.3h.6M305.4 551.3h.6M307.1 544.5h.6M305.7 551.5h.6M302.5 553.3h.6M309.9 553.1h.6M302.4 561.2h.6M302.4 547.3h.6M298.7 545.9h.6M301.4 544.2h.6M305.4 547.7h.6M310.2 566.8h.6M308.4 559h.6M306.9 546.8h.6M300.5 550.8h.6M297.2 546.2h.6M309.9 555.6h.6M310.5 559.7h.6M308.5 549.3h.6M311.5 562.8h.6M300.3 564.2h.6M298.5 542.5h.6M310 555.8h.6M301.9 561.5h.6M302 539.1h.6M311.9 564.3h.6M301.1 559.3h.6M303.5 552.4h.6M299.6 547.1h.6M306.5 542.4h.6M309.7 564h.6M311 559.1h.6M300.6 562.8h.6M305.8 557.8h.6M301.8 554.4h.6M311.8 567.4h.6M310.1 553.9h.6M305.6 561.1h.6M294.8 543.2h.6M301.8 554.8h.6M300 541.1h.6M300.4 555.9h.6M303.6 565.5h.6M300 547.1h.6M300.2 563.1h.6M295.6 547.2h.6M309.3 560.4h.6M306.8 556.8h.6M304.7 540.6h.6M306.5 549.7h.6M309.3 555.2h.6M298 550.1h.6M302.1 543.2h.6M306.4 549.4h.6M303.2 541h.6M304.4 566h.6M297.7 543.5h.6M302.8 539.9h.6M309 561.7h.6M308.7 548h.6M307.8 558.1h.6M309.7 560.6h.6M308.7 548.3h.6M301.1 564.4h.6M308.8 553.3h.6M305.8 546.6h.6M308.9 554.9h.6M296.1 543.6h.6M304.9 541.7h.6M302 562h.6M305.6 566.1h.6M311.1 560.6h.6M307.6 558.7h.6M298.9 543.2h.6M300.3 566.3h.6M295.9 542.4h.6M298.8 542.1h.6M310.3 566.1h.6M304.6 541.7h.6M294.3 544.6h.6M302.9 545.7h.6M303.1 563.7h.6M308.6 547.4h.6M306.6 562.5h.6M302.3 543.4h.6M309.5 552.4h.6M308.7 565h.6M308.4 555.7h.6M301.3 552.1h.6M300.5 563h.6M307.5 544.7h.6M302.6 559.3h.6M307.3 555.8h.6" stroke="#222" stroke-width=".6" fill="none"/>
<path d="M294.7 544.4h.6M302.7 553.2h.6M302.3 552.2h.6M303.1 566.3h.6M300.1 567h.6M311.2 559.8h.6M301.6 550.8h.6M295.6 542.2h.6M296.5 546.2h.6M302.1 558.5h.6M300.7 560.6h.6M302.6 561.5h.6M307.8 545.8h.6M304.2 555.7h.6M297.9 551.7h.6M297.6 548.2h.6M307.8 548h.6M301.2 544.3h.6M301 559.1h.6M300.4 549.2h.6M300 551.1h.6M302.7 566.3h.6M296.6 542h.6M301.8 564.4h.6M300.9 549.9h.6M298.2 548.5h.6M299.8 544.7h.6M300.6 543.9h.6M305.4 549.8h.6M300.4 560.2h.6M299.1 542.9h.6M301 562.6h.6M307.4 566.7h.6M299.5 559.7h.6M308.7 549.1h.6M301.9 561.6h.6M298.7 548.7h.6M297.1 545.5h.6M299.2 558.7h.6M302.4 566.6h.6M301.8 555.3h.6M301.4 563.6h.6M298.6 554.7h.6M311.5 563h.6M301.9 557.3h.6M306.4 563.7h.6M299.1 553.8h.6M302 561.3h.6M302 559.7h.6M298.6 552.4h.6M308.1 560.5h.6M300.7 554.3h.6M300.5 566.3h.6M308.3 566.7h.6M300.7 551.8h.6M298.3 553.6h.6M299.9 554.6h.6M299.1 554.9h.6M301.5 559h.6M304.9 554.7h.6M299 554h.6M299.2 550.3h.6M299.9 556.8h.6M300.3 557.5h.6M305.5 560.7h.6M305 547.3h.6M303 567h.6M299.7 559.5h.6M306.9 561.2h.6M299.9 556.4h.6M297.5 547.5h.6M302.9 548.3h.6M308.5 549.7h.6M299 552.9h.6M300.4 566.4h.6M301.2 563.2h.6M302.6 565.7h.6M304.4 566.2h.6M299.3 542.6h.6M301.1 561.1h.6M302.1 567.3h.6M301.1 543.8h.6M309.5 567h.6M298.8 550.3h.6M298.7 550h.6M305.8 563.4h.6M305.5 565h.6M307.9 564.8h.6M300.3 554.7h.6M300.3 558.2h.6M296.6 543.5h.6M306 560.8h.6M299.5 546.4h.6M301 546.4h.6M301.2 554.6h.6M300.9 544.6h.6M298.5 555.3h.6M298.4 555.2h.6M303.3 545.4h.6M302.5 558.8h.6M301.2 560.3h.6M299 548h.6M301.6 560.2h.6M300.3 564.6h.6M302.9 565.4h.6M300.7 542.9h.6M301.6 560.8h.6M302.6 540.2h.6M298.8 544.7h.6M301.5 550.6h.6M298 542.7h.6M301.3 548.6h.6M301.2 555.2h.6M302.9 560.4h.6M295.7 547.6h.6M297.7 545.9h.6M301 552.4h.6M295.5 544.6h.6M298.2 546.4h.6M302.6 562.9h.6M297.6 543.8h.6M305.3 563.4h.6M296.8 543.4h.6M297.2 546.2h.6M300.2 560.5h.6M301.9 561.9h.6M301.2 542.2h.6M300.7 550.2h.6M294 543.1h.6M307.5 562.7h.6" stroke="#222" stroke-width=".6" fill="none"/>
<path d="M298.2 542.2h.8M296.5 542.7h.8M305.3 554.1h.8M303.7 553.8h.8M303.1 552.8h.8M304.9 554h.8M299.3 549.2h.8M299.8 548.2h.8M299.7 548.1h.8M298.5 547.2h.8M300.5 547.4h.8M298.5 546.7h.8M301.9 544.7h.8M302.7 547h.8M303.4 546.4h.8M302.1 545.9h.8M303 546.4h.8M298.4 552.7h.8M299.5 551.1h.8M298.3 551.4h.8M299.1 551.2h.8M305.7 558.9h.8M304.3 557.7h.8M305.3 558.9h.8M305.1 558.1h.8M305.6 557.5h.8M305.4 558.6h.8M307.2 566.1h.8M308.1 565.6h.8M302.4 549.6h.8M303.2 551h.8M303.8 550.6h.8M301.5 551h.8M302.9 549.1h.8M302.1 550.1h.8M302.5 562.9h.8M303.2 562h.8M301.7 561.7h.8M302.4 561.9h.8M302 563.1h.8M296.5 542.9h.8M297.3 542.4h.8M296.7 543.2h.8M296.1 543.6h.8M296.3 542.8h.8" stroke="#000" stroke-width=".8" fill="none"/>
<path class="wl" d="M251.9 567.4H312.3A60.4 60.4 0 0 0 304.2 537.2Z"/>
<path class="wd" d="M300.1 567.4A48.2 48.2 0 0 0 293.6 543.3"/>
<text class="k" x="244.9" y="573.6">0001</text>
<text class="k" x="300.5" y="573.6">2110</text>
<path d="M304.2 570.1h3M308 570.1h3" stroke="#333" stroke-width=".5" fill="none"/>
<text class="k" x="302.2" y="533.1">1010</text>
<path d="M309.7 529.5h3" stroke="#333" stroke-width=".5" fill="none"/>
</g>
<g id="arrows" fill="#000" stroke="#000">
<path d="M61.8 51.6L55.6 64" stroke-width="1.15" fill="none"/>
<path d="M52.3 70.5L53.8 62L58.2 64.2Z" stroke="none"/>
<path d="M144.2 54.5L123.9 60.1" stroke-width="1.15" fill="none"/>
<path d="M116.9 62.1L124.2 57.5L125.6 62.2Z" stroke="none"/>
<path d="M226.5 172.8L230.9 182.5" stroke-width="1.15" fill="none"/>
<path d="M233.9 189.2L228.3 182.6L232.7 180.6Z" stroke="none"/>
<path d="M377 86L357.4 100" stroke-width="1.15" fill="none"/>
<path d="M351.5 104.2L356.8 97.4L359.7 101.4Z" stroke="none"/>
<path d="M444.4 144.4L426.2 157.6" stroke-width="1.15" fill="none"/>
<path d="M420.3 161.9L425.6 155L428.5 159Z" stroke="none"/>
<path d="M549.8 78.7L545.3 86.2" stroke-width="1.15" fill="none"/>
<path d="M541.5 92.4L543.7 84L547.9 86.6Z" stroke="none"/>
<path d="M69 306L56.1 329.6" stroke-width="1.15" fill="none"/>
<path d="M52.6 336L54.4 327.5L58.7 329.9Z" stroke="none"/>
<path d="M129.3 359.1L118.9 368.3" stroke-width="1.15" fill="none"/>
<path d="M113.4 373.1L118 365.8L121.2 369.5Z" stroke="none"/>
<path d="M241.8 273.6L235.2 283.9" stroke-width="1.15" fill="none"/>
<path d="M231.2 290L233.6 281.7L237.8 284.4Z" stroke="none"/>
<path d="M381.7 303.4L360.9 323.1" stroke-width="1.15" fill="none"/>
<path d="M355.6 328.1L359.9 320.6L363.3 324.2Z" stroke="none"/>
<path d="M445 338L428.3 350.3" stroke-width="1.15" fill="none"/>
<path d="M422.4 354.6L427.6 347.7L430.5 351.7Z" stroke="none"/>
<path d="M580.3 312.4L566.1 327.4" stroke-width="1.15" fill="none"/>
<path d="M561.1 332.7L565 325L568.6 328.4Z" stroke="none"/>
<path d="M67.5 508.1L55.6 524.4" stroke-width="1.15" fill="none"/>
<path d="M51.3 530.3L54.2 522.2L58.2 525Z" stroke="none"/>
<path d="M146 533.7L134.7 545.2" stroke-width="1.15" fill="none"/>
<path d="M129.6 550.4L133.7 542.8L137.2 546.2Z" stroke="none"/>
<path d="M271.9 573L267.1 578.7" stroke-width="1.15" fill="none"/>
<path d="M262.3 584.2L265.8 576.3L269.6 579.5Z" stroke="none"/>
</g>
<text class="ps" x="1.5" y="24.8" font-size="18.9">(a)</text>
<text class="pr" x="292.6" y="23.4" font-size="18.8">(b)</text>
<text class="pr" x="7.4" y="246.9" font-size="18.8">(c)</text>
<text class="pr" x="295.2" y="250.8" font-size="18.8">(d)</text>
<text class="ps" x="0" y="491.2" font-size="19.3">(e)</text>
</g>
</svg>
</body></html>
